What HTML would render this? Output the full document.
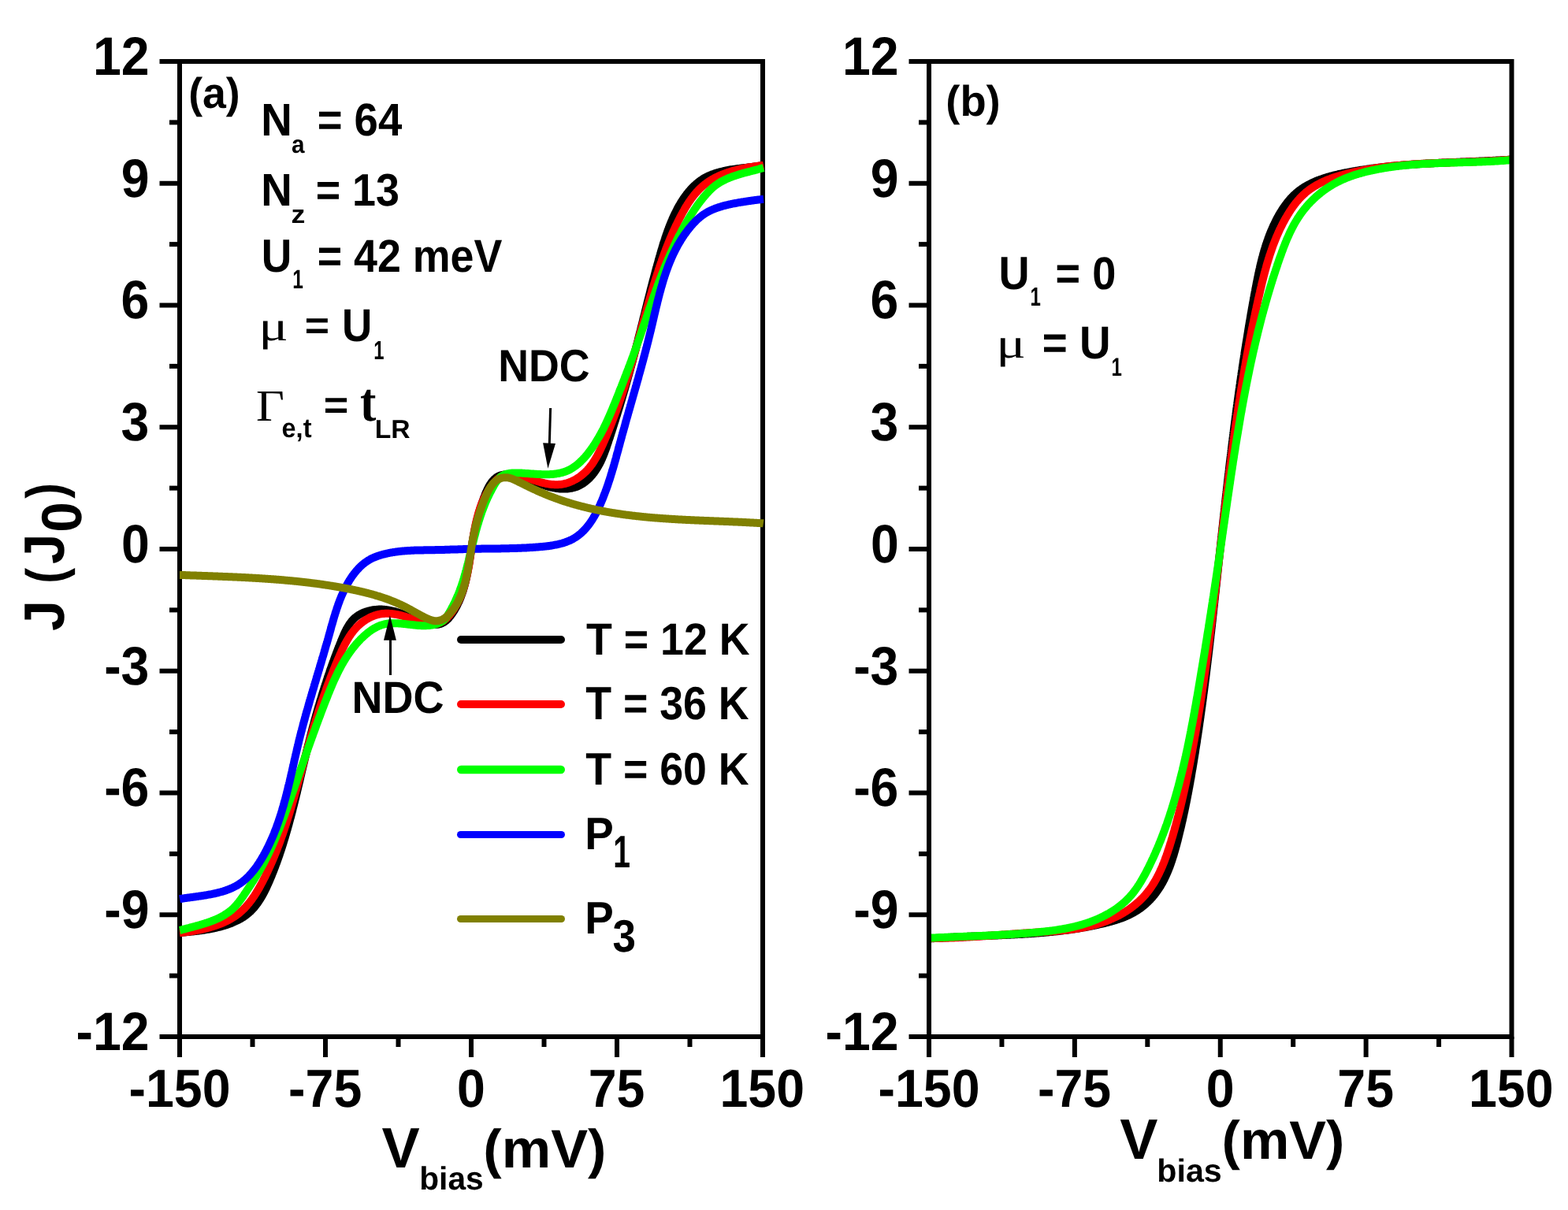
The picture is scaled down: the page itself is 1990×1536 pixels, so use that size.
<!DOCTYPE html>
<html><head><meta charset="utf-8"><title>J-V characteristics</title>
<style>
html,body{margin:0;padding:0;background:#fff;}
body{width:1990px;height:1536px;overflow:hidden;}
svg{display:block;}
text{font-kerning:none;white-space:pre;text-rendering:geometricPrecision;}
</style></head><body>
<svg width="1990" height="1536" viewBox="0 0 1990 1536">
<rect x="0" y="0" width="1990" height="1536" fill="#fff"/>
<rect x="228" y="78" width="740" height="1238" fill="none" stroke="#000" stroke-width="6"/>
<line x1="202.5" y1="1316.00" x2="228" y2="1316.00" stroke="#000" stroke-width="6"/>
<line x1="202.5" y1="1161.25" x2="228" y2="1161.25" stroke="#000" stroke-width="6"/>
<line x1="202.5" y1="1006.50" x2="228" y2="1006.50" stroke="#000" stroke-width="6"/>
<line x1="202.5" y1="851.75" x2="228" y2="851.75" stroke="#000" stroke-width="6"/>
<line x1="202.5" y1="697.00" x2="228" y2="697.00" stroke="#000" stroke-width="6"/>
<line x1="202.5" y1="542.25" x2="228" y2="542.25" stroke="#000" stroke-width="6"/>
<line x1="202.5" y1="387.50" x2="228" y2="387.50" stroke="#000" stroke-width="6"/>
<line x1="202.5" y1="232.75" x2="228" y2="232.75" stroke="#000" stroke-width="6"/>
<line x1="202.5" y1="78.00" x2="228" y2="78.00" stroke="#000" stroke-width="6"/>
<line x1="215" y1="1238.62" x2="228" y2="1238.62" stroke="#000" stroke-width="6"/>
<line x1="215" y1="1083.88" x2="228" y2="1083.88" stroke="#000" stroke-width="6"/>
<line x1="215" y1="929.12" x2="228" y2="929.12" stroke="#000" stroke-width="6"/>
<line x1="215" y1="774.38" x2="228" y2="774.38" stroke="#000" stroke-width="6"/>
<line x1="215" y1="619.62" x2="228" y2="619.62" stroke="#000" stroke-width="6"/>
<line x1="215" y1="464.88" x2="228" y2="464.88" stroke="#000" stroke-width="6"/>
<line x1="215" y1="310.12" x2="228" y2="310.12" stroke="#000" stroke-width="6"/>
<line x1="215" y1="155.38" x2="228" y2="155.38" stroke="#000" stroke-width="6"/>
<line x1="228.00" y1="1316" x2="228.00" y2="1342" stroke="#000" stroke-width="6"/>
<line x1="413.00" y1="1316" x2="413.00" y2="1342" stroke="#000" stroke-width="6"/>
<line x1="598.00" y1="1316" x2="598.00" y2="1342" stroke="#000" stroke-width="6"/>
<line x1="783.00" y1="1316" x2="783.00" y2="1342" stroke="#000" stroke-width="6"/>
<line x1="968.00" y1="1316" x2="968.00" y2="1342" stroke="#000" stroke-width="6"/>
<line x1="320.50" y1="1316" x2="320.50" y2="1329" stroke="#000" stroke-width="6"/>
<line x1="505.50" y1="1316" x2="505.50" y2="1329" stroke="#000" stroke-width="6"/>
<line x1="690.50" y1="1316" x2="690.50" y2="1329" stroke="#000" stroke-width="6"/>
<line x1="875.50" y1="1316" x2="875.50" y2="1329" stroke="#000" stroke-width="6"/>
<text transform="matrix(0.6440 0 0 0.6871 96.60 1332.90)" font-size="100" font-family='"Liberation Sans", Arial, sans-serif' font-weight="bold" fill="#000">-12</text>
<text transform="matrix(0.6440 0 0 0.6871 132.23 1178.15)" font-size="100" font-family='"Liberation Sans", Arial, sans-serif' font-weight="bold" fill="#000">-9</text>
<text transform="matrix(0.6440 0 0 0.6871 132.17 1023.40)" font-size="100" font-family='"Liberation Sans", Arial, sans-serif' font-weight="bold" fill="#000">-6</text>
<text transform="matrix(0.6440 0 0 0.6871 132.17 868.65)" font-size="100" font-family='"Liberation Sans", Arial, sans-serif' font-weight="bold" fill="#000">-3</text>
<text transform="matrix(0.6440 0 0 0.6871 153.93 713.90)" font-size="100" font-family='"Liberation Sans", Arial, sans-serif' font-weight="bold" fill="#000">0</text>
<text transform="matrix(0.6440 0 0 0.6871 153.61 559.15)" font-size="100" font-family='"Liberation Sans", Arial, sans-serif' font-weight="bold" fill="#000">3</text>
<text transform="matrix(0.6440 0 0 0.6871 153.61 404.40)" font-size="100" font-family='"Liberation Sans", Arial, sans-serif' font-weight="bold" fill="#000">6</text>
<text transform="matrix(0.6440 0 0 0.6871 153.67 249.65)" font-size="100" font-family='"Liberation Sans", Arial, sans-serif' font-weight="bold" fill="#000">9</text>
<text transform="matrix(0.6440 0 0 0.6871 118.05 94.90)" font-size="100" font-family='"Liberation Sans", Arial, sans-serif' font-weight="bold" fill="#000">12</text>
<text transform="matrix(0.6450 0 0 0.6805 163.52 1404.70)" font-size="100" font-family='"Liberation Sans", Arial, sans-serif' font-weight="bold" fill="#000">-150</text>
<text transform="matrix(0.6450 0 0 0.6805 366.03 1404.70)" font-size="100" font-family='"Liberation Sans", Arial, sans-serif' font-weight="bold" fill="#000">-75</text>
<text transform="matrix(0.6450 0 0 0.6805 580.11 1404.70)" font-size="100" font-family='"Liberation Sans", Arial, sans-serif' font-weight="bold" fill="#000">0</text>
<text transform="matrix(0.6450 0 0 0.6805 746.64 1404.70)" font-size="100" font-family='"Liberation Sans", Arial, sans-serif' font-weight="bold" fill="#000">75</text>
<text transform="matrix(0.6450 0 0 0.6805 913.48 1404.70)" font-size="100" font-family='"Liberation Sans", Arial, sans-serif' font-weight="bold" fill="#000">150</text>
<text transform="matrix(0.6440 0 0 0.6871 1047.60 1332.90)" font-size="100" font-family='"Liberation Sans", Arial, sans-serif' font-weight="bold" fill="#000">-12</text>
<text transform="matrix(0.6440 0 0 0.6871 1083.23 1178.15)" font-size="100" font-family='"Liberation Sans", Arial, sans-serif' font-weight="bold" fill="#000">-9</text>
<text transform="matrix(0.6440 0 0 0.6871 1083.17 1023.40)" font-size="100" font-family='"Liberation Sans", Arial, sans-serif' font-weight="bold" fill="#000">-6</text>
<text transform="matrix(0.6440 0 0 0.6871 1083.17 868.65)" font-size="100" font-family='"Liberation Sans", Arial, sans-serif' font-weight="bold" fill="#000">-3</text>
<text transform="matrix(0.6440 0 0 0.6871 1104.93 713.90)" font-size="100" font-family='"Liberation Sans", Arial, sans-serif' font-weight="bold" fill="#000">0</text>
<text transform="matrix(0.6440 0 0 0.6871 1104.61 559.15)" font-size="100" font-family='"Liberation Sans", Arial, sans-serif' font-weight="bold" fill="#000">3</text>
<text transform="matrix(0.6440 0 0 0.6871 1104.61 404.40)" font-size="100" font-family='"Liberation Sans", Arial, sans-serif' font-weight="bold" fill="#000">6</text>
<text transform="matrix(0.6440 0 0 0.6871 1104.67 249.65)" font-size="100" font-family='"Liberation Sans", Arial, sans-serif' font-weight="bold" fill="#000">9</text>
<text transform="matrix(0.6440 0 0 0.6871 1069.05 94.90)" font-size="100" font-family='"Liberation Sans", Arial, sans-serif' font-weight="bold" fill="#000">12</text>
<text transform="matrix(0.6450 0 0 0.6805 1114.52 1404.70)" font-size="100" font-family='"Liberation Sans", Arial, sans-serif' font-weight="bold" fill="#000">-150</text>
<text transform="matrix(0.6450 0 0 0.6805 1316.90 1404.70)" font-size="100" font-family='"Liberation Sans", Arial, sans-serif' font-weight="bold" fill="#000">-75</text>
<text transform="matrix(0.6450 0 0 0.6805 1530.86 1404.70)" font-size="100" font-family='"Liberation Sans", Arial, sans-serif' font-weight="bold" fill="#000">0</text>
<text transform="matrix(0.6450 0 0 0.6805 1697.27 1404.70)" font-size="100" font-family='"Liberation Sans", Arial, sans-serif' font-weight="bold" fill="#000">75</text>
<text transform="matrix(0.6450 0 0 0.6805 1863.98 1404.70)" font-size="100" font-family='"Liberation Sans", Arial, sans-serif' font-weight="bold" fill="#000">150</text>
<path d="M228.2 1184.1L229.2 1184.0L230.3 1183.9L231.4 1183.8L232.5 1183.7L233.6 1183.5L234.7 1183.4L235.8 1183.3L236.9 1183.2L238.1 1183.1L239.2 1183.0L240.4 1182.9L241.5 1182.8L242.7 1182.6L243.8 1182.5L245.0 1182.4L246.2 1182.3L247.4 1182.1L248.6 1182.0L249.8 1181.8L251.0 1181.7L252.2 1181.5L253.4 1181.4L254.6 1181.2L255.8 1181.0L257.0 1180.9L258.2 1180.7L259.4 1180.5L260.6 1180.3L261.9 1180.1L263.1 1179.9L264.3 1179.7L265.5 1179.5L266.7 1179.3L268.0 1179.0L269.2 1178.8L270.4 1178.6L271.6 1178.3L272.8 1178.0L274.1 1177.8L275.3 1177.5L276.5 1177.2L277.7 1176.9L278.9 1176.6L280.1 1176.3L281.3 1176.0L282.5 1175.6L283.6 1175.3L284.8 1174.9L286.0 1174.6L287.2 1174.2L288.3 1173.8L289.5 1173.4L290.6 1173.0L291.8 1172.6L292.9 1172.2L294.0 1171.7L295.1 1171.3L296.2 1170.8L297.3 1170.3L298.4 1169.8L299.5 1169.3L300.6 1168.8L301.6 1168.3L302.7 1167.7L303.7 1167.2L304.8 1166.6L305.8 1166.0L306.8 1165.4L307.8 1164.8L308.8 1164.2L309.7 1163.5L310.7 1162.9L311.6 1162.2L312.5 1161.5L313.4 1160.8L314.3 1160.1L315.2 1159.4L316.1 1158.6L316.9 1157.8L317.8 1157.1L318.6 1156.3L319.4 1155.5L320.2 1154.6L321.0 1153.8L321.8 1152.9L322.5 1152.1L323.3 1151.2L324.0 1150.3L324.7 1149.4L325.4 1148.5L326.1 1147.5L326.8 1146.6L327.5 1145.6L328.1 1144.7L328.8 1143.7L329.4 1142.7L330.1 1141.7L330.7 1140.7L331.3 1139.7L331.9 1138.7L332.5 1137.7L333.1 1136.7L333.7 1135.6L334.2 1134.6L334.8 1133.5L335.3 1132.5L335.9 1131.4L336.4 1130.3L337.0 1129.2L337.5 1128.2L338.0 1127.1L338.5 1126.0L339.0 1124.9L339.5 1123.8L340.0 1122.7L340.5 1121.6L341.0 1120.5L341.5 1119.4L342.0 1118.3L342.5 1117.1L342.9 1116.0L343.4 1114.9L343.9 1113.8L344.3 1112.7L344.8 1111.6L345.2 1110.4L345.7 1109.3L346.1 1108.2L346.6 1107.1L347.0 1106.0L347.5 1104.8L347.9 1103.7L348.3 1102.6L348.8 1101.5L349.2 1100.4L349.6 1099.2L350.0 1098.1L350.4 1097.0L350.9 1095.9L351.3 1094.7L351.7 1093.6L352.1 1092.5L352.5 1091.3L352.9 1090.2L353.3 1089.1L353.7 1088.0L354.1 1086.8L354.5 1085.7L354.9 1084.6L355.2 1083.4L355.6 1082.3L356.0 1081.2L356.4 1080.0L356.8 1078.9L357.1 1077.8L357.5 1076.6L357.9 1075.5L358.2 1074.3L358.6 1073.2L359.0 1072.1L359.3 1070.9L359.7 1069.8L360.0 1068.7L360.4 1067.5L360.7 1066.4L361.1 1065.2L361.4 1064.1L361.8 1062.9L362.1 1061.8L362.4 1060.7L362.8 1059.5L363.1 1058.4L363.4 1057.2L363.8 1056.1L364.1 1054.9L364.4 1053.8L364.8 1052.6L365.1 1051.5L365.4 1050.4L365.7 1049.2L366.0 1048.1L366.4 1046.9L366.7 1045.8L367.0 1044.6L367.3 1043.5L367.6 1042.3L367.9 1041.2L368.2 1040.0L368.5 1038.9L368.9 1037.7L369.2 1036.6L369.5 1035.4L369.8 1034.3L370.1 1033.1L370.4 1032.0L370.7 1030.8L371.0 1029.7L371.3 1028.5L371.5 1027.4L371.8 1026.2L372.1 1025.0L372.4 1023.9L372.7 1022.7L373.0 1021.6L373.3 1020.4L373.6 1019.3L373.9 1018.1L374.1 1017.0L374.4 1015.8L374.7 1014.7L375.0 1013.5L375.3 1012.3L375.6 1011.2L375.8 1010.0L376.1 1008.9L376.4 1007.7L376.7 1006.6L377.0 1005.4L377.2 1004.2L377.5 1003.1L377.8 1001.9L378.1 1000.8L378.3 999.6L378.6 998.5L378.9 997.3L379.2 996.1L379.4 995.0L379.7 993.8L380.0 992.7L380.3 991.5L380.5 990.4L380.8 989.2L381.1 988.0L381.3 986.9L381.6 985.7L381.9 984.6L382.2 983.4L382.4 982.3L382.7 981.1L383.0 979.9L383.2 978.8L383.5 977.6L383.8 976.5L384.1 975.3L384.3 974.1L384.6 973.0L384.9 971.8L385.2 970.7L385.4 969.5L385.7 968.4L386.0 967.2L386.3 966.0L386.5 964.9L386.8 963.7L387.1 962.6L387.4 961.4L387.6 960.2L387.9 959.1L388.2 957.9L388.5 956.8L388.7 955.6L389.0 954.5L389.3 953.3L389.6 952.1L389.9 951.0L390.2 949.8L390.4 948.7L390.7 947.5L391.0 946.4L391.3 945.2L391.6 944.1L391.9 942.9L392.2 941.7L392.4 940.6L392.7 939.4L393.0 938.3L393.3 937.1L393.6 936.0L393.9 934.8L394.2 933.7L394.5 932.5L394.8 931.4L395.1 930.2L395.4 929.1L395.7 927.9L396.0 926.8L396.3 925.6L396.6 924.4L396.9 923.3L397.2 922.1L397.5 921.0L397.9 919.8L398.2 918.7L398.5 917.5L398.8 916.4L399.1 915.2L399.4 914.1L399.7 912.9L400.1 911.8L400.4 910.6L400.7 909.5L401.0 908.4L401.3 907.2L401.7 906.1L402.0 904.9L402.3 903.8L402.6 902.6L403.0 901.5L403.3 900.3L403.6 899.2L404.0 898.0L404.3 896.9L404.6 895.7L405.0 894.6L405.3 893.5L405.7 892.3L406.0 891.2L406.3 890.0L406.7 888.9L407.0 887.7L407.4 886.6L407.7 885.5L408.1 884.3L408.4 883.2L408.8 882.0L409.1 880.9L409.5 879.8L409.8 878.6L410.2 877.5L410.6 876.3L410.9 875.2L411.3 874.1L411.6 872.9L412.0 871.8L412.4 870.6L412.7 869.5L413.1 868.4L413.5 867.2L413.9 866.1L414.2 865.0L414.6 863.8L415.0 862.7L415.4 861.6L415.7 860.4L416.1 859.3L416.5 858.2L416.9 857.0L417.3 855.9L417.7 854.8L418.1 853.6L418.4 852.5L418.8 851.4L419.2 850.3L419.6 849.1L420.0 848.0L420.4 846.9L420.8 845.7L421.2 844.6L421.6 843.5L422.0 842.4L422.4 841.2L422.9 840.1L423.3 839.0L423.7 837.9L424.1 836.7L424.5 835.6L424.9 834.5L425.3 833.4L425.8 832.2L426.2 831.1L426.6 830.0L427.0 828.9L427.5 827.8L427.9 826.6L428.3 825.5L428.8 824.4L429.2 823.3L429.6 822.2L430.1 821.0L430.5 819.9L431.0 818.8L431.4 817.7L431.8 816.6L432.3 815.5L432.7 814.4L433.2 813.2L433.6 812.1L434.1 811.0L434.6 809.9L435.0 808.8L435.5 807.7L436.0 806.6L436.4 805.5L436.9 804.4L437.4 803.3L437.9 802.2L438.4 801.2L439.0 800.1L439.5 799.1L440.0 798.0L440.6 797.0L441.2 796.0L441.8 795.0L442.4 794.0L443.0 793.0L443.6 792.1L444.3 791.1L445.0 790.2L445.7 789.3L446.4 788.4L447.2 787.6L447.9 786.7L448.7 785.9L449.6 785.1L450.4 784.3L451.3 783.6L452.2 782.9L453.1 782.2L454.1 781.5L455.1 780.9L456.1 780.3L457.1 779.7L458.2 779.1L459.3 778.6L460.4 778.1L461.5 777.6L462.7 777.2L463.8 776.7L465.0 776.3L466.2 776.0L467.4 775.6L468.6 775.3L469.8 775.0L471.1 774.8L472.3 774.5L473.5 774.3L474.8 774.1L476.0 774.0L477.2 773.9L478.5 773.8L479.7 773.7L480.9 773.6L482.1 773.6L483.3 773.6L484.5 773.6L485.7 773.7L486.9 773.8L488.1 773.8L489.2 774.0L490.4 774.1L491.6 774.3L492.7 774.4L493.9 774.6L495.0 774.8L496.2 775.1L497.3 775.3L498.5 775.6L499.6 775.8L500.7 776.1L501.8 776.4L503.0 776.8L504.1 777.1L505.2 777.4L506.3 777.8L507.4 778.1L508.6 778.5L509.7 778.9L510.8 779.3L511.9 779.7L513.0 780.1L514.1 780.5L515.2 780.9L516.4 781.3L517.5 781.7L518.6 782.1L519.7 782.5L520.8 783.0L522.0 783.4L523.1 783.8L524.2 784.2L525.4 784.7L526.5 785.1L527.7 785.5L528.8 786.0L530.0 786.4L531.1 786.8L532.3 787.2L533.5 787.7L534.6 788.1L535.8 788.5L537.0 789.0L538.2 789.4L539.4 789.8L540.7 790.2L541.9 790.6L543.1 791.0L544.3 791.3L545.5 791.7L546.7 792.0L547.9 792.2L549.1 792.4L550.3 792.6L551.5 792.7L552.6 792.8L553.8 792.8L554.9 792.8L556.0 792.7L557.0 792.5L558.1 792.2L559.1 791.9L560.1 791.5L561.1 791.1L562.1 790.6L563.0 790.1L563.9 789.5L564.8 788.9L565.7 788.2L566.6 787.5L567.4 786.7L568.3 785.9L569.1 785.1L569.9 784.2L570.6 783.3L571.4 782.4L572.1 781.4L572.9 780.5L573.6 779.5L574.3 778.5L574.9 777.5L575.6 776.4L576.3 775.4L576.9 774.4L577.5 773.3L578.1 772.3L578.7 771.2L579.3 770.2L579.8 769.1L580.4 768.0L580.9 766.9L581.4 765.8L582.0 764.8L582.5 763.7L582.9 762.6L583.4 761.5L583.9 760.4L584.3 759.2L584.8 758.1L585.2 757.0L585.6 755.9L586.0 754.7L586.4 753.6L586.8 752.5L587.2 751.3L587.6 750.2L587.9 749.0L588.3 747.9L588.6 746.7L588.9 745.6L589.3 744.4L589.6 743.2L589.9 742.1L590.2 740.9L590.5 739.7L590.8 738.6L591.1 737.4L591.3 736.2L591.6 735.0L591.9 733.9L592.1 732.7L592.4 731.5L592.6 730.3L592.8 729.1L593.1 727.9L593.3 726.8L593.5 725.6L593.7 724.4L594.0 723.2L594.2 722.0L594.4 720.8L594.6 719.6L594.8 718.4L595.0 717.3L595.2 716.1L595.4 714.9L595.6 713.7L595.7 712.5L595.9 711.3L596.1 710.1L596.3 709.0L596.5 707.8L596.7 706.6L596.8 705.4L597.0 704.2L597.2 703.1L597.4 701.9L597.6 700.7L597.7 699.6L597.9 698.4L598.1 697.2L598.3 696.1L598.5 694.9L598.6 693.8L598.8 692.6L599.0 691.4L599.2 690.3L599.4 689.2L599.6 688.0L599.8 686.9L600.0 685.7L600.2 684.6L600.4 683.4L600.6 682.3L600.8 681.2L601.0 680.0L601.2 678.9L601.4 677.8L601.7 676.6L601.9 675.5L602.1 674.4L602.4 673.2L602.6 672.1L602.8 671.0L603.1 669.8L603.3 668.7L603.6 667.6L603.8 666.4L604.1 665.3L604.4 664.2L604.6 663.0L604.9 661.9L605.2 660.7L605.5 659.6L605.8 658.5L606.1 657.3L606.4 656.2L606.7 655.0L607.0 653.9L607.3 652.7L607.6 651.6L608.0 650.4L608.3 649.3L608.7 648.1L609.0 646.9L609.4 645.8L609.7 644.6L610.1 643.4L610.5 642.3L610.9 641.1L611.3 639.9L611.7 638.7L612.1 637.5L612.5 636.3L612.9 635.1L613.4 633.9L613.8 632.7L614.2 631.5L614.7 630.3L615.2 629.1L615.6 627.9L616.1 626.7L616.6 625.5L617.2 624.3L617.7 623.1L618.2 622.0L618.8 620.8L619.3 619.7L619.9 618.6L620.5 617.5L621.1 616.4L621.8 615.3L622.4 614.3L623.1 613.3L623.8 612.4L624.5 611.4L625.2 610.5L626.0 609.7L626.8 608.9L627.6 608.1L628.4 607.4L629.2 606.7L630.1 606.0L631.0 605.4L631.9 604.9L632.8 604.4L633.8 604.0L634.8 603.6L635.8 603.3L636.9 603.0L637.9 602.8L639.0 602.6L640.1 602.4L641.2 602.3L642.4 602.3L643.5 602.2L644.7 602.2L645.8 602.3L647.0 602.4L648.2 602.5L649.4 602.6L650.6 602.8L651.8 603.0L653.0 603.2L654.2 603.5L655.4 603.7L656.6 604.0L657.8 604.3L658.9 604.6L660.1 605.0L661.3 605.3L662.5 605.7L663.6 606.0L664.8 606.4L665.9 606.8L667.0 607.2L668.2 607.6L669.3 608.0L670.4 608.4L671.5 608.9L672.6 609.3L673.7 609.7L674.8 610.1L675.9 610.6L677.1 611.0L678.2 611.5L679.3 611.9L680.4 612.3L681.5 612.8L682.6 613.2L683.7 613.6L684.8 614.0L685.9 614.4L687.0 614.9L688.1 615.3L689.2 615.7L690.4 616.0L691.5 616.4L692.6 616.8L693.8 617.1L694.9 617.5L696.1 617.8L697.3 618.1L698.4 618.4L699.6 618.7L700.8 618.9L702.0 619.2L703.2 619.4L704.4 619.6L705.6 619.8L706.9 620.0L708.1 620.1L709.3 620.3L710.5 620.4L711.8 620.5L713.0 620.5L714.2 620.6L715.5 620.6L716.7 620.6L717.9 620.5L719.1 620.5L720.3 620.4L721.5 620.3L722.7 620.1L723.9 619.9L725.1 619.7L726.3 619.5L727.4 619.2L728.5 618.9L729.7 618.6L730.8 618.2L731.9 617.9L733.0 617.4L734.0 617.0L735.1 616.5L736.1 615.9L737.1 615.4L738.1 614.8L739.1 614.2L740.1 613.6L741.1 612.9L742.0 612.2L742.9 611.5L743.8 610.8L744.7 610.1L745.6 609.3L746.5 608.5L747.3 607.7L748.2 606.9L749.0 606.0L749.8 605.1L750.6 604.3L751.4 603.4L752.1 602.5L752.9 601.5L753.6 600.6L754.3 599.6L755.0 598.7L755.7 597.7L756.3 596.7L757.0 595.7L757.6 594.7L758.2 593.7L758.8 592.7L759.4 591.7L760.0 590.6L760.5 589.6L761.1 588.6L761.6 587.5L762.2 586.4L762.7 585.4L763.2 584.3L763.7 583.2L764.2 582.1L764.6 581.0L765.1 579.9L765.6 578.8L766.0 577.7L766.4 576.6L766.9 575.5L767.3 574.4L767.7 573.3L768.1 572.2L768.6 571.0L769.0 569.9L769.4 568.8L769.8 567.6L770.1 566.5L770.5 565.4L770.9 564.2L771.3 563.1L771.7 562.0L772.1 560.8L772.4 559.7L772.8 558.5L773.2 557.4L773.6 556.3L774.0 555.1L774.3 554.0L774.7 552.8L775.1 551.7L775.4 550.6L775.8 549.4L776.2 548.3L776.6 547.1L776.9 546.0L777.3 544.9L777.7 543.7L778.0 542.6L778.4 541.4L778.8 540.3L779.1 539.2L779.5 538.0L779.8 536.9L780.2 535.7L780.6 534.6L780.9 533.5L781.3 532.3L781.6 531.2L782.0 530.0L782.3 528.9L782.7 527.8L783.1 526.6L783.4 525.5L783.8 524.3L784.1 523.2L784.5 522.1L784.8 520.9L785.2 519.8L785.5 518.6L785.9 517.5L786.2 516.3L786.6 515.2L786.9 514.1L787.2 512.9L787.6 511.8L787.9 510.6L788.3 509.5L788.6 508.4L789.0 507.2L789.3 506.1L789.6 504.9L790.0 503.8L790.3 502.6L790.6 501.5L791.0 500.4L791.3 499.2L791.7 498.1L792.0 496.9L792.3 495.8L792.7 494.6L793.0 493.5L793.3 492.4L793.6 491.2L794.0 490.1L794.3 488.9L794.6 487.8L795.0 486.6L795.3 485.5L795.6 484.3L795.9 483.2L796.3 482.1L796.6 480.9L796.9 479.8L797.2 478.6L797.5 477.5L797.9 476.3L798.2 475.2L798.5 474.0L798.8 472.9L799.1 471.7L799.4 470.6L799.8 469.4L800.1 468.3L800.4 467.1L800.7 466.0L801.0 464.9L801.3 463.7L801.6 462.6L801.9 461.4L802.3 460.3L802.6 459.1L802.9 458.0L803.2 456.8L803.5 455.7L803.8 454.5L804.1 453.4L804.4 452.2L804.7 451.1L805.0 449.9L805.3 448.8L805.6 447.6L805.9 446.5L806.2 445.3L806.5 444.2L806.8 443.0L807.1 441.8L807.4 440.7L807.7 439.5L808.0 438.4L808.3 437.2L808.6 436.1L808.9 434.9L809.2 433.8L809.5 432.6L809.8 431.5L810.1 430.3L810.3 429.2L810.6 428.0L810.9 426.8L811.2 425.7L811.5 424.5L811.8 423.4L812.1 422.2L812.4 421.1L812.7 419.9L813.0 418.8L813.3 417.6L813.5 416.5L813.8 415.3L814.1 414.1L814.4 413.0L814.7 411.8L815.0 410.7L815.3 409.5L815.6 408.4L815.9 407.2L816.1 406.0L816.4 404.9L816.7 403.7L817.0 402.6L817.3 401.4L817.6 400.3L817.9 399.1L818.2 398.0L818.5 396.8L818.7 395.6L819.0 394.5L819.3 393.3L819.6 392.2L819.9 391.0L820.2 389.9L820.5 388.7L820.8 387.5L821.1 386.4L821.3 385.2L821.6 384.1L821.9 382.9L822.2 381.8L822.5 380.6L822.8 379.4L823.1 378.3L823.4 377.1L823.7 376.0L824.0 374.8L824.3 373.7L824.6 372.5L824.9 371.4L825.2 370.2L825.4 369.0L825.7 367.9L826.0 366.7L826.3 365.6L826.6 364.4L826.9 363.3L827.2 362.1L827.5 361.0L827.8 359.8L828.1 358.7L828.4 357.5L828.7 356.3L829.0 355.2L829.4 354.0L829.7 352.9L830.0 351.7L830.3 350.6L830.6 349.4L830.9 348.3L831.2 347.1L831.5 346.0L831.8 344.8L832.1 343.7L832.4 342.5L832.7 341.4L833.1 340.2L833.4 339.1L833.7 337.9L834.0 336.8L834.3 335.6L834.6 334.5L835.0 333.3L835.3 332.2L835.6 331.0L835.9 329.9L836.3 328.7L836.6 327.6L836.9 326.4L837.2 325.3L837.6 324.1L837.9 323.0L838.2 321.8L838.6 320.7L838.9 319.5L839.2 318.4L839.6 317.2L839.9 316.1L840.3 315.0L840.6 313.8L840.9 312.7L841.3 311.5L841.6 310.4L842.0 309.2L842.3 308.1L842.7 307.0L843.1 305.8L843.4 304.7L843.8 303.6L844.2 302.4L844.5 301.3L844.9 300.2L845.3 299.0L845.7 297.9L846.1 296.8L846.5 295.7L846.9 294.5L847.3 293.4L847.7 292.3L848.1 291.2L848.5 290.1L848.9 288.9L849.4 287.8L849.8 286.7L850.2 285.6L850.7 284.5L851.1 283.4L851.6 282.3L852.0 281.2L852.5 280.1L853.0 279.0L853.4 277.9L853.9 276.8L854.4 275.7L854.9 274.7L855.4 273.6L855.9 272.5L856.4 271.4L856.9 270.4L857.5 269.3L858.0 268.2L858.6 267.2L859.1 266.1L859.7 265.0L860.2 264.0L860.8 262.9L861.4 261.9L862.0 260.9L862.6 259.8L863.2 258.8L863.8 257.8L864.4 256.7L865.1 255.7L865.7 254.7L866.4 253.7L867.0 252.7L867.7 251.7L868.4 250.7L869.0 249.7L869.7 248.8L870.5 247.8L871.2 246.9L871.9 245.9L872.6 245.0L873.4 244.1L874.1 243.1L874.9 242.2L875.7 241.4L876.4 240.5L877.2 239.6L878.0 238.7L878.9 237.9L879.7 237.1L880.5 236.3L881.4 235.4L882.2 234.7L883.1 233.9L884.0 233.1L884.9 232.4L885.8 231.6L886.7 230.9L887.6 230.2L888.6 229.5L889.5 228.8L890.5 228.2L891.4 227.6L892.4 226.9L893.4 226.3L894.4 225.8L895.5 225.2L896.5 224.6L897.5 224.1L898.6 223.6L899.7 223.1L900.7 222.6L901.8 222.2L902.9 221.7L904.0 221.3L905.2 220.9L906.3 220.5L907.4 220.1L908.6 219.7L909.7 219.4L910.9 219.0L912.0 218.7L913.2 218.4L914.4 218.1L915.6 217.8L916.8 217.5L917.9 217.2L919.1 216.9L920.4 216.7L921.6 216.4L922.8 216.2L924.0 216.0L925.2 215.7L926.4 215.5L927.6 215.3L928.9 215.1L930.1 214.9L931.3 214.8L932.5 214.6L933.8 214.4L935.0 214.2L936.2 214.1L937.4 213.9L938.7 213.8L939.9 213.6L941.1 213.5L942.3 213.3L943.5 213.2L944.8 213.0L946.0 212.9L947.2 212.8L948.4 212.6L949.6 212.5L950.8 212.3L952.0 212.2L953.1 212.1L954.3 211.9L955.5 211.8L956.6 211.6L957.8 211.5L959.0 211.3L960.1 211.2L961.2 211.0L962.4 210.9L963.5 210.7L964.6 210.5L965.7 210.4L966.8 210.2L967.8 210.0L968.9 209.8" fill="none" stroke="#000" stroke-width="10" stroke-linejoin="round"/>
<path d="M228.0 1184.1L229.1 1184.0L230.2 1183.9L231.3 1183.8L232.4 1183.7L233.5 1183.5L234.6 1183.4L235.7 1183.2L236.9 1183.1L238.0 1182.9L239.1 1182.8L240.3 1182.6L241.4 1182.5L242.5 1182.3L243.7 1182.1L244.8 1181.9L246.0 1181.7L247.1 1181.5L248.3 1181.3L249.4 1181.1L250.6 1180.9L251.7 1180.7L252.9 1180.5L254.0 1180.2L255.2 1180.0L256.3 1179.7L257.5 1179.5L258.7 1179.2L259.8 1178.9L261.0 1178.6L262.1 1178.4L263.3 1178.1L264.4 1177.8L265.6 1177.4L266.7 1177.1L267.8 1176.8L269.0 1176.5L270.1 1176.1L271.2 1175.7L272.4 1175.4L273.5 1175.0L274.6 1174.6L275.7 1174.2L276.8 1173.8L277.9 1173.4L279.0 1173.0L280.1 1172.6L281.2 1172.1L282.3 1171.7L283.4 1171.2L284.4 1170.7L285.5 1170.2L286.6 1169.7L287.6 1169.2L288.6 1168.7L289.7 1168.2L290.7 1167.6L291.7 1167.1L292.7 1166.5L293.7 1165.9L294.7 1165.3L295.7 1164.7L296.6 1164.1L297.6 1163.5L298.5 1162.9L299.5 1162.2L300.4 1161.5L301.3 1160.9L302.2 1160.2L303.1 1159.5L304.0 1158.7L304.8 1158.0L305.7 1157.3L306.5 1156.5L307.4 1155.8L308.2 1155.0L309.0 1154.2L309.8 1153.4L310.6 1152.6L311.4 1151.7L312.2 1150.9L312.9 1150.1L313.7 1149.2L314.4 1148.3L315.1 1147.5L315.9 1146.6L316.6 1145.7L317.3 1144.8L318.0 1143.9L318.7 1143.0L319.4 1142.1L320.0 1141.1L320.7 1140.2L321.4 1139.2L322.0 1138.3L322.7 1137.3L323.3 1136.4L323.9 1135.4L324.6 1134.4L325.2 1133.4L325.8 1132.4L326.4 1131.4L327.0 1130.4L327.6 1129.4L328.2 1128.4L328.8 1127.4L329.3 1126.4L329.9 1125.4L330.5 1124.3L331.0 1123.3L331.6 1122.3L332.1 1121.2L332.7 1120.2L333.2 1119.2L333.8 1118.1L334.3 1117.1L334.8 1116.0L335.4 1115.0L335.9 1113.9L336.4 1112.9L336.9 1111.9L337.4 1110.8L337.9 1109.8L338.5 1108.7L339.0 1107.6L339.5 1106.6L340.0 1105.5L340.4 1104.5L340.9 1103.4L341.4 1102.4L341.9 1101.3L342.4 1100.2L342.9 1099.2L343.3 1098.1L343.8 1097.1L344.3 1096.0L344.7 1094.9L345.2 1093.9L345.7 1092.8L346.1 1091.7L346.6 1090.7L347.0 1089.6L347.5 1088.5L347.9 1087.4L348.4 1086.4L348.8 1085.3L349.2 1084.2L349.7 1083.1L350.1 1082.1L350.5 1081.0L351.0 1079.9L351.4 1078.8L351.8 1077.7L352.2 1076.7L352.6 1075.6L353.0 1074.5L353.5 1073.4L353.9 1072.3L354.3 1071.2L354.7 1070.2L355.1 1069.1L355.5 1068.0L355.9 1066.9L356.3 1065.8L356.6 1064.7L357.0 1063.6L357.4 1062.5L357.8 1061.4L358.2 1060.4L358.6 1059.3L359.0 1058.2L359.3 1057.1L359.7 1056.0L360.1 1054.9L360.4 1053.8L360.8 1052.7L361.2 1051.6L361.5 1050.5L361.9 1049.4L362.3 1048.3L362.6 1047.2L363.0 1046.1L363.3 1045.0L363.7 1043.9L364.1 1042.8L364.4 1041.7L364.8 1040.6L365.1 1039.5L365.4 1038.4L365.8 1037.3L366.1 1036.2L366.5 1035.1L366.8 1034.0L367.2 1032.8L367.5 1031.7L367.8 1030.6L368.2 1029.5L368.5 1028.4L368.8 1027.3L369.2 1026.2L369.5 1025.1L369.8 1024.0L370.1 1022.9L370.5 1021.8L370.8 1020.6L371.1 1019.5L371.4 1018.4L371.8 1017.3L372.1 1016.2L372.4 1015.1L372.7 1014.0L373.0 1012.9L373.4 1011.7L373.7 1010.6L374.0 1009.5L374.3 1008.4L374.6 1007.3L374.9 1006.2L375.2 1005.1L375.5 1003.9L375.9 1002.8L376.2 1001.7L376.5 1000.6L376.8 999.5L377.1 998.4L377.4 997.3L377.7 996.1L378.0 995.0L378.3 993.9L378.6 992.8L378.9 991.7L379.2 990.6L379.5 989.4L379.8 988.3L380.2 987.2L380.5 986.1L380.8 985.0L381.1 983.9L381.4 982.7L381.7 981.6L382.0 980.5L382.3 979.4L382.6 978.3L382.9 977.2L383.2 976.0L383.5 974.9L383.8 973.8L384.1 972.7L384.4 971.6L384.7 970.4L385.0 969.3L385.3 968.2L385.6 967.1L385.9 966.0L386.2 964.9L386.5 963.8L386.8 962.6L387.1 961.5L387.4 960.4L387.7 959.3L388.1 958.2L388.4 957.1L388.7 955.9L389.0 954.8L389.3 953.7L389.6 952.6L389.9 951.5L390.2 950.4L390.5 949.3L390.8 948.2L391.2 947.0L391.5 945.9L391.8 944.8L392.1 943.7L392.4 942.6L392.7 941.5L393.0 940.4L393.4 939.3L393.7 938.2L394.0 937.0L394.3 935.9L394.7 934.8L395.0 933.7L395.3 932.6L395.6 931.5L396.0 930.4L396.3 929.3L396.6 928.2L396.9 927.1L397.3 926.0L397.6 924.9L397.9 923.8L398.3 922.7L398.6 921.5L398.9 920.4L399.3 919.3L399.6 918.2L400.0 917.1L400.3 916.0L400.6 914.9L401.0 913.8L401.3 912.7L401.7 911.6L402.0 910.5L402.4 909.4L402.7 908.3L403.1 907.2L403.4 906.1L403.8 905.0L404.1 903.9L404.5 902.8L404.8 901.7L405.2 900.6L405.6 899.5L405.9 898.4L406.3 897.3L406.6 896.2L407.0 895.1L407.4 894.0L407.7 892.9L408.1 891.9L408.5 890.8L408.9 889.7L409.2 888.6L409.6 887.5L410.0 886.4L410.4 885.3L410.7 884.2L411.1 883.1L411.5 882.0L411.9 880.9L412.3 879.8L412.7 878.7L413.1 877.6L413.5 876.5L413.8 875.5L414.2 874.4L414.6 873.3L415.0 872.2L415.4 871.1L415.8 870.0L416.2 868.9L416.6 867.8L417.1 866.7L417.5 865.7L417.9 864.6L418.3 863.5L418.7 862.4L419.1 861.3L419.5 860.2L419.9 859.1L420.4 858.1L420.8 857.0L421.2 855.9L421.6 854.8L422.1 853.7L422.5 852.6L422.9 851.5L423.4 850.5L423.8 849.4L424.2 848.3L424.7 847.2L425.1 846.1L425.6 845.1L426.0 844.0L426.5 842.9L426.9 841.8L427.4 840.7L427.8 839.7L428.3 838.6L428.7 837.5L429.2 836.4L429.7 835.3L430.1 834.3L430.6 833.2L431.1 832.1L431.5 831.0L432.0 830.0L432.5 828.9L433.0 827.8L433.4 826.7L433.9 825.7L434.4 824.6L434.9 823.5L435.4 822.5L436.0 821.4L436.5 820.4L437.0 819.3L437.5 818.3L438.1 817.3L438.6 816.2L439.2 815.2L439.7 814.2L440.3 813.2L440.9 812.2L441.5 811.2L442.1 810.2L442.7 809.2L443.3 808.2L443.9 807.3L444.6 806.3L445.2 805.4L445.9 804.4L446.6 803.5L447.3 802.6L448.0 801.7L448.7 800.8L449.4 799.9L450.2 799.0L450.9 798.2L451.7 797.3L452.5 796.5L453.3 795.6L454.1 794.8L454.9 794.0L455.8 793.3L456.7 792.5L457.5 791.7L458.4 791.0L459.3 790.3L460.3 789.6L461.2 788.9L462.2 788.2L463.1 787.5L464.1 786.9L465.1 786.3L466.1 785.7L467.1 785.1L468.1 784.6L469.1 784.0L470.1 783.5L471.2 783.0L472.2 782.6L473.3 782.2L474.4 781.7L475.4 781.4L476.5 781.0L477.6 780.7L478.7 780.3L479.8 780.1L480.9 779.8L482.0 779.6L483.1 779.4L484.2 779.2L485.3 779.1L486.4 779.0L487.5 778.9L488.7 778.8L489.8 778.8L490.9 778.8L492.0 778.8L493.2 778.8L494.3 778.9L495.5 779.0L496.6 779.1L497.7 779.2L498.9 779.3L500.0 779.5L501.2 779.7L502.3 779.9L503.5 780.1L504.7 780.3L505.8 780.6L507.0 780.8L508.1 781.1L509.3 781.4L510.5 781.7L511.6 782.0L512.8 782.4L514.0 782.7L515.1 783.1L516.3 783.5L517.5 783.8L518.6 784.2L519.8 784.6L521.0 785.0L522.1 785.5L523.3 785.9L524.5 786.3L525.7 786.7L526.8 787.1L528.0 787.5L529.2 787.9L530.3 788.3L531.5 788.7L532.7 789.1L533.8 789.5L535.0 789.8L536.2 790.2L537.3 790.5L538.5 790.8L539.7 791.1L540.8 791.3L542.0 791.5L543.1 791.7L544.3 791.9L545.4 792.1L546.6 792.2L547.7 792.2L548.8 792.3L549.9 792.3L551.0 792.2L552.1 792.1L553.2 792.0L554.2 791.8L555.2 791.6L556.3 791.3L557.3 790.9L558.2 790.6L559.2 790.1L560.1 789.6L561.1 789.1L562.0 788.6L562.9 788.0L563.8 787.3L564.6 786.6L565.5 785.9L566.3 785.2L567.1 784.4L567.9 783.6L568.7 782.8L569.5 782.0L570.3 781.1L571.0 780.2L571.7 779.3L572.4 778.4L573.1 777.5L573.8 776.6L574.5 775.6L575.1 774.7L575.8 773.7L576.4 772.7L577.0 771.8L577.6 770.8L578.2 769.8L578.8 768.8L579.4 767.8L579.9 766.8L580.5 765.8L581.0 764.8L581.5 763.8L582.0 762.8L582.5 761.7L583.0 760.7L583.5 759.7L583.9 758.6L584.4 757.6L584.8 756.5L585.2 755.5L585.6 754.4L586.1 753.3L586.5 752.3L586.8 751.2L587.2 750.1L587.6 749.0L588.0 747.9L588.3 746.9L588.7 745.8L589.0 744.7L589.3 743.6L589.7 742.5L590.0 741.3L590.3 740.2L590.6 739.1L590.9 738.0L591.2 736.9L591.4 735.8L591.7 734.6L592.0 733.5L592.2 732.4L592.5 731.2L592.7 730.1L593.0 729.0L593.2 727.8L593.5 726.7L593.7 725.5L593.9 724.4L594.1 723.2L594.4 722.1L594.6 720.9L594.8 719.8L595.0 718.6L595.2 717.4L595.4 716.3L595.6 715.1L595.8 714.0L595.9 712.8L596.1 711.6L596.3 710.5L596.5 709.3L596.7 708.1L596.9 706.9L597.0 705.8L597.2 704.6L597.4 703.4L597.6 702.3L597.7 701.1L597.9 699.9L598.1 698.7L598.2 697.6L598.4 696.4L598.6 695.2L598.8 694.0L598.9 692.9L599.1 691.7L599.3 690.5L599.5 689.3L599.6 688.2L599.8 687.0L600.0 685.8L600.2 684.7L600.4 683.5L600.6 682.3L600.7 681.2L600.9 680.0L601.1 678.8L601.3 677.7L601.5 676.5L601.7 675.3L601.9 674.2L602.2 673.0L602.4 671.9L602.6 670.7L602.8 669.6L603.1 668.4L603.3 667.3L603.5 666.1L603.8 665.0L604.0 663.9L604.3 662.7L604.6 661.6L604.8 660.5L605.1 659.3L605.4 658.2L605.7 657.1L606.0 656.0L606.3 654.8L606.6 653.7L606.9 652.6L607.2 651.5L607.5 650.4L607.9 649.3L608.2 648.2L608.6 647.1L608.9 646.0L609.3 644.9L609.7 643.9L610.1 642.8L610.5 641.7L610.9 640.6L611.3 639.6L611.7 638.5L612.2 637.5L612.6 636.4L613.1 635.4L613.5 634.3L614.0 633.3L614.5 632.3L615.0 631.2L615.5 630.2L616.1 629.2L616.6 628.2L617.1 627.2L617.7 626.2L618.3 625.2L618.9 624.2L619.5 623.2L620.1 622.3L620.7 621.3L621.3 620.3L622.0 619.4L622.6 618.4L623.3 617.5L624.0 616.5L624.7 615.6L625.4 614.7L626.2 613.8L626.9 612.9L627.7 612.1L628.4 611.2L629.2 610.4L630.0 609.6L630.8 608.8L631.7 608.1L632.5 607.4L633.4 606.7L634.3 606.1L635.1 605.5L636.0 604.9L637.0 604.4L637.9 603.9L638.8 603.5L639.8 603.1L640.8 602.7L641.8 602.4L642.8 602.2L643.8 602.0L644.8 601.9L645.9 601.8L647.0 601.7L648.0 601.7L649.1 601.7L650.2 601.8L651.3 601.9L652.4 602.0L653.6 602.2L654.7 602.4L655.8 602.6L657.0 602.8L658.2 603.1L659.3 603.4L660.5 603.7L661.7 604.1L662.8 604.4L664.0 604.8L665.2 605.2L666.4 605.6L667.6 606.0L668.8 606.4L670.0 606.8L671.2 607.3L672.4 607.7L673.6 608.1L674.8 608.5L676.0 609.0L677.2 609.4L678.4 609.8L679.6 610.2L680.8 610.6L682.0 611.0L683.2 611.3L684.4 611.7L685.5 612.0L686.7 612.4L687.9 612.7L689.1 613.0L690.2 613.2L691.4 613.5L692.5 613.8L693.7 614.0L694.8 614.2L696.0 614.4L697.1 614.6L698.3 614.7L699.4 614.9L700.6 615.0L701.7 615.1L702.8 615.1L703.9 615.2L705.1 615.2L706.2 615.2L707.3 615.2L708.4 615.2L709.5 615.1L710.6 615.0L711.7 614.9L712.8 614.8L713.9 614.6L715.0 614.4L716.1 614.2L717.2 613.9L718.3 613.6L719.4 613.3L720.4 613.0L721.5 612.6L722.6 612.2L723.6 611.8L724.7 611.4L725.7 610.9L726.8 610.5L727.8 609.9L728.8 609.4L729.8 608.9L730.9 608.3L731.8 607.7L732.8 607.1L733.8 606.5L734.8 605.8L735.7 605.2L736.7 604.5L737.6 603.8L738.5 603.0L739.4 602.3L740.3 601.5L741.2 600.8L742.0 600.0L742.8 599.2L743.7 598.4L744.5 597.6L745.3 596.7L746.0 595.9L746.8 595.0L747.6 594.1L748.3 593.3L749.0 592.4L749.7 591.4L750.4 590.5L751.1 589.6L751.8 588.7L752.4 587.7L753.1 586.7L753.7 585.8L754.3 584.8L754.9 583.8L755.5 582.8L756.1 581.8L756.7 580.8L757.3 579.8L757.9 578.8L758.4 577.8L759.0 576.7L759.5 575.7L760.1 574.6L760.6 573.6L761.1 572.5L761.6 571.5L762.1 570.4L762.6 569.4L763.1 568.3L763.6 567.2L764.1 566.1L764.6 565.1L765.1 564.0L765.6 562.9L766.0 561.8L766.5 560.8L767.0 559.7L767.4 558.6L767.9 557.5L768.4 556.4L768.8 555.3L769.3 554.3L769.7 553.2L770.2 552.1L770.6 551.0L771.1 549.9L771.5 548.9L772.0 547.8L772.4 546.7L772.8 545.6L773.3 544.5L773.7 543.4L774.1 542.4L774.6 541.3L775.0 540.2L775.4 539.1L775.9 538.0L776.3 537.0L776.7 535.9L777.1 534.8L777.5 533.7L777.9 532.6L778.4 531.5L778.8 530.4L779.2 529.4L779.6 528.3L780.0 527.2L780.4 526.1L780.8 525.0L781.2 523.9L781.6 522.8L782.0 521.8L782.4 520.7L782.8 519.6L783.2 518.5L783.6 517.4L784.0 516.3L784.3 515.2L784.7 514.1L785.1 513.1L785.5 512.0L785.9 510.9L786.3 509.8L786.6 508.7L787.0 507.6L787.4 506.5L787.8 505.4L788.1 504.3L788.5 503.2L788.9 502.2L789.2 501.1L789.6 500.0L790.0 498.9L790.3 497.8L790.7 496.7L791.0 495.6L791.4 494.5L791.8 493.4L792.1 492.3L792.5 491.2L792.8 490.1L793.2 489.0L793.5 487.9L793.9 486.8L794.2 485.7L794.6 484.6L794.9 483.5L795.2 482.4L795.6 481.3L795.9 480.3L796.3 479.2L796.6 478.1L797.0 477.0L797.3 475.9L797.6 474.7L798.0 473.6L798.3 472.5L798.6 471.4L799.0 470.3L799.3 469.2L799.6 468.1L800.0 467.0L800.3 465.9L800.6 464.8L800.9 463.7L801.3 462.6L801.6 461.5L801.9 460.4L802.2 459.3L802.6 458.2L802.9 457.1L803.2 456.0L803.5 454.9L803.8 453.7L804.2 452.6L804.5 451.5L804.8 450.4L805.1 449.3L805.4 448.2L805.7 447.1L806.1 446.0L806.4 444.8L806.7 443.7L807.0 442.6L807.3 441.5L807.6 440.4L807.9 439.3L808.2 438.1L808.5 437.0L808.9 435.9L809.2 434.8L809.5 433.7L809.8 432.6L810.1 431.4L810.4 430.3L810.7 429.2L811.0 428.1L811.3 427.0L811.6 425.8L811.9 424.7L812.2 423.6L812.6 422.5L812.9 421.4L813.2 420.2L813.5 419.1L813.8 418.0L814.1 416.9L814.4 415.8L814.7 414.6L815.0 413.5L815.3 412.4L815.6 411.3L815.9 410.2L816.2 409.0L816.5 407.9L816.9 406.8L817.2 405.7L817.5 404.6L817.8 403.4L818.1 402.3L818.4 401.2L818.7 400.1L819.0 399.0L819.3 397.8L819.6 396.7L820.0 395.6L820.3 394.5L820.6 393.4L820.9 392.2L821.2 391.1L821.5 390.0L821.8 388.9L822.2 387.8L822.5 386.6L822.8 385.5L823.1 384.4L823.4 383.3L823.7 382.2L824.1 381.1L824.4 379.9L824.7 378.8L825.0 377.7L825.3 376.6L825.7 375.5L826.0 374.4L826.3 373.2L826.7 372.1L827.0 371.0L827.3 369.9L827.6 368.8L828.0 367.7L828.3 366.6L828.6 365.5L829.0 364.4L829.3 363.2L829.6 362.1L830.0 361.0L830.3 359.9L830.7 358.8L831.0 357.7L831.3 356.6L831.7 355.5L832.0 354.4L832.4 353.3L832.7 352.2L833.1 351.1L833.4 350.0L833.8 348.9L834.1 347.8L834.5 346.7L834.9 345.6L835.2 344.5L835.6 343.4L835.9 342.3L836.3 341.2L836.7 340.1L837.0 339.0L837.4 337.9L837.8 336.8L838.2 335.7L838.5 334.6L838.9 333.5L839.3 332.5L839.7 331.4L840.0 330.3L840.4 329.2L840.8 328.1L841.2 327.0L841.6 325.9L842.0 324.9L842.4 323.8L842.8 322.7L843.2 321.6L843.6 320.5L844.0 319.5L844.4 318.4L844.8 317.3L845.2 316.2L845.6 315.2L846.1 314.1L846.5 313.0L846.9 311.9L847.3 310.9L847.8 309.8L848.2 308.7L848.6 307.7L849.1 306.6L849.5 305.5L849.9 304.5L850.4 303.4L850.8 302.3L851.3 301.3L851.7 300.2L852.2 299.1L852.7 298.1L853.1 297.0L853.6 296.0L854.1 294.9L854.5 293.8L855.0 292.8L855.5 291.7L856.0 290.7L856.5 289.6L856.9 288.6L857.4 287.5L857.9 286.5L858.4 285.4L858.9 284.4L859.5 283.3L860.0 282.3L860.5 281.2L861.0 280.2L861.5 279.1L862.1 278.1L862.6 277.0L863.1 276.0L863.7 274.9L864.2 273.9L864.8 272.9L865.3 271.8L865.9 270.8L866.4 269.8L867.0 268.7L867.6 267.7L868.2 266.7L868.7 265.7L869.3 264.6L869.9 263.6L870.5 262.6L871.1 261.6L871.8 260.6L872.4 259.6L873.0 258.7L873.6 257.7L874.3 256.7L874.9 255.7L875.6 254.8L876.3 253.8L876.9 252.9L877.6 252.0L878.3 251.0L879.0 250.1L879.7 249.2L880.4 248.3L881.1 247.4L881.9 246.5L882.6 245.6L883.4 244.8L884.1 243.9L884.9 243.1L885.7 242.2L886.4 241.4L887.2 240.6L888.0 239.8L888.9 239.0L889.7 238.2L890.5 237.4L891.4 236.7L892.2 235.9L893.1 235.2L894.0 234.5L894.9 233.8L895.8 233.1L896.7 232.4L897.6 231.7L898.5 231.1L899.5 230.4L900.4 229.8L901.4 229.2L902.4 228.6L903.4 228.0L904.4 227.4L905.4 226.9L906.4 226.3L907.4 225.8L908.4 225.2L909.4 224.7L910.5 224.2L911.5 223.7L912.6 223.3L913.7 222.8L914.7 222.3L915.8 221.9L916.9 221.4L918.0 221.0L919.1 220.6L920.2 220.2L921.3 219.8L922.4 219.4L923.5 219.0L924.6 218.6L925.7 218.3L926.9 217.9L928.0 217.6L929.1 217.2L930.3 216.9L931.4 216.6L932.6 216.3L933.7 216.0L934.8 215.7L936.0 215.4L937.1 215.1L938.3 214.9L939.4 214.6L940.6 214.3L941.8 214.1L942.9 213.8L944.1 213.6L945.2 213.4L946.4 213.2L947.5 212.9L948.7 212.7L949.8 212.5L951.0 212.3L952.1 212.1L953.3 212.0L954.4 211.8L955.6 211.6L956.7 211.4L957.8 211.3L959.0 211.1L960.1 210.9L961.2 210.8L962.3 210.6L963.5 210.5L964.6 210.4L965.7 210.2L966.8 210.1L967.9 210.0L969.0 209.8" fill="none" stroke="#f00" stroke-width="10" stroke-linejoin="round"/>
<path d="M228.1 1181.0L229.0 1180.8L230.0 1180.5L231.0 1180.2L232.1 1179.9L233.1 1179.7L234.1 1179.4L235.2 1179.1L236.2 1178.8L237.2 1178.5L238.3 1178.3L239.4 1178.0L240.4 1177.7L241.5 1177.4L242.6 1177.1L243.6 1176.9L244.7 1176.6L245.8 1176.3L246.9 1176.0L248.0 1175.7L249.1 1175.4L250.2 1175.1L251.3 1174.8L252.3 1174.5L253.4 1174.2L254.5 1173.9L255.6 1173.5L256.7 1173.2L257.8 1172.9L258.9 1172.5L260.0 1172.2L261.1 1171.8L262.2 1171.5L263.3 1171.1L264.3 1170.8L265.4 1170.4L266.5 1170.0L267.6 1169.6L268.6 1169.2L269.7 1168.8L270.7 1168.4L271.8 1168.0L272.8 1167.5L273.9 1167.1L274.9 1166.6L275.9 1166.2L277.0 1165.7L278.0 1165.2L279.0 1164.7L280.0 1164.2L281.0 1163.7L281.9 1163.2L282.9 1162.6L283.9 1162.1L284.8 1161.5L285.7 1160.9L286.7 1160.3L287.6 1159.7L288.5 1159.1L289.4 1158.5L290.3 1157.9L291.1 1157.2L292.0 1156.5L292.8 1155.9L293.7 1155.2L294.5 1154.4L295.3 1153.7L296.1 1153.0L296.8 1152.2L297.6 1151.4L298.3 1150.7L299.1 1149.9L299.8 1149.1L300.5 1148.2L301.2 1147.4L301.9 1146.6L302.6 1145.7L303.3 1144.8L303.9 1144.0L304.6 1143.1L305.3 1142.2L305.9 1141.3L306.6 1140.4L307.2 1139.5L307.8 1138.6L308.5 1137.7L309.1 1136.8L309.7 1135.9L310.3 1134.9L311.0 1134.0L311.6 1133.1L312.2 1132.2L312.8 1131.2L313.4 1130.3L314.0 1129.4L314.6 1128.5L315.3 1127.5L315.9 1126.6L316.5 1125.7L317.1 1124.7L317.7 1123.8L318.3 1122.9L318.9 1121.9L319.5 1121.0L320.1 1120.1L320.7 1119.1L321.4 1118.2L322.0 1117.3L322.5 1116.3L323.1 1115.4L323.7 1114.5L324.3 1113.5L324.9 1112.6L325.5 1111.6L326.1 1110.7L326.7 1109.7L327.2 1108.8L327.8 1107.8L328.4 1106.9L328.9 1105.9L329.5 1105.0L330.0 1104.0L330.6 1103.0L331.1 1102.1L331.7 1101.1L332.2 1100.1L332.8 1099.2L333.3 1098.2L333.8 1097.2L334.4 1096.2L334.9 1095.3L335.4 1094.3L335.9 1093.3L336.4 1092.3L336.9 1091.3L337.4 1090.4L337.9 1089.4L338.4 1088.4L338.9 1087.4L339.4 1086.4L339.9 1085.4L340.4 1084.4L340.9 1083.4L341.4 1082.4L341.8 1081.4L342.3 1080.4L342.8 1079.4L343.3 1078.4L343.7 1077.4L344.2 1076.4L344.6 1075.4L345.1 1074.4L345.6 1073.3L346.0 1072.3L346.5 1071.3L346.9 1070.3L347.3 1069.3L347.8 1068.3L348.2 1067.2L348.7 1066.2L349.1 1065.2L349.5 1064.2L350.0 1063.2L350.4 1062.1L350.8 1061.1L351.2 1060.1L351.7 1059.0L352.1 1058.0L352.5 1057.0L352.9 1056.0L353.3 1054.9L353.7 1053.9L354.2 1052.9L354.6 1051.8L355.0 1050.8L355.4 1049.7L355.8 1048.7L356.2 1047.7L356.6 1046.6L357.0 1045.6L357.4 1044.6L357.8 1043.5L358.2 1042.5L358.6 1041.4L358.9 1040.4L359.3 1039.4L359.7 1038.3L360.1 1037.3L360.5 1036.2L360.9 1035.2L361.3 1034.1L361.7 1033.1L362.0 1032.0L362.4 1031.0L362.8 1029.9L363.2 1028.9L363.6 1027.9L363.9 1026.8L364.3 1025.8L364.7 1024.7L365.1 1023.7L365.4 1022.6L365.8 1021.6L366.2 1020.5L366.6 1019.5L366.9 1018.4L367.3 1017.4L367.7 1016.3L368.1 1015.3L368.4 1014.2L368.8 1013.2L369.2 1012.1L369.5 1011.1L369.9 1010.0L370.3 1009.0L370.6 1007.9L371.0 1006.9L371.4 1005.8L371.8 1004.8L372.1 1003.7L372.5 1002.7L372.9 1001.7L373.2 1000.6L373.6 999.6L374.0 998.5L374.3 997.5L374.7 996.4L375.1 995.4L375.4 994.3L375.8 993.3L376.2 992.2L376.5 991.2L376.9 990.1L377.3 989.1L377.6 988.0L378.0 987.0L378.4 985.9L378.7 984.9L379.1 983.8L379.5 982.8L379.8 981.7L380.2 980.7L380.6 979.6L380.9 978.6L381.3 977.6L381.7 976.5L382.0 975.5L382.4 974.4L382.8 973.4L383.1 972.3L383.5 971.3L383.9 970.2L384.2 969.2L384.6 968.1L385.0 967.1L385.3 966.0L385.7 965.0L386.1 963.9L386.4 962.9L386.8 961.8L387.2 960.8L387.5 959.8L387.9 958.7L388.3 957.7L388.7 956.6L389.0 955.6L389.4 954.5L389.8 953.5L390.1 952.4L390.5 951.4L390.9 950.3L391.2 949.3L391.6 948.2L392.0 947.2L392.4 946.2L392.7 945.1L393.1 944.1L393.5 943.0L393.9 942.0L394.2 940.9L394.6 939.9L395.0 938.8L395.4 937.8L395.7 936.7L396.1 935.7L396.5 934.7L396.9 933.6L397.2 932.6L397.6 931.5L398.0 930.5L398.4 929.4L398.8 928.4L399.1 927.3L399.5 926.3L399.9 925.3L400.3 924.2L400.7 923.2L401.0 922.1L401.4 921.1L401.8 920.0L402.2 919.0L402.6 918.0L403.0 916.9L403.3 915.9L403.7 914.8L404.1 913.8L404.5 912.7L404.9 911.7L405.3 910.6L405.7 909.6L406.1 908.6L406.5 907.5L406.9 906.5L407.2 905.4L407.6 904.4L408.0 903.4L408.4 902.3L408.8 901.3L409.2 900.2L409.6 899.2L410.0 898.1L410.4 897.1L410.8 896.1L411.2 895.0L411.6 894.0L412.0 892.9L412.4 891.9L412.8 890.9L413.2 889.8L413.6 888.8L414.0 887.7L414.5 886.7L414.9 885.7L415.3 884.6L415.7 883.6L416.1 882.5L416.5 881.5L416.9 880.5L417.3 879.4L417.8 878.4L418.2 877.4L418.6 876.3L419.0 875.3L419.5 874.3L419.9 873.2L420.3 872.2L420.8 871.2L421.2 870.1L421.6 869.1L422.1 868.1L422.5 867.1L423.0 866.0L423.4 865.0L423.9 864.0L424.3 863.0L424.8 862.0L425.3 861.0L425.7 859.9L426.2 858.9L426.7 857.9L427.2 856.9L427.7 855.9L428.1 854.9L428.6 853.9L429.1 852.9L429.6 851.9L430.1 851.0L430.6 850.0L431.2 849.0L431.7 848.0L432.2 847.0L432.7 846.0L433.3 845.1L433.8 844.1L434.3 843.1L434.9 842.2L435.4 841.2L436.0 840.3L436.6 839.3L437.1 838.4L437.7 837.4L438.3 836.5L438.9 835.5L439.5 834.6L440.1 833.7L440.7 832.7L441.3 831.8L441.9 830.9L442.5 830.0L443.2 829.1L443.8 828.2L444.5 827.3L445.1 826.4L445.8 825.5L446.4 824.6L447.1 823.7L447.8 822.8L448.5 821.9L449.2 821.1L449.9 820.2L450.6 819.4L451.3 818.5L452.0 817.6L452.8 816.8L453.5 816.0L454.3 815.1L455.0 814.3L455.8 813.5L456.6 812.7L457.3 811.8L458.1 811.0L458.9 810.2L459.8 809.4L460.6 808.7L461.4 807.9L462.2 807.1L463.1 806.4L463.9 805.6L464.8 804.9L465.7 804.2L466.5 803.5L467.4 802.8L468.3 802.1L469.2 801.4L470.1 800.8L471.0 800.1L471.9 799.5L472.9 798.9L473.8 798.3L474.8 797.8L475.7 797.2L476.7 796.7L477.7 796.2L478.6 795.7L479.6 795.2L480.6 794.8L481.6 794.4L482.6 794.0L483.6 793.6L484.7 793.3L485.7 793.0L486.7 792.7L487.8 792.4L488.8 792.2L489.9 792.0L490.9 791.8L492.0 791.7L493.1 791.5L494.2 791.4L495.3 791.3L496.4 791.3L497.5 791.2L498.6 791.2L499.7 791.2L500.8 791.2L501.9 791.2L503.0 791.2L504.2 791.3L505.3 791.3L506.4 791.4L507.5 791.5L508.7 791.6L509.8 791.7L511.0 791.8L512.1 791.9L513.3 792.0L514.4 792.1L515.5 792.3L516.7 792.4L517.8 792.5L519.0 792.7L520.1 792.8L521.3 792.9L522.4 793.1L523.6 793.2L524.7 793.3L525.9 793.5L527.0 793.6L528.2 793.7L529.3 793.8L530.4 793.9L531.6 794.0L532.7 794.0L533.8 794.1L535.0 794.2L536.1 794.2L537.2 794.2L538.3 794.2L539.4 794.2L540.5 794.2L541.6 794.1L542.7 794.1L543.8 794.0L544.9 793.9L546.0 793.8L547.1 793.6L548.1 793.5L549.2 793.3L550.3 793.1L551.3 792.8L552.4 792.5L553.4 792.2L554.4 791.9L555.4 791.5L556.4 791.1L557.4 790.7L558.3 790.3L559.3 789.8L560.2 789.2L561.1 788.7L561.9 788.1L562.7 787.4L563.5 786.7L564.3 786.0L565.0 785.3L565.7 784.5L566.4 783.6L567.0 782.8L567.7 781.9L568.2 781.0L568.8 780.0L569.4 779.1L570.0 778.1L570.5 777.1L571.0 776.2L571.6 775.2L572.1 774.2L572.7 773.2L573.2 772.2L573.7 771.2L574.2 770.2L574.8 769.2L575.3 768.2L575.8 767.2L576.3 766.2L576.8 765.2L577.3 764.2L577.8 763.2L578.2 762.2L578.7 761.2L579.2 760.1L579.6 759.1L580.1 758.1L580.5 757.1L581.0 756.0L581.4 755.0L581.8 754.0L582.2 752.9L582.7 751.9L583.1 750.9L583.5 749.8L583.8 748.8L584.2 747.7L584.6 746.7L585.0 745.6L585.4 744.6L585.7 743.5L586.1 742.5L586.4 741.4L586.8 740.4L587.1 739.3L587.5 738.3L587.8 737.2L588.1 736.1L588.4 735.1L588.8 734.0L589.1 733.0L589.4 731.9L589.7 730.8L590.0 729.8L590.3 728.7L590.6 727.6L590.9 726.5L591.2 725.5L591.5 724.4L591.8 723.3L592.0 722.3L592.3 721.2L592.6 720.1L592.9 719.0L593.2 718.0L593.4 716.9L593.7 715.8L594.0 714.7L594.2 713.6L594.5 712.6L594.8 711.5L595.0 710.4L595.3 709.3L595.5 708.2L595.8 707.2L596.1 706.1L596.3 705.0L596.6 703.9L596.8 702.8L597.1 701.8L597.4 700.7L597.6 699.6L597.9 698.5L598.1 697.5L598.4 696.4L598.6 695.3L598.9 694.2L599.2 693.1L599.4 692.1L599.7 691.0L600.0 689.9L600.2 688.8L600.5 687.7L600.8 686.7L601.0 685.6L601.3 684.5L601.6 683.4L601.8 682.4L602.1 681.3L602.4 680.2L602.7 679.2L603.0 678.1L603.3 677.0L603.5 675.9L603.8 674.9L604.1 673.8L604.4 672.7L604.7 671.7L605.0 670.6L605.3 669.5L605.6 668.5L605.9 667.4L606.2 666.4L606.6 665.3L606.9 664.2L607.2 663.2L607.5 662.1L607.8 661.1L608.2 660.0L608.5 658.9L608.9 657.9L609.2 656.8L609.5 655.8L609.9 654.7L610.3 653.7L610.6 652.6L611.0 651.6L611.3 650.5L611.7 649.5L612.1 648.5L612.5 647.4L612.9 646.4L613.3 645.3L613.6 644.3L614.1 643.3L614.5 642.2L614.9 641.2L615.3 640.2L615.7 639.1L616.1 638.1L616.6 637.1L617.0 636.0L617.5 635.0L617.9 634.0L618.4 633.0L618.8 632.0L619.3 630.9L619.8 629.9L620.3 628.9L620.7 627.9L621.2 626.9L621.7 625.9L622.2 624.9L622.8 623.9L623.3 622.9L623.8 621.9L624.3 620.9L624.9 619.9L625.4 618.9L626.0 617.9L626.5 616.9L627.1 615.9L627.7 614.9L628.3 614.0L628.9 613.0L629.5 612.1L630.2 611.2L630.8 610.3L631.5 609.4L632.2 608.6L632.9 607.8L633.6 607.0L634.4 606.3L635.1 605.6L635.9 605.0L636.8 604.4L637.6 603.9L638.5 603.4L639.4 602.9L640.4 602.5L641.3 602.2L642.3 601.9L643.3 601.6L644.3 601.3L645.3 601.1L646.4 600.9L647.4 600.8L648.5 600.7L649.6 600.6L650.7 600.5L651.8 600.4L652.9 600.4L654.1 600.4L655.2 600.4L656.3 600.4L657.5 600.4L658.6 600.5L659.8 600.5L660.9 600.6L662.1 600.6L663.2 600.7L664.4 600.8L665.5 600.8L666.7 600.9L667.9 601.0L669.0 601.1L670.2 601.1L671.3 601.2L672.5 601.3L673.6 601.4L674.8 601.5L675.9 601.5L677.1 601.6L678.2 601.7L679.4 601.8L680.5 601.8L681.7 601.9L682.8 602.0L683.9 602.0L685.1 602.1L686.2 602.1L687.3 602.2L688.5 602.2L689.6 602.2L690.7 602.2L691.8 602.2L693.0 602.2L694.1 602.2L695.2 602.2L696.3 602.2L697.4 602.2L698.5 602.1L699.6 602.0L700.7 602.0L701.7 601.9L702.8 601.8L703.9 601.7L705.0 601.5L706.0 601.4L707.1 601.2L708.1 601.0L709.2 600.9L710.2 600.6L711.2 600.4L712.3 600.2L713.3 599.9L714.3 599.6L715.3 599.3L716.3 599.0L717.3 598.6L718.3 598.3L719.3 597.9L720.2 597.4L721.2 597.0L722.2 596.6L723.1 596.1L724.0 595.6L725.0 595.0L725.9 594.5L726.8 593.9L727.7 593.3L728.6 592.7L729.5 592.1L730.4 591.4L731.3 590.8L732.2 590.1L733.0 589.4L733.9 588.7L734.7 587.9L735.6 587.2L736.4 586.4L737.2 585.6L738.0 584.8L738.8 584.0L739.6 583.2L740.4 582.4L741.2 581.5L742.0 580.7L742.8 579.8L743.5 578.9L744.3 578.0L745.0 577.1L745.8 576.2L746.5 575.3L747.2 574.4L747.9 573.4L748.6 572.5L749.3 571.5L750.0 570.6L750.7 569.6L751.4 568.6L752.1 567.7L752.7 566.7L753.4 565.7L754.0 564.7L754.7 563.8L755.3 562.8L755.9 561.8L756.5 560.8L757.1 559.8L757.7 558.8L758.3 557.8L758.9 556.8L759.5 555.8L760.1 554.9L760.6 553.9L761.2 552.9L761.8 551.9L762.3 550.9L762.8 549.9L763.4 548.9L763.9 547.9L764.4 547.0L764.9 546.0L765.5 545.0L766.0 544.0L766.5 543.0L766.9 542.0L767.4 541.0L767.9 540.0L768.4 539.0L768.9 538.0L769.3 537.1L769.8 536.1L770.3 535.1L770.7 534.1L771.2 533.1L771.6 532.1L772.1 531.1L772.5 530.1L773.0 529.1L773.4 528.1L773.8 527.1L774.3 526.1L774.7 525.1L775.1 524.1L775.5 523.1L776.0 522.1L776.4 521.1L776.8 520.1L777.2 519.1L777.6 518.1L778.0 517.1L778.4 516.1L778.9 515.1L779.3 514.1L779.7 513.1L780.1 512.1L780.5 511.1L780.9 510.1L781.3 509.1L781.7 508.1L782.1 507.1L782.5 506.1L782.9 505.1L783.3 504.0L783.7 503.0L784.1 502.0L784.5 501.0L784.9 500.0L785.3 499.0L785.7 497.9L786.1 496.9L786.5 495.9L786.9 494.9L787.3 493.8L787.8 492.8L788.2 491.8L788.6 490.8L789.0 489.7L789.4 488.7L789.8 487.7L790.2 486.6L790.6 485.6L791.0 484.6L791.4 483.6L791.8 482.5L792.2 481.5L792.6 480.4L793.0 479.4L793.4 478.4L793.8 477.3L794.2 476.3L794.6 475.3L795.0 474.2L795.4 473.2L795.8 472.1L796.2 471.1L796.6 470.1L797.0 469.0L797.4 468.0L797.8 466.9L798.2 465.9L798.6 464.8L799.0 463.8L799.4 462.8L799.8 461.7L800.2 460.7L800.6 459.6L801.0 458.6L801.4 457.5L801.7 456.5L802.1 455.4L802.5 454.4L802.9 453.3L803.3 452.3L803.7 451.2L804.1 450.2L804.4 449.1L804.8 448.1L805.2 447.0L805.6 446.0L805.9 444.9L806.3 443.9L806.7 442.8L807.1 441.8L807.4 440.7L807.8 439.7L808.2 438.6L808.6 437.6L808.9 436.5L809.3 435.4L809.7 434.4L810.0 433.3L810.4 432.3L810.8 431.2L811.1 430.2L811.5 429.1L811.9 428.1L812.2 427.0L812.6 426.0L813.0 424.9L813.3 423.8L813.7 422.8L814.0 421.7L814.4 420.7L814.8 419.6L815.1 418.6L815.5 417.5L815.9 416.5L816.2 415.4L816.6 414.4L816.9 413.3L817.3 412.2L817.7 411.2L818.0 410.1L818.4 409.1L818.7 408.0L819.1 407.0L819.5 405.9L819.8 404.9L820.2 403.8L820.5 402.8L820.9 401.7L821.3 400.6L821.6 399.6L822.0 398.5L822.3 397.5L822.7 396.4L823.1 395.4L823.4 394.3L823.8 393.3L824.1 392.2L824.5 391.2L824.9 390.1L825.2 389.1L825.6 388.0L826.0 387.0L826.3 385.9L826.7 384.9L827.1 383.8L827.4 382.8L827.8 381.7L828.2 380.7L828.5 379.6L828.9 378.6L829.3 377.5L829.6 376.5L830.0 375.4L830.4 374.4L830.8 373.3L831.1 372.3L831.5 371.3L831.9 370.2L832.3 369.2L832.6 368.1L833.0 367.1L833.4 366.0L833.8 365.0L834.2 363.9L834.5 362.9L834.9 361.9L835.3 360.8L835.7 359.8L836.1 358.7L836.5 357.7L836.9 356.7L837.3 355.6L837.7 354.6L838.1 353.6L838.4 352.5L838.8 351.5L839.2 350.5L839.6 349.4L840.0 348.4L840.5 347.4L840.9 346.3L841.3 345.3L841.7 344.3L842.1 343.2L842.5 342.2L842.9 341.2L843.3 340.2L843.7 339.1L844.2 338.1L844.6 337.1L845.0 336.1L845.4 335.0L845.8 334.0L846.3 333.0L846.7 332.0L847.1 331.0L847.6 329.9L848.0 328.9L848.4 327.9L848.9 326.9L849.3 325.9L849.8 324.9L850.2 323.8L850.7 322.8L851.1 321.8L851.6 320.8L852.0 319.8L852.5 318.8L852.9 317.8L853.4 316.8L853.9 315.8L854.3 314.8L854.8 313.8L855.3 312.8L855.7 311.8L856.2 310.8L856.7 309.8L857.2 308.8L857.7 307.8L858.2 306.8L858.6 305.8L859.1 304.8L859.6 303.8L860.1 302.8L860.6 301.8L861.1 300.8L861.6 299.8L862.1 298.8L862.7 297.9L863.2 296.9L863.7 295.9L864.2 294.9L864.7 293.9L865.3 292.9L865.8 292.0L866.3 291.0L866.9 290.0L867.4 289.0L867.9 288.1L868.5 287.1L869.0 286.1L869.6 285.2L870.1 284.2L870.7 283.2L871.3 282.2L871.8 281.3L872.4 280.3L873.0 279.4L873.5 278.4L874.1 277.4L874.7 276.5L875.3 275.5L875.9 274.6L876.5 273.6L877.0 272.7L877.6 271.7L878.3 270.8L878.9 269.8L879.5 268.9L880.1 268.0L880.7 267.0L881.3 266.1L881.9 265.2L882.6 264.3L883.2 263.3L883.8 262.4L884.5 261.5L885.1 260.6L885.8 259.7L886.4 258.8L887.1 257.9L887.8 257.0L888.4 256.1L889.1 255.3L889.8 254.4L890.5 253.5L891.2 252.7L891.8 251.8L892.5 250.9L893.2 250.1L893.9 249.3L894.7 248.4L895.4 247.6L896.1 246.8L896.8 246.0L897.5 245.2L898.3 244.4L899.0 243.6L899.8 242.8L900.5 242.0L901.3 241.3L902.1 240.5L902.8 239.8L903.6 239.1L904.4 238.3L905.2 237.6L906.1 236.9L906.9 236.3L907.7 235.6L908.6 234.9L909.5 234.3L910.4 233.7L911.3 233.1L912.2 232.5L913.1 231.9L914.0 231.3L915.0 230.8L915.9 230.2L916.9 229.7L917.9 229.2L918.9 228.7L919.9 228.2L920.9 227.7L921.9 227.3L923.0 226.8L924.0 226.4L925.1 225.9L926.1 225.5L927.2 225.1L928.2 224.7L929.3 224.3L930.4 223.9L931.5 223.5L932.5 223.2L933.6 222.8L934.7 222.5L935.8 222.1L936.9 221.8L938.0 221.4L939.1 221.1L940.2 220.8L941.3 220.5L942.5 220.1L943.6 219.8L944.7 219.5L945.8 219.2L946.9 218.9L948.0 218.6L949.1 218.4L950.2 218.1L951.3 217.8L952.4 217.5L953.5 217.2L954.5 216.9L955.6 216.7L956.7 216.4L957.7 216.1L958.8 215.8L959.9 215.6L960.9 215.3L961.9 215.0L963.0 214.7L964.0 214.4L965.0 214.1L966.0 213.8L967.0 213.6L968.0 213.3L969.0 213.0" fill="none" stroke="#0f0" stroke-width="10" stroke-linejoin="round"/>
<path d="M228.1 1141.2L229.1 1141.0L230.1 1140.9L231.1 1140.7L232.1 1140.6L233.1 1140.4L234.1 1140.2L235.2 1140.1L236.2 1139.9L237.3 1139.8L238.3 1139.6L239.4 1139.5L240.4 1139.4L241.5 1139.2L242.6 1139.1L243.7 1138.9L244.8 1138.8L245.9 1138.6L247.0 1138.5L248.1 1138.3L249.2 1138.2L250.3 1138.0L251.4 1137.9L252.5 1137.7L253.6 1137.5L254.7 1137.4L255.9 1137.2L257.0 1137.1L258.1 1136.9L259.2 1136.7L260.4 1136.5L261.5 1136.3L262.6 1136.1L263.8 1135.9L264.9 1135.7L266.0 1135.5L267.1 1135.3L268.3 1135.1L269.4 1134.9L270.5 1134.7L271.6 1134.4L272.8 1134.2L273.9 1133.9L275.0 1133.7L276.1 1133.4L277.2 1133.1L278.3 1132.8L279.4 1132.5L280.5 1132.2L281.6 1131.9L282.7 1131.6L283.7 1131.3L284.8 1130.9L285.9 1130.6L286.9 1130.2L288.0 1129.8L289.0 1129.4L290.1 1129.0L291.1 1128.6L292.1 1128.2L293.2 1127.8L294.2 1127.3L295.2 1126.9L296.2 1126.4L297.1 1125.9L298.1 1125.4L299.1 1124.9L300.0 1124.4L301.0 1123.8L301.9 1123.3L302.8 1122.7L303.7 1122.1L304.6 1121.5L305.5 1120.9L306.4 1120.3L307.3 1119.6L308.1 1119.0L309.0 1118.3L309.8 1117.6L310.6 1116.9L311.4 1116.2L312.2 1115.5L313.0 1114.7L313.8 1114.0L314.6 1113.2L315.3 1112.5L316.1 1111.7L316.8 1110.9L317.6 1110.1L318.3 1109.3L319.0 1108.5L319.7 1107.6L320.4 1106.8L321.1 1105.9L321.8 1105.1L322.5 1104.2L323.2 1103.4L323.8 1102.5L324.5 1101.6L325.1 1100.7L325.8 1099.8L326.4 1098.9L327.0 1098.0L327.6 1097.1L328.3 1096.1L328.9 1095.2L329.5 1094.3L330.0 1093.3L330.6 1092.4L331.2 1091.5L331.8 1090.5L332.3 1089.6L332.9 1088.6L333.5 1087.6L334.0 1086.7L334.6 1085.7L335.1 1084.8L335.6 1083.8L336.2 1082.8L336.7 1081.8L337.2 1080.9L337.7 1079.9L338.2 1078.9L338.7 1077.9L339.2 1077.0L339.7 1076.0L340.2 1075.0L340.7 1074.0L341.2 1073.0L341.6 1072.0L342.1 1071.0L342.6 1070.0L343.0 1069.0L343.5 1068.0L343.9 1067.0L344.4 1066.0L344.8 1065.0L345.3 1064.0L345.7 1063.0L346.1 1062.0L346.6 1061.0L347.0 1060.0L347.4 1059.0L347.8 1058.0L348.2 1056.9L348.6 1055.9L349.0 1054.9L349.4 1053.9L349.8 1052.8L350.2 1051.8L350.6 1050.8L351.0 1049.8L351.3 1048.7L351.7 1047.7L352.1 1046.7L352.5 1045.6L352.8 1044.6L353.2 1043.6L353.5 1042.5L353.9 1041.5L354.2 1040.4L354.6 1039.4L354.9 1038.3L355.3 1037.3L355.6 1036.2L355.9 1035.2L356.3 1034.1L356.6 1033.1L356.9 1032.0L357.3 1031.0L357.6 1029.9L357.9 1028.9L358.2 1027.8L358.5 1026.8L358.8 1025.7L359.1 1024.6L359.5 1023.6L359.8 1022.5L360.1 1021.5L360.4 1020.4L360.6 1019.3L360.9 1018.3L361.2 1017.2L361.5 1016.1L361.8 1015.1L362.1 1014.0L362.4 1012.9L362.7 1011.9L362.9 1010.8L363.2 1009.7L363.5 1008.6L363.8 1007.6L364.0 1006.5L364.3 1005.4L364.6 1004.3L364.9 1003.3L365.1 1002.2L365.4 1001.1L365.6 1000.0L365.9 999.0L366.2 997.9L366.4 996.8L366.7 995.7L366.9 994.6L367.2 993.6L367.5 992.5L367.7 991.4L368.0 990.3L368.2 989.2L368.5 988.2L368.7 987.1L369.0 986.0L369.2 984.9L369.5 983.8L369.7 982.7L370.0 981.7L370.2 980.6L370.5 979.5L370.7 978.4L371.0 977.3L371.2 976.2L371.4 975.2L371.7 974.1L371.9 973.0L372.2 971.9L372.4 970.8L372.7 969.7L372.9 968.6L373.2 967.6L373.4 966.5L373.6 965.4L373.9 964.3L374.1 963.2L374.4 962.1L374.6 961.1L374.9 960.0L375.1 958.9L375.4 957.8L375.6 956.7L375.9 955.6L376.1 954.6L376.4 953.5L376.6 952.4L376.9 951.3L377.1 950.2L377.4 949.2L377.6 948.1L377.9 947.0L378.1 945.9L378.4 944.9L378.7 943.8L378.9 942.7L379.2 941.6L379.4 940.5L379.7 939.5L380.0 938.4L380.2 937.3L380.5 936.3L380.8 935.2L381.0 934.1L381.3 933.0L381.6 932.0L381.9 930.9L382.1 929.8L382.4 928.8L382.7 927.7L383.0 926.6L383.2 925.6L383.5 924.5L383.8 923.4L384.1 922.4L384.4 921.3L384.6 920.2L384.9 919.2L385.2 918.1L385.5 917.0L385.8 916.0L386.1 914.9L386.4 913.8L386.7 912.8L386.9 911.7L387.2 910.6L387.5 909.6L387.8 908.5L388.1 907.5L388.4 906.4L388.7 905.3L389.0 904.3L389.3 903.2L389.6 902.2L389.9 901.1L390.2 900.1L390.5 899.0L390.8 897.9L391.1 896.9L391.4 895.8L391.7 894.8L392.0 893.7L392.3 892.7L392.6 891.6L392.9 890.5L393.2 889.5L393.5 888.4L393.8 887.4L394.1 886.3L394.5 885.3L394.8 884.2L395.1 883.2L395.4 882.1L395.7 881.0L396.0 880.0L396.3 878.9L396.6 877.9L396.9 876.8L397.2 875.8L397.6 874.7L397.9 873.7L398.2 872.6L398.5 871.6L398.8 870.5L399.1 869.5L399.4 868.4L399.7 867.4L400.0 866.3L400.4 865.3L400.7 864.2L401.0 863.1L401.3 862.1L401.6 861.0L401.9 860.0L402.2 858.9L402.6 857.9L402.9 856.8L403.2 855.8L403.5 854.7L403.8 853.7L404.1 852.6L404.4 851.6L404.8 850.5L405.1 849.5L405.4 848.4L405.7 847.4L406.0 846.3L406.3 845.3L406.6 844.2L406.9 843.1L407.3 842.1L407.6 841.0L407.9 840.0L408.2 838.9L408.5 837.9L408.8 836.8L409.1 835.8L409.4 834.7L409.7 833.7L410.1 832.6L410.4 831.5L410.7 830.5L411.0 829.4L411.3 828.4L411.6 827.3L411.9 826.3L412.2 825.2L412.5 824.2L412.8 823.1L413.1 822.0L413.4 821.0L413.7 819.9L414.0 818.9L414.4 817.8L414.7 816.7L415.0 815.7L415.3 814.6L415.6 813.6L415.9 812.5L416.2 811.4L416.5 810.4L416.8 809.3L417.1 808.2L417.4 807.2L417.7 806.1L418.0 805.0L418.3 804.0L418.6 802.9L418.9 801.8L419.2 800.7L419.5 799.7L419.8 798.6L420.0 797.5L420.3 796.5L420.6 795.4L420.9 794.3L421.2 793.2L421.6 792.2L421.9 791.1L422.2 790.0L422.5 789.0L422.8 787.9L423.1 786.8L423.4 785.8L423.7 784.7L424.0 783.6L424.3 782.5L424.7 781.5L425.0 780.4L425.3 779.4L425.6 778.3L426.0 777.2L426.3 776.2L426.7 775.1L427.0 774.1L427.3 773.0L427.7 771.9L428.1 770.9L428.4 769.8L428.8 768.8L429.1 767.8L429.5 766.7L429.9 765.7L430.3 764.6L430.7 763.6L431.0 762.6L431.4 761.5L431.8 760.5L432.3 759.5L432.7 758.4L433.1 757.4L433.5 756.4L433.9 755.4L434.4 754.4L434.8 753.4L435.3 752.4L435.7 751.4L436.2 750.4L436.7 749.4L437.2 748.4L437.6 747.4L438.1 746.4L438.6 745.4L439.1 744.4L439.7 743.5L440.2 742.5L440.7 741.5L441.3 740.6L441.8 739.6L442.4 738.7L442.9 737.7L443.5 736.8L444.1 735.8L444.7 734.9L445.3 734.0L445.9 733.1L446.5 732.2L447.2 731.2L447.8 730.3L448.5 729.5L449.1 728.6L449.8 727.7L450.5 726.8L451.2 726.0L451.9 725.1L452.6 724.3L453.3 723.5L454.0 722.7L454.8 721.9L455.5 721.1L456.3 720.3L457.1 719.5L457.9 718.8L458.7 718.0L459.5 717.3L460.3 716.6L461.1 715.9L462.0 715.2L462.8 714.6L463.7 713.9L464.6 713.3L465.5 712.7L466.4 712.1L467.3 711.5L468.2 710.9L469.2 710.4L470.1 709.8L471.1 709.3L472.1 708.8L473.1 708.4L474.1 707.9L475.1 707.5L476.1 707.1L477.1 706.7L478.2 706.3L479.2 705.9L480.3 705.5L481.3 705.2L482.4 704.9L483.5 704.5L484.5 704.2L485.6 703.9L486.7 703.7L487.8 703.4L488.9 703.1L489.9 702.9L491.0 702.6L492.1 702.4L493.2 702.2L494.3 701.9L495.4 701.7L496.5 701.5L497.5 701.3L498.6 701.1L499.7 701.0L500.8 700.8L501.9 700.6L503.0 700.5L504.1 700.3L505.2 700.2L506.3 700.1L507.4 699.9L508.5 699.8L509.6 699.7L510.7 699.6L511.8 699.5L512.9 699.4L514.0 699.3L515.1 699.2L516.2 699.2L517.3 699.1L518.4 699.0L519.5 699.0L520.6 698.9L521.7 698.8L522.8 698.8L523.9 698.7L525.0 698.7L526.1 698.6L527.2 698.6L528.3 698.6L529.4 698.5L530.5 698.5L531.6 698.5L532.8 698.4L533.9 698.4L535.0 698.4L536.1 698.4L537.2 698.4L538.3 698.3L539.4 698.3L540.5 698.3L541.6 698.3L542.7 698.3L543.9 698.3L545.0 698.2L546.1 698.2L547.2 698.2L548.3 698.2L549.4 698.2L550.5 698.2L551.7 698.2L552.8 698.1L553.9 698.1L555.0 698.1L556.1 698.1L557.2 698.0L558.3 698.0L559.5 698.0L560.6 698.0L561.7 697.9L562.8 697.9L563.9 697.9L565.0 697.8L566.1 697.8L567.3 697.8L568.4 697.7L569.5 697.7L570.6 697.7L571.7 697.6L572.8 697.6L573.9 697.6L575.1 697.5L576.2 697.5L577.3 697.5L578.4 697.4L579.5 697.4L580.6 697.4L581.7 697.3L582.8 697.3L583.9 697.3L585.0 697.2L586.1 697.2L587.3 697.2L588.4 697.1L589.5 697.1L590.6 697.1L591.7 697.0L592.8 697.0L593.9 697.0L595.0 696.9L596.1 696.9L597.2 696.9L598.3 696.9L599.4 696.8L600.4 696.8L601.5 696.8L602.6 696.8L603.7 696.8L604.8 696.7L605.9 696.7L607.0 696.7L608.1 696.7L609.2 696.7L610.2 696.7L611.3 696.6L612.4 696.6L613.5 696.6L614.6 696.6L615.7 696.6L616.7 696.6L617.8 696.6L618.9 696.5L620.0 696.5L621.1 696.5L622.2 696.5L623.2 696.5L624.3 696.5L625.4 696.5L626.5 696.5L627.6 696.5L628.6 696.4L629.7 696.4L630.8 696.4L631.9 696.4L633.0 696.4L634.1 696.4L635.1 696.4L636.2 696.3L637.3 696.3L638.4 696.3L639.5 696.3L640.6 696.3L641.6 696.2L642.7 696.2L643.8 696.2L644.9 696.2L646.0 696.2L647.1 696.1L648.2 696.1L649.3 696.1L650.4 696.0L651.5 696.0L652.6 696.0L653.6 696.0L654.7 695.9L655.8 695.9L656.9 695.8L658.0 695.8L659.2 695.8L660.3 695.7L661.4 695.7L662.5 695.6L663.6 695.6L664.7 695.5L665.8 695.5L666.9 695.4L668.0 695.4L669.1 695.3L670.3 695.3L671.4 695.2L672.5 695.1L673.6 695.1L674.8 695.0L675.9 694.9L677.0 694.8L678.2 694.8L679.3 694.7L680.4 694.6L681.6 694.5L682.7 694.4L683.9 694.3L685.0 694.2L686.2 694.1L687.3 694.0L688.5 693.9L689.6 693.8L690.8 693.7L691.9 693.6L693.1 693.4L694.2 693.3L695.3 693.2L696.5 693.0L697.6 692.9L698.8 692.7L699.9 692.5L701.0 692.3L702.2 692.1L703.3 691.9L704.4 691.7L705.5 691.5L706.6 691.3L707.7 691.1L708.8 690.8L709.9 690.5L711.0 690.3L712.1 690.0L713.2 689.7L714.2 689.4L715.3 689.1L716.3 688.7L717.4 688.4L718.4 688.0L719.4 687.6L720.4 687.2L721.4 686.8L722.4 686.4L723.4 686.0L724.4 685.5L725.3 685.1L726.3 684.6L727.2 684.1L728.1 683.5L729.0 683.0L729.9 682.5L730.8 681.9L731.7 681.3L732.5 680.7L733.4 680.1L734.2 679.5L735.0 678.8L735.9 678.1L736.7 677.5L737.5 676.8L738.2 676.1L739.0 675.3L739.8 674.6L740.5 673.9L741.3 673.1L742.0 672.3L742.7 671.6L743.4 670.8L744.1 670.0L744.8 669.1L745.5 668.3L746.2 667.5L746.8 666.6L747.5 665.8L748.1 664.9L748.7 664.0L749.4 663.1L750.0 662.2L750.6 661.3L751.2 660.4L751.8 659.5L752.4 658.5L753.0 657.6L753.5 656.6L754.1 655.7L754.6 654.7L755.2 653.8L755.7 652.8L756.3 651.8L756.8 650.8L757.3 649.8L757.8 648.8L758.3 647.8L758.8 646.8L759.3 645.8L759.8 644.8L760.3 643.7L760.7 642.7L761.2 641.7L761.7 640.7L762.1 639.6L762.6 638.6L763.0 637.5L763.5 636.5L763.9 635.5L764.3 634.4L764.8 633.4L765.2 632.3L765.6 631.3L766.0 630.2L766.4 629.2L766.8 628.1L767.2 627.1L767.6 626.0L768.0 625.0L768.4 623.9L768.8 622.9L769.2 621.8L769.6 620.7L770.0 619.7L770.3 618.6L770.7 617.6L771.1 616.5L771.4 615.5L771.8 614.4L772.1 613.4L772.5 612.3L772.8 611.2L773.2 610.2L773.5 609.1L773.9 608.1L774.2 607.0L774.5 606.0L774.9 604.9L775.2 603.8L775.5 602.8L775.8 601.7L776.2 600.7L776.5 599.6L776.8 598.5L777.1 597.5L777.4 596.4L777.8 595.4L778.1 594.3L778.4 593.2L778.7 592.2L779.0 591.1L779.3 590.1L779.6 589.0L779.9 587.9L780.2 586.9L780.5 585.8L780.8 584.8L781.1 583.7L781.4 582.6L781.7 581.6L782.0 580.5L782.2 579.4L782.5 578.4L782.8 577.3L783.1 576.3L783.4 575.2L783.7 574.1L784.0 573.1L784.3 572.0L784.6 571.0L784.8 569.9L785.1 568.8L785.4 567.8L785.7 566.7L786.0 565.7L786.3 564.6L786.6 563.5L786.8 562.5L787.1 561.4L787.4 560.4L787.7 559.3L788.0 558.2L788.3 557.2L788.6 556.1L788.9 555.1L789.1 554.0L789.4 552.9L789.7 551.9L790.0 550.8L790.3 549.8L790.6 548.7L790.9 547.7L791.2 546.6L791.5 545.5L791.8 544.5L792.1 543.4L792.4 542.4L792.7 541.3L793.0 540.3L793.3 539.2L793.5 538.2L793.8 537.1L794.1 536.0L794.4 535.0L794.7 533.9L795.0 532.9L795.3 531.8L795.6 530.8L795.9 529.7L796.2 528.7L796.5 527.6L796.8 526.6L797.1 525.5L797.4 524.4L797.7 523.4L798.0 522.3L798.3 521.3L798.6 520.2L798.9 519.2L799.2 518.1L799.5 517.1L799.8 516.0L800.1 515.0L800.4 513.9L800.7 512.9L801.0 511.8L801.3 510.7L801.6 509.7L801.9 508.6L802.2 507.6L802.5 506.5L802.8 505.5L803.1 504.4L803.4 503.4L803.7 502.3L804.0 501.2L804.3 500.2L804.6 499.1L804.9 498.1L805.2 497.0L805.5 496.0L805.8 494.9L806.1 493.9L806.4 492.8L806.7 491.7L807.0 490.7L807.3 489.6L807.6 488.6L807.9 487.5L808.2 486.5L808.5 485.4L808.8 484.3L809.1 483.3L809.4 482.2L809.7 481.2L810.0 480.1L810.3 479.0L810.5 478.0L810.8 476.9L811.1 475.9L811.4 474.8L811.7 473.7L812.0 472.7L812.3 471.6L812.6 470.6L812.9 469.5L813.2 468.4L813.5 467.4L813.8 466.3L814.1 465.2L814.3 464.2L814.6 463.1L814.9 462.1L815.2 461.0L815.5 459.9L815.8 458.9L816.1 457.8L816.4 456.7L816.6 455.7L816.9 454.6L817.2 453.5L817.5 452.5L817.8 451.4L818.1 450.3L818.3 449.3L818.6 448.2L818.9 447.1L819.2 446.0L819.5 445.0L819.7 443.9L820.0 442.8L820.3 441.8L820.6 440.7L820.9 439.6L821.1 438.5L821.4 437.5L821.7 436.4L822.0 435.3L822.2 434.2L822.5 433.2L822.8 432.1L823.0 431.0L823.3 429.9L823.6 428.8L823.8 427.8L824.1 426.7L824.4 425.6L824.6 424.5L824.9 423.4L825.2 422.4L825.4 421.3L825.7 420.2L826.0 419.1L826.2 418.0L826.5 416.9L826.7 415.8L827.0 414.8L827.2 413.7L827.5 412.6L827.8 411.5L828.0 410.4L828.3 409.3L828.5 408.2L828.8 407.1L829.0 406.1L829.3 405.0L829.5 403.9L829.8 402.8L830.0 401.7L830.3 400.6L830.5 399.5L830.8 398.4L831.1 397.3L831.3 396.2L831.6 395.2L831.8 394.1L832.1 393.0L832.3 391.9L832.6 390.8L832.9 389.7L833.1 388.6L833.4 387.5L833.7 386.5L833.9 385.4L834.2 384.3L834.4 383.2L834.7 382.1L835.0 381.0L835.3 380.0L835.5 378.9L835.8 377.8L836.1 376.7L836.4 375.6L836.6 374.6L836.9 373.5L837.2 372.4L837.5 371.3L837.8 370.2L838.1 369.2L838.4 368.1L838.7 367.0L838.9 366.0L839.2 364.9L839.6 363.8L839.9 362.8L840.2 361.7L840.5 360.6L840.8 359.6L841.1 358.5L841.4 357.5L841.7 356.4L842.1 355.3L842.4 354.3L842.7 353.2L843.1 352.2L843.4 351.1L843.7 350.1L844.1 349.0L844.4 348.0L844.8 347.0L845.1 345.9L845.5 344.9L845.9 343.8L846.2 342.8L846.6 341.8L847.0 340.7L847.4 339.7L847.7 338.7L848.1 337.7L848.5 336.7L848.9 335.6L849.3 334.6L849.7 333.6L850.1 332.6L850.5 331.6L851.0 330.6L851.4 329.6L851.8 328.6L852.2 327.6L852.7 326.6L853.1 325.6L853.6 324.6L854.0 323.6L854.5 322.6L855.0 321.6L855.4 320.7L855.9 319.7L856.4 318.7L856.9 317.7L857.4 316.8L857.9 315.8L858.4 314.9L858.9 313.9L859.4 312.9L859.9 312.0L860.4 311.0L861.0 310.1L861.5 309.2L862.1 308.2L862.6 307.3L863.2 306.4L863.7 305.4L864.3 304.5L864.9 303.6L865.5 302.7L866.1 301.8L866.7 300.8L867.3 299.9L867.9 299.0L868.5 298.1L869.1 297.2L869.8 296.4L870.4 295.5L871.1 294.6L871.7 293.7L872.4 292.8L873.0 292.0L873.7 291.1L874.4 290.2L875.1 289.4L875.8 288.5L876.5 287.7L877.2 286.8L878.0 286.0L878.7 285.1L879.4 284.3L880.2 283.5L881.0 282.7L881.7 281.9L882.5 281.1L883.3 280.3L884.1 279.5L884.9 278.8L885.7 278.0L886.5 277.3L887.4 276.6L888.2 275.8L889.1 275.1L889.9 274.5L890.8 273.8L891.7 273.1L892.6 272.5L893.5 271.9L894.4 271.3L895.4 270.7L896.3 270.1L897.2 269.6L898.2 269.0L899.2 268.5L900.2 268.0L901.1 267.5L902.1 267.1L903.1 266.6L904.1 266.2L905.2 265.7L906.2 265.3L907.2 264.9L908.2 264.5L909.3 264.1L910.3 263.8L911.4 263.4L912.4 263.1L913.5 262.7L914.6 262.4L915.6 262.1L916.7 261.7L917.8 261.4L918.8 261.2L919.9 260.9L921.0 260.6L922.1 260.3L923.2 260.1L924.3 259.8L925.4 259.5L926.5 259.3L927.6 259.1L928.6 258.8L929.7 258.6L930.8 258.4L932.0 258.2L933.1 258.0L934.2 257.8L935.3 257.6L936.4 257.4L937.5 257.2L938.6 257.0L939.7 256.8L940.8 256.6L941.9 256.5L943.0 256.3L944.1 256.1L945.2 255.9L946.2 255.8L947.3 255.6L948.4 255.4L949.5 255.3L950.6 255.1L951.7 255.0L952.8 254.8L953.9 254.7L955.0 254.5L956.0 254.4L957.1 254.2L958.2 254.1L959.3 253.9L960.4 253.8L961.5 253.7L962.5 253.5L963.6 253.4L964.7 253.3L965.7 253.2L966.8 253.1L967.9 252.9L969.0 252.8" fill="none" stroke="#00f" stroke-width="10" stroke-linejoin="round"/>
<path d="M228.0 729.9L228.8 729.9L229.5 729.9L230.2 730.0L231.0 730.0L231.7 730.0L232.4 730.0L233.2 730.1L233.9 730.1L234.6 730.1L235.4 730.1L236.1 730.2L236.9 730.2L237.6 730.2L238.3 730.2L239.1 730.3L239.8 730.3L240.5 730.3L241.3 730.4L242.0 730.4L242.7 730.4L243.5 730.4L244.2 730.5L245.0 730.5L245.7 730.5L246.4 730.5L247.2 730.6L247.9 730.6L248.6 730.6L249.4 730.6L250.1 730.7L250.8 730.7L251.6 730.7L252.3 730.7L253.1 730.8L253.8 730.8L254.5 730.8L255.3 730.8L256.0 730.9L256.7 730.9L257.5 730.9L258.2 731.0L258.9 731.0L259.7 731.0L260.4 731.0L261.2 731.1L261.9 731.1L262.6 731.1L263.4 731.1L264.1 731.2L264.8 731.2L265.6 731.2L266.3 731.2L267.1 731.3L267.8 731.3L268.5 731.3L269.3 731.3L270.0 731.4L270.7 731.4L271.5 731.4L272.2 731.5L273.0 731.5L273.7 731.5L274.4 731.5L275.2 731.6L275.9 731.6L276.7 731.6L277.4 731.7L278.1 731.7L278.9 731.7L279.6 731.7L280.3 731.8L281.1 731.8L281.8 731.8L282.6 731.9L283.3 731.9L284.0 731.9L284.8 731.9L285.5 732.0L286.2 732.0L287.0 732.0L287.7 732.1L288.5 732.1L289.2 732.1L289.9 732.2L290.7 732.2L291.4 732.2L292.2 732.2L292.9 732.3L293.6 732.3L294.4 732.3L295.1 732.4L295.8 732.4L296.6 732.4L297.3 732.5L298.1 732.5L298.8 732.5L299.5 732.6L300.3 732.6L301.0 732.6L301.8 732.7L302.5 732.7L303.2 732.7L304.0 732.8L304.7 732.8L305.4 732.8L306.2 732.9L306.9 732.9L307.7 733.0L308.4 733.0L309.1 733.0L309.9 733.1L310.6 733.1L311.4 733.1L312.1 733.2L312.8 733.2L313.6 733.3L314.3 733.3L315.0 733.3L315.8 733.4L316.5 733.4L317.3 733.4L318.0 733.5L318.7 733.5L319.5 733.6L320.2 733.6L321.0 733.7L321.7 733.7L322.4 733.7L323.2 733.8L323.9 733.8L324.6 733.9L325.4 733.9L326.1 734.0L326.9 734.0L327.6 734.0L328.3 734.1L329.1 734.1L329.8 734.2L330.5 734.2L331.3 734.3L332.0 734.3L332.8 734.4L333.5 734.4L334.2 734.5L335.0 734.5L335.7 734.6L336.5 734.6L337.2 734.7L337.9 734.7L338.7 734.8L339.4 734.8L340.1 734.9L340.9 734.9L341.6 735.0L342.4 735.0L343.1 735.1L343.8 735.1L344.6 735.2L345.3 735.2L346.0 735.3L346.8 735.3L347.5 735.4L348.2 735.4L349.0 735.5L349.7 735.6L350.5 735.6L351.2 735.7L351.9 735.7L352.7 735.8L353.4 735.8L354.1 735.9L354.9 736.0L355.6 736.0L356.4 736.1L357.1 736.1L357.8 736.2L358.6 736.3L359.3 736.3L360.0 736.4L360.8 736.5L361.5 736.5L362.2 736.6L363.0 736.7L363.7 736.7L364.4 736.8L365.2 736.9L365.9 736.9L366.7 737.0L367.4 737.1L368.1 737.1L368.9 737.2L369.6 737.3L370.3 737.3L371.1 737.4L371.8 737.5L372.5 737.5L373.3 737.6L374.0 737.7L374.7 737.8L375.5 737.8L376.2 737.9L376.9 738.0L377.7 738.1L378.4 738.1L379.2 738.2L379.9 738.3L380.6 738.4L381.4 738.5L382.1 738.5L382.8 738.6L383.6 738.7L384.3 738.8L385.0 738.9L385.8 738.9L386.5 739.0L387.2 739.1L388.0 739.2L388.7 739.3L389.4 739.4L390.2 739.5L390.9 739.5L391.6 739.6L392.4 739.7L393.1 739.8L393.8 739.9L394.6 740.0L395.3 740.1L396.0 740.2L396.7 740.3L397.5 740.4L398.2 740.5L398.9 740.6L399.7 740.6L400.4 740.7L401.1 740.8L401.9 740.9L402.6 741.0L403.3 741.1L404.1 741.2L404.8 741.3L405.5 741.4L406.3 741.5L407.0 741.6L407.7 741.7L408.4 741.8L409.2 741.9L409.9 742.1L410.6 742.2L411.4 742.3L412.1 742.4L412.8 742.5L413.6 742.6L414.3 742.7L415.0 742.8L415.7 742.9L416.5 743.0L417.2 743.1L417.9 743.3L418.7 743.4L419.4 743.5L420.1 743.6L420.9 743.7L421.6 743.8L422.3 744.0L423.0 744.1L423.8 744.2L424.5 744.3L425.2 744.4L425.9 744.6L426.7 744.7L427.4 744.8L428.1 744.9L428.9 745.1L429.6 745.2L430.3 745.3L431.0 745.4L431.8 745.6L432.5 745.7L433.2 745.8L433.9 746.0L434.7 746.1L435.4 746.2L436.1 746.4L436.8 746.5L437.6 746.6L438.3 746.8L439.0 746.9L439.7 747.0L440.5 747.2L441.2 747.3L441.9 747.5L442.6 747.6L443.4 747.7L444.1 747.9L444.8 748.0L445.5 748.2L446.3 748.3L447.0 748.5L447.7 748.6L448.4 748.8L449.2 748.9L449.9 749.1L450.6 749.2L451.3 749.4L452.0 749.5L452.8 749.7L453.5 749.8L454.2 750.0L454.9 750.2L455.6 750.3L456.4 750.5L457.1 750.7L457.8 750.8L458.5 751.0L459.2 751.2L460.0 751.3L460.7 751.5L461.4 751.7L462.1 751.8L462.8 752.0L463.5 752.2L464.3 752.4L465.0 752.6L465.7 752.7L466.4 752.9L467.1 753.1L467.8 753.3L468.5 753.5L469.2 753.7L470.0 753.9L470.7 754.0L471.4 754.2L472.1 754.4L472.8 754.6L473.5 754.8L474.2 755.0L474.9 755.2L475.6 755.4L476.3 755.6L477.0 755.9L477.7 756.1L478.5 756.3L479.2 756.5L479.9 756.7L480.6 756.9L481.3 757.1L482.0 757.4L482.7 757.6L483.4 757.8L484.1 758.0L484.8 758.3L485.5 758.5L486.2 758.7L486.9 759.0L487.6 759.2L488.2 759.4L488.9 759.7L489.6 759.9L490.3 760.2L491.0 760.4L491.7 760.7L492.4 760.9L493.1 761.2L493.8 761.4L494.5 761.7L495.2 762.0L495.8 762.2L496.5 762.5L497.2 762.8L497.9 763.0L498.6 763.3L499.3 763.6L499.9 763.8L500.6 764.1L501.3 764.4L502.0 764.7L502.7 765.0L503.3 765.3L504.0 765.6L504.7 765.9L505.4 766.2L506.0 766.5L506.7 766.8L507.4 767.1L508.0 767.4L508.7 767.7L509.4 768.0L510.1 768.3L510.7 768.6L511.4 769.0L512.0 769.3L512.7 769.6L513.4 769.9L514.0 770.3L514.7 770.6L515.4 771.0L516.0 771.3L516.7 771.6L517.3 772.0L518.0 772.3L518.6 772.7L519.3 773.0L519.9 773.4L520.6 773.7L521.3 774.1L521.9 774.5L522.6 774.8L523.2 775.2L523.9 775.6L524.5 775.9L525.2 776.3L525.9 776.7L526.5 777.0L527.2 777.4L527.8 777.8L528.5 778.1L529.2 778.5L529.9 778.9L530.5 779.2L531.2 779.6L531.9 780.0L532.6 780.4L533.2 780.7L533.9 781.1L534.6 781.5L535.3 781.8L536.0 782.2L536.7 782.6L537.4 782.9L538.1 783.3L538.8 783.7L539.5 784.0L540.3 784.4L541.0 784.7L541.7 785.0L542.4 785.4L543.1 785.7L543.8 786.0L544.6 786.3L545.3 786.5L546.0 786.8L546.7 787.0L547.4 787.3L548.1 787.5L548.8 787.7L549.5 787.8L550.2 788.0L550.9 788.1L551.6 788.2L552.3 788.2L553.0 788.3L553.7 788.3L554.3 788.3L555.0 788.2L555.7 788.2L556.3 788.1L557.0 787.9L557.6 787.8L558.2 787.6L558.9 787.4L559.5 787.2L560.1 786.9L560.7 786.7L561.3 786.4L561.9 786.1L562.5 785.8L563.1 785.4L563.7 785.1L564.3 784.7L564.8 784.3L565.4 783.9L565.9 783.5L566.5 783.0L567.0 782.6L567.6 782.1L568.1 781.6L568.6 781.1L569.1 780.6L569.7 780.1L570.2 779.6L570.7 779.0L571.2 778.5L571.6 777.9L572.1 777.4L572.6 776.8L573.1 776.2L573.5 775.7L574.0 775.1L574.4 774.5L574.9 773.9L575.3 773.3L575.7 772.7L576.1 772.1L576.6 771.5L577.0 770.9L577.4 770.3L577.8 769.7L578.1 769.1L578.5 768.4L578.9 767.8L579.3 767.2L579.6 766.5L580.0 765.9L580.4 765.3L580.7 764.6L581.1 764.0L581.4 763.3L581.7 762.7L582.1 762.0L582.4 761.4L582.7 760.7L583.0 760.0L583.3 759.4L583.6 758.7L583.9 758.0L584.2 757.4L584.5 756.7L584.8 756.0L585.0 755.3L585.3 754.6L585.6 754.0L585.9 753.3L586.1 752.6L586.4 751.9L586.6 751.2L586.9 750.5L587.1 749.8L587.3 749.1L587.6 748.4L587.8 747.7L588.0 747.0L588.3 746.2L588.5 745.5L588.7 744.8L588.9 744.1L589.1 743.4L589.3 742.7L589.5 741.9L589.7 741.2L589.9 740.5L590.1 739.8L590.3 739.0L590.5 738.3L590.7 737.6L590.8 736.9L591.0 736.1L591.2 735.4L591.4 734.7L591.5 733.9L591.7 733.2L591.9 732.4L592.0 731.7L592.2 731.0L592.3 730.2L592.5 729.5L592.6 728.7L592.8 728.0L592.9 727.3L593.1 726.5L593.2 725.8L593.4 725.0L593.5 724.3L593.7 723.5L593.8 722.8L593.9 722.0L594.1 721.3L594.2 720.5L594.3 719.8L594.4 719.0L594.6 718.3L594.7 717.6L594.8 716.8L594.9 716.1L595.1 715.3L595.2 714.6L595.3 713.8L595.4 713.1L595.6 712.3L595.7 711.6L595.8 710.8L595.9 710.1L596.0 709.3L596.1 708.6L596.3 707.9L596.4 707.1L596.5 706.4L596.6 705.6L596.7 704.9L596.8 704.2L597.0 703.4L597.1 702.7L597.2 701.9L597.3 701.2L597.4 700.5L597.5 699.7L597.6 699.0L597.8 698.3L597.9 697.5L598.0 696.8L598.1 696.1L598.2 695.4L598.4 694.6L598.5 693.9L598.6 693.2L598.7 692.5L598.9 691.8L599.0 691.0L599.1 690.3L599.2 689.6L599.4 688.9L599.5 688.2L599.6 687.5L599.7 686.8L599.9 686.0L600.0 685.3L600.1 684.6L600.3 683.9L600.4 683.2L600.6 682.5L600.7 681.8L600.8 681.1L601.0 680.4L601.1 679.7L601.3 679.0L601.4 678.3L601.6 677.6L601.7 676.9L601.9 676.2L602.0 675.5L602.2 674.8L602.3 674.1L602.5 673.4L602.6 672.7L602.8 672.0L603.0 671.3L603.1 670.6L603.3 669.9L603.5 669.2L603.6 668.5L603.8 667.8L604.0 667.1L604.1 666.4L604.3 665.7L604.5 665.0L604.7 664.3L604.9 663.7L605.1 663.0L605.2 662.3L605.4 661.6L605.6 660.9L605.8 660.2L606.0 659.5L606.2 658.8L606.4 658.1L606.6 657.4L606.8 656.7L607.0 656.0L607.2 655.3L607.4 654.6L607.7 653.9L607.9 653.2L608.1 652.5L608.3 651.8L608.5 651.1L608.8 650.4L609.0 649.7L609.2 649.0L609.5 648.3L609.7 647.6L610.0 646.9L610.2 646.2L610.4 645.4L610.7 644.7L610.9 644.0L611.2 643.3L611.5 642.6L611.7 641.9L612.0 641.2L612.2 640.5L612.5 639.7L612.8 639.0L613.1 638.3L613.3 637.6L613.6 636.9L613.9 636.1L614.2 635.4L614.5 634.7L614.8 634.0L615.1 633.2L615.4 632.5L615.7 631.8L616.0 631.1L616.3 630.3L616.6 629.6L617.0 628.9L617.3 628.1L617.6 627.4L617.9 626.7L618.3 626.0L618.6 625.3L619.0 624.5L619.3 623.8L619.7 623.1L620.1 622.4L620.4 621.8L620.8 621.1L621.2 620.4L621.6 619.8L622.0 619.1L622.4 618.5L622.8 617.8L623.2 617.2L623.7 616.6L624.1 616.0L624.6 615.4L625.0 614.8L625.5 614.3L625.9 613.7L626.4 613.2L626.9 612.7L627.4 612.2L627.9 611.7L628.4 611.2L628.9 610.8L629.5 610.4L630.0 609.9L630.6 609.5L631.1 609.2L631.7 608.8L632.3 608.5L632.9 608.2L633.5 607.9L634.1 607.6L634.8 607.4L635.4 607.2L636.0 607.0L636.7 606.8L637.4 606.6L638.0 606.5L638.7 606.4L639.4 606.3L640.0 606.2L640.7 606.2L641.4 606.2L642.1 606.2L642.8 606.2L643.5 606.2L644.2 606.3L644.9 606.4L645.5 606.5L646.2 606.7L646.9 606.9L647.6 607.0L648.3 607.2L649.0 607.5L649.7 607.7L650.4 608.0L651.1 608.2L651.7 608.5L652.4 608.8L653.1 609.1L653.8 609.4L654.5 609.7L655.2 610.1L655.9 610.4L656.6 610.7L657.2 611.1L657.9 611.4L658.6 611.8L659.3 612.1L660.0 612.5L660.7 612.8L661.3 613.2L662.0 613.5L662.7 613.8L663.4 614.2L664.1 614.5L664.8 614.9L665.4 615.2L666.1 615.5L666.8 615.9L667.5 616.2L668.2 616.6L668.8 616.9L669.5 617.2L670.2 617.5L670.9 617.9L671.6 618.2L672.2 618.5L672.9 618.9L673.6 619.2L674.3 619.5L674.9 619.8L675.6 620.1L676.3 620.5L677.0 620.8L677.7 621.1L678.3 621.4L679.0 621.7L679.7 622.0L680.4 622.3L681.1 622.6L681.7 622.9L682.4 623.3L683.1 623.6L683.8 623.9L684.4 624.2L685.1 624.5L685.8 624.8L686.5 625.1L687.2 625.3L687.8 625.6L688.5 625.9L689.2 626.2L689.9 626.5L690.6 626.8L691.2 627.1L691.9 627.4L692.6 627.7L693.3 627.9L694.0 628.2L694.6 628.5L695.3 628.8L696.0 629.0L696.7 629.3L697.4 629.6L698.1 629.9L698.8 630.1L699.4 630.4L700.1 630.7L700.8 630.9L701.5 631.2L702.2 631.4L702.9 631.7L703.6 632.0L704.2 632.2L704.9 632.5L705.6 632.7L706.3 633.0L707.0 633.2L707.7 633.5L708.4 633.7L709.1 634.0L709.8 634.2L710.5 634.4L711.2 634.7L711.8 634.9L712.5 635.2L713.2 635.4L713.9 635.6L714.6 635.9L715.3 636.1L716.0 636.3L716.7 636.6L717.4 636.8L718.1 637.0L718.8 637.2L719.5 637.4L720.2 637.7L720.9 637.9L721.6 638.1L722.3 638.3L723.0 638.5L723.7 638.7L724.4 639.0L725.1 639.2L725.8 639.4L726.5 639.6L727.2 639.8L727.9 640.0L728.6 640.2L729.3 640.4L730.0 640.6L730.7 640.8L731.4 641.0L732.2 641.2L732.9 641.4L733.6 641.6L734.3 641.8L735.0 642.0L735.7 642.1L736.4 642.3L737.1 642.5L737.8 642.7L738.5 642.9L739.2 643.1L739.9 643.2L740.7 643.4L741.4 643.6L742.1 643.8L742.8 644.0L743.5 644.1L744.2 644.3L744.9 644.5L745.6 644.6L746.4 644.8L747.1 645.0L747.8 645.2L748.5 645.3L749.2 645.5L749.9 645.6L750.6 645.8L751.4 646.0L752.1 646.1L752.8 646.3L753.5 646.4L754.2 646.6L754.9 646.8L755.7 646.9L756.4 647.1L757.1 647.2L757.8 647.4L758.5 647.5L759.3 647.7L760.0 647.8L760.7 647.9L761.4 648.1L762.1 648.2L762.9 648.4L763.6 648.5L764.3 648.7L765.0 648.8L765.7 648.9L766.5 649.1L767.2 649.2L767.9 649.3L768.6 649.5L769.4 649.6L770.1 649.7L770.8 649.9L771.5 650.0L772.3 650.1L773.0 650.2L773.7 650.4L774.4 650.5L775.2 650.6L775.9 650.7L776.6 650.9L777.3 651.0L778.1 651.1L778.8 651.2L779.5 651.3L780.2 651.4L781.0 651.6L781.7 651.7L782.4 651.8L783.2 651.9L783.9 652.0L784.6 652.1L785.3 652.2L786.1 652.3L786.8 652.4L787.5 652.5L788.3 652.7L789.0 652.8L789.7 652.9L790.5 653.0L791.2 653.1L791.9 653.2L792.6 653.3L793.4 653.4L794.1 653.5L794.8 653.6L795.6 653.7L796.3 653.8L797.0 653.8L797.8 653.9L798.5 654.0L799.2 654.1L800.0 654.2L800.7 654.3L801.4 654.4L802.2 654.5L802.9 654.6L803.6 654.7L804.4 654.7L805.1 654.8L805.8 654.9L806.6 655.0L807.3 655.1L808.1 655.2L808.8 655.2L809.5 655.3L810.3 655.4L811.0 655.5L811.7 655.6L812.5 655.6L813.2 655.7L813.9 655.8L814.7 655.9L815.4 655.9L816.2 656.0L816.9 656.1L817.6 656.2L818.4 656.2L819.1 656.3L819.8 656.4L820.6 656.4L821.3 656.5L822.1 656.6L822.8 656.7L823.5 656.7L824.3 656.8L825.0 656.9L825.8 656.9L826.5 657.0L827.2 657.0L828.0 657.1L828.7 657.2L829.5 657.2L830.2 657.3L830.9 657.4L831.7 657.4L832.4 657.5L833.2 657.5L833.9 657.6L834.6 657.6L835.4 657.7L836.1 657.8L836.9 657.8L837.6 657.9L838.3 657.9L839.1 658.0L839.8 658.0L840.6 658.1L841.3 658.1L842.0 658.2L842.8 658.2L843.5 658.3L844.3 658.3L845.0 658.4L845.7 658.4L846.5 658.5L847.2 658.5L848.0 658.6L848.7 658.6L849.5 658.7L850.2 658.7L850.9 658.8L851.7 658.8L852.4 658.9L853.2 658.9L853.9 659.0L854.6 659.0L855.4 659.1L856.1 659.1L856.9 659.1L857.6 659.2L858.4 659.2L859.1 659.3L859.8 659.3L860.6 659.4L861.3 659.4L862.1 659.4L862.8 659.5L863.6 659.5L864.3 659.6L865.0 659.6L865.8 659.6L866.5 659.7L867.3 659.7L868.0 659.7L868.8 659.8L869.5 659.8L870.2 659.9L871.0 659.9L871.7 659.9L872.5 660.0L873.2 660.0L874.0 660.0L874.7 660.1L875.4 660.1L876.2 660.1L876.9 660.2L877.7 660.2L878.4 660.2L879.1 660.3L879.9 660.3L880.6 660.3L881.4 660.4L882.1 660.4L882.9 660.4L883.6 660.5L884.3 660.5L885.1 660.5L885.8 660.6L886.6 660.6L887.3 660.6L888.1 660.7L888.8 660.7L889.5 660.7L890.3 660.8L891.0 660.8L891.8 660.8L892.5 660.8L893.2 660.9L894.0 660.9L894.7 660.9L895.5 661.0L896.2 661.0L896.9 661.0L897.7 661.1L898.4 661.1L899.2 661.1L899.9 661.1L900.6 661.2L901.4 661.2L902.1 661.2L902.9 661.3L903.6 661.3L904.4 661.3L905.1 661.3L905.8 661.4L906.6 661.4L907.3 661.4L908.0 661.5L908.8 661.5L909.5 661.5L910.3 661.5L911.0 661.6L911.7 661.6L912.5 661.6L913.2 661.7L914.0 661.7L914.7 661.7L915.4 661.8L916.2 661.8L916.9 661.8L917.6 661.8L918.4 661.9L919.1 661.9L919.9 661.9L920.6 662.0L921.3 662.0L922.1 662.0L922.8 662.0L923.5 662.1L924.3 662.1L925.0 662.1L925.8 662.2L926.5 662.2L927.2 662.2L928.0 662.3L928.7 662.3L929.4 662.3L930.2 662.4L930.9 662.4L931.6 662.4L932.4 662.4L933.1 662.5L933.8 662.5L934.6 662.5L935.3 662.6L936.0 662.6L936.8 662.6L937.5 662.7L938.2 662.7L939.0 662.7L939.7 662.8L940.4 662.8L941.2 662.8L941.9 662.9L942.6 662.9L943.4 663.0L944.1 663.0L944.8 663.0L945.6 663.1L946.3 663.1L947.0 663.1L947.7 663.2L948.5 663.2L949.2 663.2L949.9 663.3L950.7 663.3L951.4 663.4L952.1 663.4L952.8 663.4L953.6 663.5L954.3 663.5L955.0 663.6L955.8 663.6L956.5 663.6L957.2 663.7L957.9 663.7L958.7 663.8L959.4 663.8L960.1 663.8L960.8 663.9L961.6 663.9L962.3 664.0L963.0 664.0L963.7 664.1L964.5 664.1L965.2 664.2L965.9 664.2L966.6 664.3L967.4 664.3L968.1 664.3L968.8 664.4" fill="none" stroke="#808000" stroke-width="10" stroke-linejoin="round"/>
<path d="M1178.5 1191.6L1179.8 1191.5L1181.0 1191.4L1182.3 1191.3L1183.5 1191.3L1184.8 1191.2L1186.0 1191.1L1187.2 1191.0L1188.5 1190.9L1189.7 1190.8L1191.0 1190.7L1192.2 1190.7L1193.5 1190.6L1194.7 1190.5L1196.0 1190.4L1197.2 1190.3L1198.5 1190.3L1199.7 1190.2L1201.0 1190.1L1202.2 1190.1L1203.5 1190.0L1204.7 1189.9L1206.0 1189.9L1207.2 1189.8L1208.4 1189.7L1209.7 1189.7L1210.9 1189.6L1212.2 1189.5L1213.4 1189.5L1214.7 1189.4L1215.9 1189.4L1217.2 1189.3L1218.4 1189.3L1219.7 1189.2L1220.9 1189.1L1222.2 1189.1L1223.4 1189.0L1224.7 1189.0L1225.9 1188.9L1227.2 1188.9L1228.4 1188.8L1229.7 1188.8L1230.9 1188.7L1232.2 1188.7L1233.4 1188.6L1234.7 1188.6L1235.9 1188.5L1237.2 1188.5L1238.4 1188.4L1239.6 1188.4L1240.9 1188.3L1242.1 1188.3L1243.4 1188.2L1244.6 1188.2L1245.9 1188.1L1247.1 1188.1L1248.4 1188.0L1249.6 1188.0L1250.9 1187.9L1252.1 1187.9L1253.4 1187.9L1254.6 1187.8L1255.9 1187.8L1257.1 1187.7L1258.4 1187.7L1259.6 1187.6L1260.9 1187.6L1262.1 1187.5L1263.4 1187.5L1264.6 1187.4L1265.8 1187.4L1267.1 1187.3L1268.3 1187.3L1269.6 1187.2L1270.8 1187.2L1272.1 1187.1L1273.3 1187.1L1274.6 1187.0L1275.8 1186.9L1277.1 1186.9L1278.3 1186.8L1279.6 1186.8L1280.8 1186.7L1282.1 1186.7L1283.3 1186.6L1284.5 1186.5L1285.8 1186.5L1287.0 1186.4L1288.3 1186.3L1289.5 1186.3L1290.8 1186.2L1292.0 1186.1L1293.3 1186.1L1294.5 1186.0L1295.8 1185.9L1297.0 1185.9L1298.3 1185.8L1299.5 1185.7L1300.7 1185.6L1302.0 1185.6L1303.2 1185.5L1304.5 1185.4L1305.7 1185.3L1307.0 1185.2L1308.2 1185.2L1309.5 1185.1L1310.7 1185.0L1311.9 1184.9L1313.2 1184.8L1314.4 1184.7L1315.7 1184.6L1316.9 1184.5L1318.2 1184.4L1319.4 1184.3L1320.7 1184.2L1321.9 1184.1L1323.1 1184.0L1324.4 1183.9L1325.6 1183.8L1326.9 1183.7L1328.1 1183.6L1329.4 1183.5L1330.6 1183.3L1331.8 1183.2L1333.1 1183.1L1334.3 1183.0L1335.6 1182.9L1336.8 1182.7L1338.0 1182.6L1339.3 1182.5L1340.5 1182.3L1341.8 1182.2L1343.0 1182.0L1344.2 1181.9L1345.5 1181.8L1346.7 1181.6L1348.0 1181.5L1349.2 1181.3L1350.5 1181.1L1351.7 1181.0L1352.9 1180.8L1354.2 1180.7L1355.4 1180.5L1356.6 1180.3L1357.9 1180.2L1359.1 1180.0L1360.4 1179.8L1361.6 1179.6L1362.8 1179.4L1364.1 1179.3L1365.3 1179.1L1366.6 1178.9L1367.8 1178.7L1369.0 1178.5L1370.3 1178.3L1371.5 1178.1L1372.7 1177.9L1374.0 1177.6L1375.2 1177.4L1376.5 1177.2L1377.7 1177.0L1378.9 1176.8L1380.2 1176.5L1381.4 1176.3L1382.6 1176.1L1383.9 1175.8L1385.1 1175.6L1386.3 1175.3L1387.6 1175.1L1388.8 1174.8L1390.0 1174.6L1391.3 1174.3L1392.5 1174.0L1393.7 1173.8L1395.0 1173.5L1396.2 1173.2L1397.4 1172.9L1398.7 1172.7L1399.9 1172.4L1401.1 1172.1L1402.4 1171.8L1403.6 1171.5L1404.8 1171.2L1406.0 1170.9L1407.3 1170.5L1408.5 1170.2L1409.7 1169.9L1410.9 1169.5L1412.1 1169.2L1413.3 1168.8L1414.5 1168.5L1415.8 1168.1L1416.9 1167.7L1418.1 1167.3L1419.3 1166.9L1420.5 1166.5L1421.7 1166.1L1422.9 1165.7L1424.0 1165.3L1425.2 1164.8L1426.4 1164.4L1427.5 1163.9L1428.7 1163.4L1429.8 1162.9L1430.9 1162.4L1432.1 1161.9L1433.2 1161.4L1434.3 1160.8L1435.4 1160.3L1436.5 1159.7L1437.6 1159.1L1438.6 1158.5L1439.7 1157.9L1440.8 1157.3L1441.8 1156.7L1442.8 1156.0L1443.9 1155.4L1444.9 1154.7L1445.9 1154.0L1446.9 1153.3L1447.9 1152.6L1448.9 1151.8L1449.8 1151.1L1450.8 1150.3L1451.7 1149.6L1452.7 1148.8L1453.6 1148.0L1454.5 1147.2L1455.4 1146.3L1456.3 1145.5L1457.2 1144.7L1458.1 1143.8L1458.9 1142.9L1459.8 1142.1L1460.6 1141.2L1461.4 1140.3L1462.3 1139.4L1463.1 1138.4L1463.8 1137.5L1464.6 1136.6L1465.4 1135.6L1466.1 1134.7L1466.9 1133.7L1467.6 1132.7L1468.3 1131.7L1469.0 1130.7L1469.7 1129.7L1470.4 1128.7L1471.1 1127.7L1471.7 1126.6L1472.4 1125.6L1473.0 1124.6L1473.6 1123.5L1474.3 1122.4L1474.9 1121.4L1475.5 1120.3L1476.1 1119.2L1476.6 1118.1L1477.2 1117.0L1477.8 1115.9L1478.3 1114.8L1478.8 1113.7L1479.4 1112.5L1479.9 1111.4L1480.4 1110.3L1480.9 1109.1L1481.4 1108.0L1481.9 1106.8L1482.4 1105.6L1482.9 1104.5L1483.3 1103.3L1483.8 1102.1L1484.3 1101.0L1484.7 1099.8L1485.1 1098.6L1485.6 1097.4L1486.0 1096.2L1486.4 1095.0L1486.8 1093.8L1487.2 1092.6L1487.6 1091.4L1488.0 1090.2L1488.4 1088.9L1488.8 1087.7L1489.2 1086.5L1489.6 1085.3L1489.9 1084.1L1490.3 1082.8L1490.6 1081.6L1491.0 1080.4L1491.4 1079.1L1491.7 1077.9L1492.0 1076.7L1492.4 1075.4L1492.7 1074.2L1493.1 1072.9L1493.4 1071.7L1493.7 1070.5L1494.0 1069.2L1494.4 1068.0L1494.7 1066.8L1495.0 1065.5L1495.3 1064.3L1495.6 1063.0L1495.9 1061.8L1496.2 1060.6L1496.5 1059.3L1496.8 1058.1L1497.1 1056.9L1497.4 1055.6L1497.7 1054.4L1498.0 1053.2L1498.3 1051.9L1498.6 1050.7L1498.9 1049.5L1499.2 1048.2L1499.5 1047.0L1499.7 1045.8L1500.0 1044.6L1500.3 1043.3L1500.6 1042.1L1500.9 1040.9L1501.1 1039.7L1501.4 1038.4L1501.7 1037.2L1501.9 1036.0L1502.2 1034.8L1502.5 1033.5L1502.7 1032.3L1503.0 1031.1L1503.3 1029.9L1503.5 1028.6L1503.8 1027.4L1504.0 1026.2L1504.3 1025.0L1504.5 1023.7L1504.8 1022.5L1505.0 1021.3L1505.3 1020.1L1505.5 1018.9L1505.8 1017.6L1506.0 1016.4L1506.3 1015.2L1506.5 1014.0L1506.7 1012.8L1507.0 1011.5L1507.2 1010.3L1507.4 1009.1L1507.7 1007.9L1507.9 1006.7L1508.1 1005.4L1508.4 1004.2L1508.6 1003.0L1508.8 1001.8L1509.0 1000.6L1509.3 999.3L1509.5 998.1L1509.7 996.9L1509.9 995.7L1510.2 994.5L1510.4 993.2L1510.6 992.0L1510.8 990.8L1511.0 989.6L1511.3 988.4L1511.5 987.2L1511.7 985.9L1511.9 984.7L1512.1 983.5L1512.3 982.3L1512.5 981.1L1512.7 979.8L1512.9 978.6L1513.1 977.4L1513.4 976.2L1513.6 975.0L1513.8 973.7L1514.0 972.5L1514.2 971.3L1514.4 970.1L1514.6 968.8L1514.8 967.6L1515.0 966.4L1515.2 965.2L1515.4 963.9L1515.6 962.7L1515.8 961.5L1516.0 960.3L1516.2 959.1L1516.4 957.8L1516.6 956.6L1516.8 955.4L1517.0 954.2L1517.2 952.9L1517.3 951.7L1517.5 950.5L1517.7 949.2L1517.9 948.0L1518.1 946.8L1518.3 945.6L1518.5 944.3L1518.7 943.1L1518.9 941.9L1519.1 940.7L1519.2 939.4L1519.4 938.2L1519.6 937.0L1519.8 935.7L1520.0 934.5L1520.2 933.3L1520.4 932.0L1520.5 930.8L1520.7 929.6L1520.9 928.4L1521.1 927.1L1521.3 925.9L1521.5 924.7L1521.6 923.4L1521.8 922.2L1522.0 921.0L1522.2 919.7L1522.3 918.5L1522.5 917.3L1522.7 916.0L1522.9 914.8L1523.1 913.6L1523.2 912.3L1523.4 911.1L1523.6 909.9L1523.7 908.6L1523.9 907.4L1524.1 906.2L1524.3 904.9L1524.4 903.7L1524.6 902.5L1524.8 901.2L1524.9 900.0L1525.1 898.7L1525.3 897.5L1525.5 896.3L1525.6 895.0L1525.8 893.8L1526.0 892.6L1526.1 891.3L1526.3 890.1L1526.5 888.9L1526.6 887.6L1526.8 886.4L1527.0 885.1L1527.1 883.9L1527.3 882.7L1527.4 881.4L1527.6 880.2L1527.8 879.0L1527.9 877.7L1528.1 876.5L1528.3 875.2L1528.4 874.0L1528.6 872.8L1528.7 871.5L1528.9 870.3L1529.1 869.0L1529.2 867.8L1529.4 866.6L1529.5 865.3L1529.7 864.1L1529.8 862.8L1530.0 861.6L1530.2 860.4L1530.3 859.1L1530.5 857.9L1530.6 856.6L1530.8 855.4L1530.9 854.1L1531.1 852.9L1531.2 851.7L1531.4 850.4L1531.5 849.2L1531.7 847.9L1531.8 846.7L1532.0 845.5L1532.1 844.2L1532.3 843.0L1532.4 841.7L1532.6 840.5L1532.7 839.2L1532.9 838.0L1533.0 836.8L1533.2 835.5L1533.3 834.3L1533.5 833.0L1533.6 831.8L1533.8 830.5L1533.9 829.3L1534.1 828.1L1534.2 826.8L1534.4 825.6L1534.5 824.3L1534.7 823.1L1534.8 821.8L1535.0 820.6L1535.1 819.3L1535.3 818.1L1535.4 816.9L1535.5 815.6L1535.7 814.4L1535.8 813.1L1536.0 811.9L1536.1 810.6L1536.3 809.4L1536.4 808.1L1536.5 806.9L1536.7 805.7L1536.8 804.4L1537.0 803.2L1537.1 801.9L1537.3 800.7L1537.4 799.4L1537.5 798.2L1537.7 796.9L1537.8 795.7L1538.0 794.5L1538.1 793.2L1538.2 792.0L1538.4 790.7L1538.5 789.5L1538.7 788.2L1538.8 787.0L1538.9 785.7L1539.1 784.5L1539.2 783.2L1539.3 782.0L1539.5 780.8L1539.6 779.5L1539.8 778.3L1539.9 777.0L1540.0 775.8L1540.2 774.5L1540.3 773.3L1540.4 772.0L1540.6 770.8L1540.7 769.5L1540.9 768.3L1541.0 767.0L1541.1 765.8L1541.3 764.6L1541.4 763.3L1541.5 762.1L1541.7 760.8L1541.8 759.6L1541.9 758.3L1542.1 757.1L1542.2 755.8L1542.3 754.6L1542.5 753.3L1542.6 752.1L1542.8 750.9L1542.9 749.6L1543.0 748.4L1543.2 747.1L1543.3 745.9L1543.4 744.6L1543.6 743.4L1543.7 742.1L1543.8 740.9L1544.0 739.6L1544.1 738.4L1544.2 737.2L1544.4 735.9L1544.5 734.7L1544.6 733.4L1544.8 732.2L1544.9 730.9L1545.0 729.7L1545.2 728.4L1545.3 727.2L1545.4 726.0L1545.6 724.7L1545.7 723.5L1545.8 722.2L1546.0 721.0L1546.1 719.7L1546.2 718.5L1546.4 717.2L1546.5 716.0L1546.6 714.8L1546.8 713.5L1546.9 712.3L1547.0 711.0L1547.2 709.8L1547.3 708.5L1547.4 707.3L1547.6 706.1L1547.7 704.8L1547.8 703.6L1548.0 702.3L1548.1 701.1L1548.2 699.8L1548.4 698.6L1548.5 697.4L1548.6 696.1L1548.8 694.9L1548.9 693.6L1549.0 692.4L1549.2 691.1L1549.3 689.9L1549.4 688.7L1549.6 687.4L1549.7 686.2L1549.8 684.9L1550.0 683.7L1550.1 682.4L1550.2 681.2L1550.4 680.0L1550.5 678.7L1550.6 677.5L1550.8 676.2L1550.9 675.0L1551.0 673.8L1551.2 672.5L1551.3 671.3L1551.4 670.0L1551.6 668.8L1551.7 667.6L1551.9 666.3L1552.0 665.1L1552.1 663.8L1552.3 662.6L1552.4 661.4L1552.5 660.1L1552.7 658.9L1552.8 657.6L1552.9 656.4L1553.1 655.2L1553.2 653.9L1553.3 652.7L1553.5 651.4L1553.6 650.2L1553.8 649.0L1553.9 647.7L1554.0 646.5L1554.2 645.2L1554.3 644.0L1554.4 642.8L1554.6 641.5L1554.7 640.3L1554.9 639.0L1555.0 637.8L1555.1 636.6L1555.3 635.3L1555.4 634.1L1555.5 632.9L1555.7 631.6L1555.8 630.4L1556.0 629.1L1556.1 627.9L1556.2 626.7L1556.4 625.4L1556.5 624.2L1556.7 623.0L1556.8 621.7L1556.9 620.5L1557.1 619.2L1557.2 618.0L1557.4 616.8L1557.5 615.5L1557.7 614.3L1557.8 613.1L1557.9 611.8L1558.1 610.6L1558.2 609.3L1558.4 608.1L1558.5 606.9L1558.6 605.6L1558.8 604.4L1558.9 603.2L1559.1 601.9L1559.2 600.7L1559.4 599.4L1559.5 598.2L1559.7 597.0L1559.8 595.7L1559.9 594.5L1560.1 593.3L1560.2 592.0L1560.4 590.8L1560.5 589.6L1560.7 588.3L1560.8 587.1L1561.0 585.8L1561.1 584.6L1561.3 583.4L1561.4 582.1L1561.6 580.9L1561.7 579.7L1561.9 578.4L1562.0 577.2L1562.2 576.0L1562.3 574.7L1562.5 573.5L1562.6 572.2L1562.8 571.0L1562.9 569.8L1563.1 568.5L1563.2 567.3L1563.4 566.1L1563.5 564.8L1563.7 563.6L1563.8 562.4L1564.0 561.1L1564.1 559.9L1564.3 558.7L1564.4 557.4L1564.6 556.2L1564.7 555.0L1564.9 553.7L1565.0 552.5L1565.2 551.2L1565.3 550.0L1565.5 548.8L1565.7 547.5L1565.8 546.3L1566.0 545.1L1566.1 543.8L1566.3 542.6L1566.4 541.4L1566.6 540.1L1566.8 538.9L1566.9 537.7L1567.1 536.4L1567.2 535.2L1567.4 534.0L1567.6 532.7L1567.7 531.5L1567.9 530.3L1568.0 529.0L1568.2 527.8L1568.4 526.5L1568.5 525.3L1568.7 524.1L1568.9 522.8L1569.0 521.6L1569.2 520.4L1569.3 519.1L1569.5 517.9L1569.7 516.7L1569.8 515.4L1570.0 514.2L1570.2 513.0L1570.3 511.7L1570.5 510.5L1570.7 509.3L1570.8 508.0L1571.0 506.8L1571.2 505.6L1571.4 504.3L1571.5 503.1L1571.7 501.9L1571.9 500.6L1572.0 499.4L1572.2 498.1L1572.4 496.9L1572.5 495.7L1572.7 494.4L1572.9 493.2L1573.1 492.0L1573.2 490.7L1573.4 489.5L1573.6 488.3L1573.8 487.0L1573.9 485.8L1574.1 484.6L1574.3 483.3L1574.5 482.1L1574.7 480.9L1574.8 479.6L1575.0 478.4L1575.2 477.2L1575.4 475.9L1575.5 474.7L1575.7 473.4L1575.9 472.2L1576.1 471.0L1576.3 469.7L1576.5 468.5L1576.6 467.3L1576.8 466.0L1577.0 464.8L1577.2 463.6L1577.4 462.3L1577.6 461.1L1577.7 459.9L1577.9 458.6L1578.1 457.4L1578.3 456.2L1578.5 454.9L1578.7 453.7L1578.9 452.4L1579.1 451.2L1579.3 450.0L1579.4 448.7L1579.6 447.5L1579.8 446.3L1580.0 445.0L1580.2 443.8L1580.4 442.6L1580.6 441.3L1580.8 440.1L1581.0 438.9L1581.2 437.6L1581.4 436.4L1581.6 435.1L1581.8 433.9L1582.0 432.7L1582.2 431.4L1582.4 430.2L1582.6 429.0L1582.8 427.7L1583.0 426.5L1583.2 425.3L1583.4 424.0L1583.6 422.8L1583.8 421.5L1584.0 420.3L1584.2 419.1L1584.4 417.8L1584.6 416.6L1584.8 415.4L1585.0 414.1L1585.2 412.9L1585.4 411.7L1585.6 410.4L1585.8 409.2L1586.0 407.9L1586.3 406.7L1586.5 405.5L1586.7 404.2L1586.9 403.0L1587.1 401.8L1587.3 400.5L1587.5 399.3L1587.7 398.0L1588.0 396.8L1588.2 395.6L1588.4 394.3L1588.6 393.1L1588.8 391.9L1589.0 390.6L1589.3 389.4L1589.5 388.1L1589.7 386.9L1589.9 385.7L1590.1 384.4L1590.4 383.2L1590.6 382.0L1590.8 380.7L1591.0 379.5L1591.3 378.2L1591.5 377.0L1591.7 375.8L1591.9 374.5L1592.2 373.3L1592.4 372.0L1592.6 370.8L1592.9 369.6L1593.1 368.3L1593.3 367.1L1593.5 365.9L1593.8 364.6L1594.0 363.4L1594.3 362.1L1594.5 360.9L1594.7 359.7L1595.0 358.4L1595.2 357.2L1595.5 356.0L1595.7 354.7L1596.0 353.5L1596.2 352.2L1596.5 351.0L1596.7 349.8L1597.0 348.5L1597.2 347.3L1597.5 346.1L1597.8 344.9L1598.0 343.6L1598.3 342.4L1598.6 341.2L1598.9 339.9L1599.1 338.7L1599.4 337.5L1599.7 336.3L1600.0 335.0L1600.3 333.8L1600.6 332.6L1600.9 331.4L1601.2 330.2L1601.5 329.0L1601.8 327.7L1602.1 326.5L1602.5 325.3L1602.8 324.1L1603.1 322.9L1603.4 321.7L1603.8 320.5L1604.1 319.3L1604.5 318.1L1604.8 316.9L1605.2 315.7L1605.6 314.5L1605.9 313.3L1606.3 312.1L1606.7 310.9L1607.1 309.8L1607.5 308.6L1607.9 307.4L1608.3 306.2L1608.7 305.0L1609.1 303.9L1609.5 302.7L1609.9 301.5L1610.4 300.4L1610.8 299.2L1611.3 298.0L1611.7 296.9L1612.2 295.7L1612.6 294.6L1613.1 293.4L1613.6 292.3L1614.1 291.1L1614.6 290.0L1615.1 288.8L1615.6 287.7L1616.1 286.6L1616.6 285.4L1617.2 284.3L1617.7 283.2L1618.3 282.1L1618.8 281.0L1619.4 279.8L1620.0 278.7L1620.5 277.6L1621.1 276.5L1621.7 275.4L1622.3 274.3L1622.9 273.2L1623.6 272.2L1624.2 271.1L1624.8 270.0L1625.5 268.9L1626.2 267.9L1626.8 266.8L1627.5 265.7L1628.2 264.7L1628.9 263.6L1629.6 262.6L1630.3 261.6L1631.0 260.6L1631.8 259.6L1632.5 258.6L1633.3 257.6L1634.0 256.6L1634.8 255.6L1635.6 254.7L1636.4 253.8L1637.2 252.8L1638.0 251.9L1638.9 251.0L1639.7 250.1L1640.6 249.2L1641.4 248.4L1642.3 247.5L1643.2 246.7L1644.1 245.9L1645.0 245.1L1645.9 244.3L1646.9 243.5L1647.8 242.8L1648.8 242.0L1649.7 241.3L1650.7 240.6L1651.7 239.9L1652.7 239.2L1653.7 238.5L1654.7 237.9L1655.7 237.2L1656.8 236.6L1657.8 236.0L1658.9 235.4L1659.9 234.8L1661.0 234.2L1662.1 233.7L1663.2 233.1L1664.3 232.6L1665.4 232.1L1666.5 231.5L1667.6 231.0L1668.7 230.5L1669.9 230.1L1671.0 229.6L1672.1 229.1L1673.3 228.7L1674.4 228.2L1675.6 227.8L1676.8 227.4L1678.0 227.0L1679.1 226.6L1680.3 226.2L1681.5 225.8L1682.7 225.4L1683.9 225.0L1685.1 224.7L1686.3 224.3L1687.5 224.0L1688.7 223.6L1690.0 223.3L1691.2 223.0L1692.4 222.7L1693.6 222.4L1694.9 222.1L1696.1 221.8L1697.4 221.5L1698.6 221.2L1699.8 220.9L1701.1 220.6L1702.3 220.4L1703.6 220.1L1704.8 219.8L1706.1 219.6L1707.3 219.3L1708.6 219.1L1709.8 218.9L1711.1 218.6L1712.3 218.4L1713.6 218.2L1714.8 217.9L1716.1 217.7L1717.3 217.5L1718.6 217.3L1719.8 217.1L1721.1 216.8L1722.4 216.6L1723.6 216.4L1724.9 216.2L1726.1 216.0L1727.3 215.8L1728.6 215.6L1729.8 215.4L1731.1 215.3L1732.3 215.1L1733.6 214.9L1734.8 214.7L1736.1 214.5L1737.3 214.4L1738.6 214.2L1739.8 214.0L1741.1 213.8L1742.3 213.7L1743.6 213.5L1744.8 213.4L1746.0 213.2L1747.3 213.0L1748.5 212.9L1749.8 212.7L1751.0 212.6L1752.3 212.4L1753.5 212.3L1754.8 212.2L1756.0 212.0L1757.2 211.9L1758.5 211.7L1759.7 211.6L1761.0 211.5L1762.2 211.3L1763.4 211.2L1764.7 211.1L1765.9 211.0L1767.2 210.8L1768.4 210.7L1769.7 210.6L1770.9 210.5L1772.1 210.4L1773.4 210.3L1774.6 210.2L1775.9 210.1L1777.1 209.9L1778.3 209.8L1779.6 209.7L1780.8 209.6L1782.0 209.5L1783.3 209.4L1784.5 209.3L1785.8 209.2L1787.0 209.2L1788.2 209.1L1789.5 209.0L1790.7 208.9L1792.0 208.8L1793.2 208.7L1794.4 208.6L1795.7 208.5L1796.9 208.5L1798.2 208.4L1799.4 208.3L1800.6 208.2L1801.9 208.1L1803.1 208.1L1804.3 208.0L1805.6 207.9L1806.8 207.8L1808.1 207.8L1809.3 207.7L1810.5 207.6L1811.8 207.6L1813.0 207.5L1814.3 207.4L1815.5 207.4L1816.7 207.3L1818.0 207.2L1819.2 207.2L1820.4 207.1L1821.7 207.0L1822.9 207.0L1824.2 206.9L1825.4 206.9L1826.6 206.8L1827.9 206.7L1829.1 206.7L1830.4 206.6L1831.6 206.6L1832.8 206.5L1834.1 206.5L1835.3 206.4L1836.6 206.3L1837.8 206.3L1839.0 206.2L1840.3 206.2L1841.5 206.1L1842.8 206.1L1844.0 206.0L1845.3 206.0L1846.5 205.9L1847.7 205.9L1849.0 205.8L1850.2 205.8L1851.5 205.7L1852.7 205.7L1854.0 205.6L1855.2 205.6L1856.4 205.5L1857.7 205.5L1858.9 205.4L1860.2 205.4L1861.4 205.3L1862.7 205.3L1863.9 205.2L1865.2 205.2L1866.4 205.1L1867.7 205.1L1868.9 205.0L1870.1 205.0L1871.4 204.9L1872.6 204.9L1873.9 204.8L1875.1 204.8L1876.4 204.7L1877.6 204.6L1878.9 204.6L1880.1 204.5L1881.4 204.5L1882.6 204.4L1883.9 204.4L1885.1 204.3L1886.4 204.3L1887.6 204.2L1888.9 204.1L1890.1 204.1L1891.4 204.0L1892.7 204.0L1893.9 203.9L1895.2 203.8L1896.4 203.8L1897.7 203.7L1898.9 203.6L1900.2 203.6L1901.4 203.5L1902.7 203.4L1904.0 203.4L1905.2 203.3L1906.5 203.2L1907.7 203.2L1909.0 203.1L1910.3 203.0L1911.5 202.9L1912.8 202.9L1914.0 202.8L1915.3 202.7L1916.6 202.6L1917.8 202.6L1919.1 202.5" fill="none" stroke="#000" stroke-width="10" stroke-linejoin="round"/>
<path d="M1178.4 1191.1L1179.7 1191.1L1180.9 1191.1L1182.2 1191.1L1183.5 1191.1L1184.7 1191.1L1186.0 1191.0L1187.2 1191.0L1188.5 1191.0L1189.7 1191.0L1190.9 1191.0L1192.2 1191.0L1193.4 1190.9L1194.7 1190.9L1195.9 1190.9L1197.2 1190.8L1198.4 1190.8L1199.7 1190.8L1200.9 1190.7L1202.1 1190.7L1203.4 1190.7L1204.6 1190.6L1205.8 1190.6L1207.1 1190.5L1208.3 1190.5L1209.6 1190.4L1210.8 1190.4L1212.0 1190.3L1213.3 1190.3L1214.5 1190.2L1215.7 1190.2L1216.9 1190.1L1218.2 1190.1L1219.4 1190.0L1220.6 1189.9L1221.9 1189.9L1223.1 1189.8L1224.3 1189.8L1225.5 1189.7L1226.8 1189.6L1228.0 1189.6L1229.2 1189.5L1230.4 1189.4L1231.7 1189.3L1232.9 1189.3L1234.1 1189.2L1235.3 1189.1L1236.6 1189.1L1237.8 1189.0L1239.0 1188.9L1240.2 1188.8L1241.5 1188.7L1242.7 1188.7L1243.9 1188.6L1245.1 1188.5L1246.4 1188.4L1247.6 1188.3L1248.8 1188.3L1250.0 1188.2L1251.2 1188.1L1252.5 1188.0L1253.7 1187.9L1254.9 1187.8L1256.1 1187.7L1257.3 1187.7L1258.6 1187.6L1259.8 1187.5L1261.0 1187.4L1262.2 1187.3L1263.5 1187.2L1264.7 1187.1L1265.9 1187.0L1267.1 1186.9L1268.3 1186.9L1269.6 1186.8L1270.8 1186.7L1272.0 1186.6L1273.2 1186.5L1274.5 1186.4L1275.7 1186.3L1276.9 1186.2L1278.1 1186.1L1279.4 1186.0L1280.6 1186.0L1281.8 1185.9L1283.0 1185.8L1284.3 1185.7L1285.5 1185.6L1286.7 1185.5L1287.9 1185.4L1289.2 1185.3L1290.4 1185.2L1291.6 1185.1L1292.9 1185.1L1294.1 1185.0L1295.3 1184.9L1296.5 1184.8L1297.8 1184.7L1299.0 1184.6L1300.2 1184.5L1301.5 1184.5L1302.7 1184.4L1303.9 1184.3L1305.2 1184.2L1306.4 1184.1L1307.7 1184.0L1308.9 1184.0L1310.1 1183.9L1311.4 1183.8L1312.6 1183.7L1313.9 1183.7L1315.1 1183.6L1316.3 1183.5L1317.6 1183.4L1318.8 1183.3L1320.1 1183.3L1321.3 1183.2L1322.6 1183.1L1323.8 1183.0L1325.0 1182.9L1326.3 1182.9L1327.5 1182.8L1328.8 1182.7L1330.0 1182.6L1331.3 1182.5L1332.5 1182.4L1333.8 1182.4L1335.0 1182.3L1336.3 1182.2L1337.5 1182.1L1338.7 1182.0L1340.0 1181.9L1341.2 1181.8L1342.5 1181.7L1343.7 1181.6L1345.0 1181.4L1346.2 1181.3L1347.4 1181.2L1348.7 1181.1L1349.9 1181.0L1351.2 1180.8L1352.4 1180.7L1353.6 1180.6L1354.9 1180.4L1356.1 1180.3L1357.3 1180.1L1358.6 1180.0L1359.8 1179.8L1361.0 1179.6L1362.3 1179.5L1363.5 1179.3L1364.7 1179.1L1366.0 1178.9L1367.2 1178.7L1368.4 1178.5L1369.6 1178.3L1370.8 1178.1L1372.1 1177.9L1373.3 1177.7L1374.5 1177.4L1375.7 1177.2L1376.9 1177.0L1378.1 1176.7L1379.3 1176.4L1380.5 1176.2L1381.8 1175.9L1383.0 1175.6L1384.2 1175.3L1385.4 1175.1L1386.5 1174.7L1387.7 1174.4L1388.9 1174.1L1390.1 1173.8L1391.3 1173.5L1392.5 1173.1L1393.7 1172.8L1394.9 1172.4L1396.0 1172.0L1397.2 1171.6L1398.4 1171.3L1399.5 1170.9L1400.7 1170.4L1401.9 1170.0L1403.0 1169.6L1404.2 1169.2L1405.3 1168.7L1406.5 1168.3L1407.6 1167.8L1408.8 1167.3L1409.9 1166.8L1411.0 1166.3L1412.2 1165.8L1413.3 1165.3L1414.4 1164.8L1415.5 1164.3L1416.6 1163.7L1417.7 1163.2L1418.8 1162.6L1419.9 1162.1L1421.0 1161.5L1422.1 1160.9L1423.2 1160.3L1424.2 1159.7L1425.3 1159.1L1426.3 1158.4L1427.4 1157.8L1428.4 1157.2L1429.5 1156.5L1430.5 1155.8L1431.5 1155.2L1432.5 1154.5L1433.5 1153.8L1434.5 1153.1L1435.5 1152.4L1436.5 1151.7L1437.5 1150.9L1438.4 1150.2L1439.4 1149.4L1440.3 1148.7L1441.3 1147.9L1442.2 1147.1L1443.1 1146.3L1444.0 1145.5L1444.9 1144.7L1445.8 1143.9L1446.7 1143.1L1447.6 1142.2L1448.4 1141.4L1449.3 1140.5L1450.1 1139.7L1451.0 1138.8L1451.8 1137.9L1452.6 1137.0L1453.4 1136.1L1454.2 1135.2L1454.9 1134.2L1455.7 1133.3L1456.5 1132.4L1457.2 1131.4L1457.9 1130.4L1458.7 1129.5L1459.4 1128.5L1460.1 1127.5L1460.8 1126.5L1461.5 1125.5L1462.1 1124.5L1462.8 1123.5L1463.4 1122.4L1464.1 1121.4L1464.7 1120.4L1465.4 1119.3L1466.0 1118.2L1466.6 1117.2L1467.2 1116.1L1467.8 1115.0L1468.4 1113.9L1468.9 1112.8L1469.5 1111.7L1470.1 1110.6L1470.6 1109.5L1471.2 1108.4L1471.7 1107.3L1472.2 1106.2L1472.7 1105.0L1473.3 1103.9L1473.8 1102.8L1474.3 1101.6L1474.8 1100.5L1475.3 1099.3L1475.7 1098.2L1476.2 1097.0L1476.7 1095.8L1477.2 1094.7L1477.6 1093.5L1478.1 1092.3L1478.5 1091.1L1479.0 1089.9L1479.4 1088.8L1479.8 1087.6L1480.3 1086.4L1480.7 1085.2L1481.1 1084.0L1481.5 1082.8L1481.9 1081.6L1482.3 1080.4L1482.7 1079.2L1483.1 1078.0L1483.5 1076.8L1483.9 1075.6L1484.3 1074.4L1484.7 1073.2L1485.0 1072.0L1485.4 1070.7L1485.8 1069.5L1486.2 1068.3L1486.5 1067.1L1486.9 1065.9L1487.2 1064.7L1487.6 1063.5L1488.0 1062.3L1488.3 1061.1L1488.7 1059.9L1489.0 1058.6L1489.4 1057.4L1489.7 1056.2L1490.1 1055.0L1490.4 1053.8L1490.7 1052.6L1491.1 1051.4L1491.4 1050.2L1491.7 1049.0L1492.1 1047.8L1492.4 1046.6L1492.7 1045.4L1493.0 1044.2L1493.4 1043.0L1493.7 1041.8L1494.0 1040.6L1494.3 1039.4L1494.6 1038.2L1494.9 1037.0L1495.3 1035.8L1495.6 1034.6L1495.9 1033.4L1496.2 1032.2L1496.5 1031.0L1496.8 1029.8L1497.1 1028.6L1497.4 1027.4L1497.7 1026.2L1498.0 1025.0L1498.3 1023.8L1498.6 1022.6L1498.8 1021.4L1499.1 1020.2L1499.4 1019.0L1499.7 1017.8L1500.0 1016.6L1500.3 1015.4L1500.5 1014.2L1500.8 1013.0L1501.1 1011.8L1501.4 1010.6L1501.6 1009.4L1501.9 1008.2L1502.2 1007.0L1502.5 1005.8L1502.7 1004.6L1503.0 1003.4L1503.3 1002.2L1503.5 1001.0L1503.8 999.8L1504.0 998.6L1504.3 997.4L1504.6 996.2L1504.8 995.0L1505.1 993.8L1505.3 992.7L1505.6 991.5L1505.8 990.3L1506.1 989.1L1506.3 987.9L1506.6 986.7L1506.8 985.5L1507.1 984.3L1507.3 983.1L1507.6 981.9L1507.8 980.7L1508.1 979.5L1508.3 978.3L1508.5 977.1L1508.8 975.9L1509.0 974.7L1509.2 973.5L1509.5 972.3L1509.7 971.1L1510.0 969.9L1510.2 968.7L1510.4 967.5L1510.7 966.3L1510.9 965.1L1511.1 963.8L1511.4 962.6L1511.6 961.4L1511.8 960.2L1512.0 959.0L1512.3 957.8L1512.5 956.6L1512.7 955.4L1512.9 954.2L1513.2 953.0L1513.4 951.8L1513.6 950.6L1513.8 949.4L1514.1 948.2L1514.3 947.0L1514.5 945.8L1514.7 944.6L1514.9 943.4L1515.1 942.1L1515.4 940.9L1515.6 939.7L1515.8 938.5L1516.0 937.3L1516.2 936.1L1516.4 934.9L1516.6 933.7L1516.9 932.5L1517.1 931.3L1517.3 930.1L1517.5 928.8L1517.7 927.6L1517.9 926.4L1518.1 925.2L1518.3 924.0L1518.5 922.8L1518.7 921.6L1518.9 920.4L1519.1 919.2L1519.3 917.9L1519.5 916.7L1519.7 915.5L1519.9 914.3L1520.1 913.1L1520.3 911.9L1520.5 910.7L1520.7 909.4L1520.9 908.2L1521.1 907.0L1521.3 905.8L1521.5 904.6L1521.7 903.4L1521.9 902.2L1522.1 900.9L1522.3 899.7L1522.5 898.5L1522.7 897.3L1522.9 896.1L1523.1 894.9L1523.3 893.6L1523.4 892.4L1523.6 891.2L1523.8 890.0L1524.0 888.8L1524.2 887.5L1524.4 886.3L1524.6 885.1L1524.8 883.9L1524.9 882.7L1525.1 881.5L1525.3 880.2L1525.5 879.0L1525.7 877.8L1525.9 876.6L1526.0 875.4L1526.2 874.1L1526.4 872.9L1526.6 871.7L1526.8 870.5L1526.9 869.3L1527.1 868.0L1527.3 866.8L1527.5 865.6L1527.7 864.4L1527.8 863.2L1528.0 861.9L1528.2 860.7L1528.4 859.5L1528.5 858.3L1528.7 857.0L1528.9 855.8L1529.1 854.6L1529.2 853.4L1529.4 852.2L1529.6 850.9L1529.7 849.7L1529.9 848.5L1530.1 847.3L1530.3 846.0L1530.4 844.8L1530.6 843.6L1530.8 842.4L1530.9 841.1L1531.1 839.9L1531.3 838.7L1531.4 837.5L1531.6 836.2L1531.8 835.0L1531.9 833.8L1532.1 832.6L1532.3 831.3L1532.4 830.1L1532.6 828.9L1532.8 827.7L1532.9 826.4L1533.1 825.2L1533.2 824.0L1533.4 822.8L1533.6 821.5L1533.7 820.3L1533.9 819.1L1534.0 817.9L1534.2 816.6L1534.4 815.4L1534.5 814.2L1534.7 813.0L1534.8 811.7L1535.0 810.5L1535.2 809.3L1535.3 808.0L1535.5 806.8L1535.6 805.6L1535.8 804.4L1535.9 803.1L1536.1 801.9L1536.3 800.7L1536.4 799.5L1536.6 798.2L1536.7 797.0L1536.9 795.8L1537.0 794.5L1537.2 793.3L1537.3 792.1L1537.5 790.9L1537.7 789.6L1537.8 788.4L1538.0 787.2L1538.1 785.9L1538.3 784.7L1538.4 783.5L1538.6 782.3L1538.7 781.0L1538.9 779.8L1539.0 778.6L1539.2 777.3L1539.3 776.1L1539.5 774.9L1539.6 773.7L1539.8 772.4L1539.9 771.2L1540.1 770.0L1540.2 768.7L1540.4 767.5L1540.5 766.3L1540.7 765.1L1540.8 763.8L1541.0 762.6L1541.1 761.4L1541.3 760.1L1541.4 758.9L1541.5 757.7L1541.7 756.5L1541.8 755.2L1542.0 754.0L1542.1 752.8L1542.3 751.5L1542.4 750.3L1542.6 749.1L1542.7 747.9L1542.9 746.6L1543.0 745.4L1543.2 744.2L1543.3 742.9L1543.4 741.7L1543.6 740.5L1543.7 739.2L1543.9 738.0L1544.0 736.8L1544.2 735.6L1544.3 734.3L1544.5 733.1L1544.6 731.9L1544.7 730.6L1544.9 729.4L1545.0 728.2L1545.2 727.0L1545.3 725.7L1545.5 724.5L1545.6 723.3L1545.8 722.0L1545.9 720.8L1546.0 719.6L1546.2 718.4L1546.3 717.1L1546.5 715.9L1546.6 714.7L1546.8 713.4L1546.9 712.2L1547.0 711.0L1547.2 709.8L1547.3 708.5L1547.5 707.3L1547.6 706.1L1547.8 704.8L1547.9 703.6L1548.0 702.4L1548.2 701.2L1548.3 699.9L1548.5 698.7L1548.6 697.5L1548.8 696.2L1548.9 695.0L1549.0 693.8L1549.2 692.6L1549.3 691.3L1549.5 690.1L1549.6 688.9L1549.8 687.6L1549.9 686.4L1550.0 685.2L1550.2 684.0L1550.3 682.7L1550.5 681.5L1550.6 680.3L1550.8 679.1L1550.9 677.8L1551.0 676.6L1551.2 675.4L1551.3 674.1L1551.5 672.9L1551.6 671.7L1551.8 670.5L1551.9 669.2L1552.0 668.0L1552.2 666.8L1552.3 665.6L1552.5 664.3L1552.6 663.1L1552.8 661.9L1552.9 660.6L1553.1 659.4L1553.2 658.2L1553.3 657.0L1553.5 655.7L1553.6 654.5L1553.8 653.3L1553.9 652.1L1554.1 650.8L1554.2 649.6L1554.4 648.4L1554.5 647.2L1554.7 645.9L1554.8 644.7L1554.9 643.5L1555.1 642.3L1555.2 641.0L1555.4 639.8L1555.5 638.6L1555.7 637.4L1555.8 636.1L1556.0 634.9L1556.1 633.7L1556.3 632.5L1556.4 631.2L1556.6 630.0L1556.7 628.8L1556.9 627.6L1557.0 626.3L1557.2 625.1L1557.3 623.9L1557.5 622.7L1557.6 621.4L1557.8 620.2L1557.9 619.0L1558.1 617.8L1558.2 616.5L1558.4 615.3L1558.5 614.1L1558.7 612.9L1558.8 611.6L1559.0 610.4L1559.1 609.2L1559.3 608.0L1559.4 606.8L1559.6 605.5L1559.7 604.3L1559.9 603.1L1560.0 601.9L1560.2 600.6L1560.4 599.4L1560.5 598.2L1560.7 597.0L1560.8 595.7L1561.0 594.5L1561.1 593.3L1561.3 592.1L1561.4 590.9L1561.6 589.6L1561.8 588.4L1561.9 587.2L1562.1 586.0L1562.2 584.7L1562.4 583.5L1562.6 582.3L1562.7 581.1L1562.9 579.9L1563.0 578.6L1563.2 577.4L1563.4 576.2L1563.5 575.0L1563.7 573.7L1563.8 572.5L1564.0 571.3L1564.2 570.1L1564.3 568.9L1564.5 567.6L1564.7 566.4L1564.8 565.2L1565.0 564.0L1565.1 562.8L1565.3 561.5L1565.5 560.3L1565.6 559.1L1565.8 557.9L1566.0 556.7L1566.1 555.4L1566.3 554.2L1566.5 553.0L1566.7 551.8L1566.8 550.6L1567.0 549.3L1567.2 548.1L1567.3 546.9L1567.5 545.7L1567.7 544.5L1567.9 543.2L1568.0 542.0L1568.2 540.8L1568.4 539.6L1568.5 538.4L1568.7 537.1L1568.9 535.9L1569.1 534.7L1569.3 533.5L1569.4 532.3L1569.6 531.0L1569.8 529.8L1570.0 528.6L1570.1 527.4L1570.3 526.2L1570.5 524.9L1570.7 523.7L1570.9 522.5L1571.0 521.3L1571.2 520.1L1571.4 518.9L1571.6 517.6L1571.8 516.4L1572.0 515.2L1572.1 514.0L1572.3 512.8L1572.5 511.5L1572.7 510.3L1572.9 509.1L1573.1 507.9L1573.3 506.7L1573.5 505.5L1573.6 504.2L1573.8 503.0L1574.0 501.8L1574.2 500.6L1574.4 499.4L1574.6 498.2L1574.8 496.9L1575.0 495.7L1575.2 494.5L1575.4 493.3L1575.6 492.1L1575.8 490.9L1576.0 489.6L1576.2 488.4L1576.4 487.2L1576.6 486.0L1576.8 484.8L1577.0 483.6L1577.2 482.3L1577.4 481.1L1577.6 479.9L1577.8 478.7L1578.0 477.5L1578.2 476.3L1578.4 475.1L1578.6 473.8L1578.8 472.6L1579.0 471.4L1579.2 470.2L1579.4 469.0L1579.6 467.8L1579.8 466.5L1580.0 465.3L1580.3 464.1L1580.5 462.9L1580.7 461.7L1580.9 460.5L1581.1 459.3L1581.3 458.0L1581.5 456.8L1581.8 455.6L1582.0 454.4L1582.2 453.2L1582.4 452.0L1582.6 450.8L1582.8 449.6L1583.1 448.3L1583.3 447.1L1583.5 445.9L1583.7 444.7L1584.0 443.5L1584.2 442.3L1584.4 441.1L1584.6 439.8L1584.9 438.6L1585.1 437.4L1585.3 436.2L1585.5 435.0L1585.8 433.8L1586.0 432.6L1586.2 431.4L1586.5 430.1L1586.7 428.9L1586.9 427.7L1587.2 426.5L1587.4 425.3L1587.6 424.1L1587.9 422.9L1588.1 421.7L1588.4 420.5L1588.6 419.2L1588.8 418.0L1589.1 416.8L1589.3 415.6L1589.6 414.4L1589.8 413.2L1590.1 412.0L1590.3 410.8L1590.6 409.6L1590.8 408.3L1591.1 407.1L1591.3 405.9L1591.6 404.7L1591.8 403.5L1592.1 402.3L1592.3 401.1L1592.6 399.9L1592.8 398.7L1593.1 397.5L1593.3 396.2L1593.6 395.0L1593.9 393.8L1594.1 392.6L1594.4 391.4L1594.6 390.2L1594.9 389.0L1595.2 387.8L1595.4 386.6L1595.7 385.4L1596.0 384.2L1596.2 382.9L1596.5 381.7L1596.8 380.5L1597.0 379.3L1597.3 378.1L1597.6 376.9L1597.9 375.7L1598.1 374.5L1598.4 373.3L1598.7 372.1L1599.0 370.9L1599.2 369.7L1599.5 368.4L1599.8 367.2L1600.1 366.0L1600.4 364.8L1600.7 363.6L1600.9 362.4L1601.2 361.2L1601.5 360.0L1601.8 358.8L1602.1 357.6L1602.4 356.4L1602.7 355.2L1603.0 354.0L1603.3 352.8L1603.6 351.6L1603.9 350.4L1604.2 349.2L1604.5 348.0L1604.8 346.8L1605.2 345.6L1605.5 344.4L1605.8 343.2L1606.1 342.0L1606.5 340.8L1606.8 339.6L1607.1 338.4L1607.5 337.2L1607.8 336.0L1608.1 334.9L1608.5 333.7L1608.8 332.5L1609.2 331.3L1609.6 330.1L1609.9 328.9L1610.3 327.8L1610.7 326.6L1611.0 325.4L1611.4 324.2L1611.8 323.0L1612.2 321.9L1612.6 320.7L1613.0 319.5L1613.4 318.4L1613.8 317.2L1614.2 316.0L1614.6 314.9L1615.0 313.7L1615.4 312.5L1615.8 311.4L1616.3 310.2L1616.7 309.1L1617.2 307.9L1617.6 306.8L1618.1 305.6L1618.5 304.5L1619.0 303.3L1619.4 302.2L1619.9 301.1L1620.4 299.9L1620.9 298.8L1621.4 297.7L1621.9 296.5L1622.4 295.4L1622.9 294.3L1623.4 293.1L1623.9 292.0L1624.4 290.9L1625.0 289.8L1625.5 288.7L1626.1 287.6L1626.6 286.5L1627.2 285.4L1627.7 284.3L1628.3 283.2L1628.9 282.1L1629.5 281.0L1630.1 279.9L1630.7 278.8L1631.3 277.7L1631.9 276.6L1632.5 275.5L1633.2 274.5L1633.8 273.4L1634.4 272.3L1635.1 271.3L1635.8 270.2L1636.4 269.1L1637.1 268.1L1637.8 267.0L1638.5 266.0L1639.2 265.0L1639.9 263.9L1640.6 262.9L1641.3 261.9L1642.1 260.9L1642.8 259.9L1643.6 258.9L1644.3 257.9L1645.1 257.0L1645.9 256.0L1646.7 255.1L1647.5 254.1L1648.3 253.2L1649.1 252.3L1649.9 251.4L1650.8 250.5L1651.6 249.6L1652.5 248.7L1653.4 247.9L1654.3 247.0L1655.2 246.2L1656.1 245.4L1657.0 244.6L1657.9 243.8L1658.8 243.1L1659.8 242.3L1660.7 241.6L1661.7 240.9L1662.7 240.1L1663.7 239.5L1664.7 238.8L1665.7 238.1L1666.7 237.5L1667.7 236.8L1668.8 236.2L1669.8 235.6L1670.8 235.0L1671.9 234.4L1673.0 233.8L1674.0 233.2L1675.1 232.7L1676.2 232.1L1677.3 231.6L1678.4 231.1L1679.5 230.6L1680.6 230.1L1681.8 229.6L1682.9 229.1L1684.0 228.6L1685.2 228.2L1686.3 227.7L1687.5 227.3L1688.6 226.9L1689.8 226.4L1690.9 226.0L1692.1 225.6L1693.3 225.2L1694.5 224.8L1695.6 224.4L1696.8 224.1L1698.0 223.7L1699.2 223.3L1700.4 223.0L1701.6 222.6L1702.8 222.3L1704.0 222.0L1705.2 221.7L1706.4 221.3L1707.6 221.0L1708.8 220.7L1710.0 220.4L1711.2 220.1L1712.4 219.8L1713.7 219.5L1714.9 219.2L1716.1 219.0L1717.3 218.7L1718.5 218.4L1719.7 218.2L1721.0 217.9L1722.2 217.6L1723.4 217.4L1724.6 217.1L1725.8 216.9L1727.0 216.7L1728.3 216.4L1729.5 216.2L1730.7 216.0L1731.9 215.7L1733.1 215.5L1734.4 215.3L1735.6 215.1L1736.8 214.9L1738.0 214.7L1739.2 214.5L1740.5 214.3L1741.7 214.1L1742.9 213.9L1744.1 213.7L1745.3 213.5L1746.6 213.3L1747.8 213.1L1749.0 213.0L1750.2 212.8L1751.5 212.6L1752.7 212.5L1753.9 212.3L1755.1 212.1L1756.4 212.0L1757.6 211.8L1758.8 211.7L1760.0 211.5L1761.3 211.4L1762.5 211.2L1763.7 211.1L1764.9 211.0L1766.2 210.8L1767.4 210.7L1768.6 210.6L1769.9 210.5L1771.1 210.3L1772.3 210.2L1773.5 210.1L1774.8 210.0L1776.0 209.9L1777.2 209.8L1778.5 209.6L1779.7 209.5L1780.9 209.4L1782.1 209.3L1783.4 209.2L1784.6 209.1L1785.8 209.0L1787.1 209.0L1788.3 208.9L1789.5 208.8L1790.8 208.7L1792.0 208.6L1793.2 208.5L1794.4 208.4L1795.7 208.4L1796.9 208.3L1798.1 208.2L1799.4 208.1L1800.6 208.1L1801.8 208.0L1803.1 207.9L1804.3 207.8L1805.5 207.8L1806.8 207.7L1808.0 207.7L1809.2 207.6L1810.5 207.5L1811.7 207.5L1812.9 207.4L1814.2 207.4L1815.4 207.3L1816.6 207.2L1817.9 207.2L1819.1 207.1L1820.3 207.1L1821.6 207.0L1822.8 207.0L1824.0 206.9L1825.3 206.9L1826.5 206.8L1827.7 206.8L1829.0 206.7L1830.2 206.7L1831.4 206.6L1832.7 206.6L1833.9 206.6L1835.1 206.5L1836.4 206.5L1837.6 206.4L1838.8 206.4L1840.1 206.3L1841.3 206.3L1842.5 206.3L1843.8 206.2L1845.0 206.2L1846.3 206.1L1847.5 206.1L1848.7 206.1L1850.0 206.0L1851.2 206.0L1852.4 205.9L1853.7 205.9L1854.9 205.8L1856.1 205.8L1857.4 205.8L1858.6 205.7L1859.8 205.7L1861.1 205.6L1862.3 205.6L1863.5 205.5L1864.8 205.5L1866.0 205.5L1867.2 205.4L1868.5 205.4L1869.7 205.3L1870.9 205.3L1872.2 205.2L1873.4 205.2L1874.6 205.1L1875.9 205.1L1877.1 205.0L1878.3 205.0L1879.6 204.9L1880.8 204.9L1882.0 204.8L1883.3 204.7L1884.5 204.7L1885.7 204.6L1887.0 204.6L1888.2 204.5L1889.4 204.4L1890.7 204.4L1891.9 204.3L1893.1 204.3L1894.4 204.2L1895.6 204.1L1896.8 204.0L1898.1 204.0L1899.3 203.9L1900.5 203.8L1901.8 203.7L1903.0 203.7L1904.2 203.6L1905.4 203.5L1906.7 203.4L1907.9 203.3L1909.1 203.2L1910.4 203.1L1911.6 203.1L1912.8 203.0L1914.1 202.9L1915.3 202.8L1916.5 202.7L1917.7 202.6L1919.0 202.5" fill="none" stroke="#f00" stroke-width="10" stroke-linejoin="round"/>
<path d="M1178.5 1190.8L1179.7 1190.7L1180.9 1190.7L1182.1 1190.6L1183.4 1190.5L1184.6 1190.5L1185.8 1190.4L1187.0 1190.4L1188.3 1190.3L1189.5 1190.3L1190.7 1190.2L1191.9 1190.1L1193.1 1190.1L1194.4 1190.0L1195.6 1190.0L1196.8 1189.9L1198.0 1189.9L1199.2 1189.8L1200.4 1189.8L1201.7 1189.7L1202.9 1189.7L1204.1 1189.6L1205.3 1189.6L1206.5 1189.5L1207.7 1189.5L1208.9 1189.4L1210.2 1189.4L1211.4 1189.3L1212.6 1189.3L1213.8 1189.2L1215.0 1189.2L1216.2 1189.1L1217.4 1189.1L1218.6 1189.0L1219.8 1189.0L1221.0 1188.9L1222.3 1188.9L1223.5 1188.8L1224.7 1188.8L1225.9 1188.7L1227.1 1188.7L1228.3 1188.6L1229.5 1188.6L1230.7 1188.5L1231.9 1188.5L1233.1 1188.4L1234.3 1188.4L1235.5 1188.4L1236.7 1188.3L1237.9 1188.2L1239.1 1188.2L1240.3 1188.1L1241.5 1188.1L1242.7 1188.0L1243.9 1188.0L1245.1 1187.9L1246.4 1187.9L1247.6 1187.8L1248.8 1187.8L1250.0 1187.7L1251.2 1187.7L1252.4 1187.6L1253.6 1187.6L1254.8 1187.5L1256.0 1187.4L1257.2 1187.4L1258.4 1187.3L1259.6 1187.3L1260.8 1187.2L1262.0 1187.2L1263.2 1187.1L1264.4 1187.0L1265.6 1187.0L1266.8 1186.9L1268.0 1186.8L1269.2 1186.8L1270.4 1186.7L1271.6 1186.6L1272.8 1186.6L1274.0 1186.5L1275.2 1186.4L1276.4 1186.4L1277.6 1186.3L1278.8 1186.2L1280.0 1186.2L1281.2 1186.1L1282.4 1186.0L1283.6 1185.9L1284.9 1185.9L1286.1 1185.8L1287.3 1185.7L1288.5 1185.6L1289.7 1185.5L1290.9 1185.5L1292.1 1185.4L1293.3 1185.3L1294.5 1185.2L1295.7 1185.1L1296.9 1185.0L1298.1 1184.9L1299.3 1184.9L1300.6 1184.8L1301.8 1184.7L1303.0 1184.6L1304.2 1184.5L1305.4 1184.4L1306.6 1184.3L1307.8 1184.2L1309.0 1184.1L1310.2 1184.0L1311.5 1183.9L1312.7 1183.8L1313.9 1183.7L1315.1 1183.5L1316.3 1183.4L1317.5 1183.3L1318.8 1183.2L1320.0 1183.1L1321.2 1183.0L1322.4 1182.8L1323.6 1182.7L1324.8 1182.6L1326.1 1182.4L1327.3 1182.3L1328.5 1182.2L1329.7 1182.0L1330.9 1181.9L1332.1 1181.7L1333.4 1181.6L1334.6 1181.4L1335.8 1181.3L1337.0 1181.1L1338.2 1180.9L1339.4 1180.8L1340.6 1180.6L1341.8 1180.4L1343.0 1180.2L1344.3 1180.0L1345.5 1179.8L1346.7 1179.6L1347.9 1179.4L1349.1 1179.2L1350.3 1179.0L1351.5 1178.8L1352.7 1178.6L1353.9 1178.3L1355.1 1178.1L1356.3 1177.8L1357.5 1177.6L1358.7 1177.3L1359.9 1177.1L1361.1 1176.8L1362.3 1176.5L1363.4 1176.3L1364.6 1176.0L1365.8 1175.7L1367.0 1175.4L1368.2 1175.1L1369.4 1174.7L1370.5 1174.4L1371.7 1174.1L1372.9 1173.8L1374.1 1173.4L1375.2 1173.1L1376.4 1172.7L1377.6 1172.3L1378.7 1172.0L1379.9 1171.6L1381.0 1171.2L1382.2 1170.8L1383.3 1170.4L1384.5 1170.0L1385.6 1169.5L1386.8 1169.1L1387.9 1168.7L1389.1 1168.2L1390.2 1167.7L1391.3 1167.3L1392.5 1166.8L1393.6 1166.3L1394.7 1165.8L1395.8 1165.3L1396.9 1164.8L1398.0 1164.3L1399.1 1163.7L1400.2 1163.2L1401.3 1162.6L1402.4 1162.1L1403.5 1161.5L1404.5 1160.9L1405.6 1160.4L1406.7 1159.8L1407.7 1159.2L1408.8 1158.5L1409.8 1157.9L1410.8 1157.3L1411.9 1156.6L1412.9 1156.0L1413.9 1155.3L1414.9 1154.7L1415.9 1154.0L1416.9 1153.3L1417.9 1152.6L1418.8 1151.9L1419.8 1151.2L1420.8 1150.4L1421.7 1149.7L1422.6 1148.9L1423.6 1148.2L1424.5 1147.4L1425.4 1146.6L1426.3 1145.8L1427.2 1145.1L1428.1 1144.2L1428.9 1143.4L1429.8 1142.6L1430.6 1141.8L1431.5 1140.9L1432.3 1140.0L1433.1 1139.2L1433.9 1138.3L1434.7 1137.4L1435.5 1136.5L1436.3 1135.6L1437.0 1134.7L1437.8 1133.8L1438.5 1132.8L1439.3 1131.9L1440.0 1130.9L1440.7 1130.0L1441.4 1129.0L1442.1 1128.0L1442.8 1127.0L1443.5 1126.0L1444.1 1125.1L1444.8 1124.0L1445.5 1123.0L1446.1 1122.0L1446.7 1121.0L1447.4 1120.0L1448.0 1118.9L1448.6 1117.9L1449.2 1116.9L1449.8 1115.8L1450.4 1114.8L1451.0 1113.7L1451.6 1112.6L1452.2 1111.6L1452.8 1110.5L1453.4 1109.4L1453.9 1108.4L1454.5 1107.3L1455.1 1106.2L1455.6 1105.1L1456.2 1104.0L1456.7 1103.0L1457.3 1101.9L1457.8 1100.8L1458.4 1099.7L1458.9 1098.6L1459.4 1097.5L1459.9 1096.4L1460.5 1095.3L1461.0 1094.2L1461.5 1093.1L1462.0 1092.0L1462.5 1090.9L1463.1 1089.8L1463.6 1088.7L1464.1 1087.6L1464.6 1086.5L1465.1 1085.4L1465.6 1084.3L1466.1 1083.2L1466.5 1082.1L1467.0 1081.0L1467.5 1079.9L1468.0 1078.8L1468.5 1077.6L1469.0 1076.5L1469.4 1075.4L1469.9 1074.3L1470.4 1073.2L1470.8 1072.1L1471.3 1070.9L1471.7 1069.8L1472.2 1068.7L1472.7 1067.6L1473.1 1066.4L1473.6 1065.3L1474.0 1064.2L1474.4 1063.1L1474.9 1061.9L1475.3 1060.8L1475.7 1059.7L1476.2 1058.6L1476.6 1057.4L1477.0 1056.3L1477.5 1055.2L1477.9 1054.0L1478.3 1052.9L1478.7 1051.8L1479.1 1050.6L1479.5 1049.5L1479.9 1048.3L1480.4 1047.2L1480.8 1046.1L1481.2 1044.9L1481.6 1043.8L1482.0 1042.6L1482.3 1041.5L1482.7 1040.3L1483.1 1039.2L1483.5 1038.0L1483.9 1036.9L1484.3 1035.7L1484.7 1034.6L1485.0 1033.4L1485.4 1032.3L1485.8 1031.1L1486.2 1030.0L1486.5 1028.8L1486.9 1027.7L1487.3 1026.5L1487.6 1025.4L1488.0 1024.2L1488.3 1023.1L1488.7 1021.9L1489.0 1020.7L1489.4 1019.6L1489.7 1018.4L1490.1 1017.3L1490.4 1016.1L1490.8 1014.9L1491.1 1013.8L1491.5 1012.6L1491.8 1011.4L1492.1 1010.3L1492.5 1009.1L1492.8 1007.9L1493.1 1006.8L1493.5 1005.6L1493.8 1004.4L1494.1 1003.3L1494.4 1002.1L1494.7 1000.9L1495.1 999.8L1495.4 998.6L1495.7 997.4L1496.0 996.2L1496.3 995.1L1496.6 993.9L1496.9 992.7L1497.2 991.6L1497.5 990.4L1497.8 989.2L1498.1 988.0L1498.4 986.8L1498.7 985.7L1499.0 984.5L1499.3 983.3L1499.6 982.1L1499.9 980.9L1500.2 979.8L1500.5 978.6L1500.8 977.4L1501.0 976.2L1501.3 975.0L1501.6 973.9L1501.9 972.7L1502.2 971.5L1502.4 970.3L1502.7 969.1L1503.0 967.9L1503.3 966.8L1503.5 965.6L1503.8 964.4L1504.1 963.2L1504.3 962.0L1504.6 960.8L1504.9 959.6L1505.1 958.4L1505.4 957.3L1505.6 956.1L1505.9 954.9L1506.2 953.7L1506.4 952.5L1506.7 951.3L1506.9 950.1L1507.2 948.9L1507.4 947.7L1507.7 946.5L1507.9 945.3L1508.2 944.2L1508.4 943.0L1508.7 941.8L1508.9 940.6L1509.1 939.4L1509.4 938.2L1509.6 937.0L1509.9 935.8L1510.1 934.6L1510.3 933.4L1510.6 932.2L1510.8 931.0L1511.0 929.8L1511.3 928.6L1511.5 927.4L1511.7 926.2L1512.0 925.0L1512.2 923.8L1512.4 922.6L1512.6 921.4L1512.9 920.2L1513.1 919.0L1513.3 917.9L1513.6 916.7L1513.8 915.5L1514.0 914.3L1514.2 913.1L1514.4 911.9L1514.7 910.7L1514.9 909.5L1515.1 908.3L1515.3 907.1L1515.5 905.9L1515.8 904.7L1516.0 903.5L1516.2 902.3L1516.4 901.1L1516.6 899.9L1516.8 898.7L1517.0 897.5L1517.3 896.3L1517.5 895.1L1517.7 893.9L1517.9 892.7L1518.1 891.5L1518.3 890.3L1518.5 889.1L1518.7 887.9L1518.9 886.7L1519.1 885.5L1519.4 884.3L1519.6 883.1L1519.8 881.9L1520.0 880.7L1520.2 879.5L1520.4 878.3L1520.6 877.1L1520.8 875.9L1521.0 874.7L1521.2 873.5L1521.4 872.3L1521.6 871.1L1521.8 869.9L1522.0 868.7L1522.2 867.5L1522.4 866.3L1522.6 865.1L1522.8 863.9L1523.0 862.7L1523.2 861.5L1523.4 860.3L1523.6 859.1L1523.8 857.9L1524.0 856.7L1524.2 855.5L1524.4 854.3L1524.6 853.1L1524.8 852.0L1525.0 850.8L1525.2 849.6L1525.4 848.4L1525.6 847.2L1525.8 846.0L1526.0 844.8L1526.2 843.6L1526.4 842.4L1526.6 841.2L1526.8 840.0L1527.0 838.8L1527.2 837.6L1527.4 836.4L1527.6 835.2L1527.8 834.0L1528.0 832.8L1528.2 831.6L1528.4 830.4L1528.6 829.2L1528.8 828.0L1529.0 826.8L1529.2 825.6L1529.4 824.4L1529.6 823.3L1529.8 822.1L1529.9 820.9L1530.1 819.7L1530.3 818.5L1530.5 817.3L1530.7 816.1L1530.9 814.9L1531.1 813.7L1531.3 812.5L1531.5 811.3L1531.7 810.1L1531.9 808.9L1532.1 807.7L1532.2 806.5L1532.4 805.3L1532.6 804.1L1532.8 802.9L1533.0 801.7L1533.2 800.6L1533.4 799.4L1533.6 798.2L1533.8 797.0L1534.0 795.8L1534.1 794.6L1534.3 793.4L1534.5 792.2L1534.7 791.0L1534.9 789.8L1535.1 788.6L1535.3 787.4L1535.5 786.2L1535.6 785.0L1535.8 783.8L1536.0 782.6L1536.2 781.4L1536.4 780.2L1536.6 779.0L1536.8 777.9L1536.9 776.7L1537.1 775.5L1537.3 774.3L1537.5 773.1L1537.7 771.9L1537.9 770.7L1538.0 769.5L1538.2 768.3L1538.4 767.1L1538.6 765.9L1538.8 764.7L1539.0 763.5L1539.1 762.3L1539.3 761.1L1539.5 759.9L1539.7 758.7L1539.9 757.5L1540.1 756.3L1540.2 755.2L1540.4 754.0L1540.6 752.8L1540.8 751.6L1541.0 750.4L1541.1 749.2L1541.3 748.0L1541.5 746.8L1541.7 745.6L1541.9 744.4L1542.0 743.2L1542.2 742.0L1542.4 740.8L1542.6 739.6L1542.8 738.4L1542.9 737.2L1543.1 736.0L1543.3 734.8L1543.5 733.6L1543.7 732.4L1543.8 731.2L1544.0 730.0L1544.2 728.8L1544.4 727.7L1544.5 726.5L1544.7 725.3L1544.9 724.1L1545.1 722.9L1545.2 721.7L1545.4 720.5L1545.6 719.3L1545.8 718.1L1546.0 716.9L1546.1 715.7L1546.3 714.5L1546.5 713.3L1546.7 712.1L1546.8 710.9L1547.0 709.7L1547.2 708.5L1547.4 707.3L1547.5 706.1L1547.7 704.9L1547.9 703.7L1548.1 702.5L1548.2 701.3L1548.4 700.1L1548.6 698.9L1548.8 697.7L1548.9 696.5L1549.1 695.3L1549.3 694.1L1549.4 692.9L1549.6 691.7L1549.8 690.5L1550.0 689.3L1550.1 688.1L1550.3 686.9L1550.5 685.7L1550.7 684.5L1550.8 683.3L1551.0 682.1L1551.2 680.9L1551.3 679.7L1551.5 678.5L1551.7 677.3L1551.9 676.1L1552.0 674.9L1552.2 673.7L1552.4 672.5L1552.5 671.3L1552.7 670.1L1552.9 668.9L1553.1 667.7L1553.2 666.5L1553.4 665.3L1553.6 664.1L1553.8 662.9L1553.9 661.7L1554.1 660.5L1554.3 659.3L1554.4 658.1L1554.6 656.9L1554.8 655.7L1555.0 654.5L1555.1 653.3L1555.3 652.1L1555.5 650.9L1555.6 649.7L1555.8 648.5L1556.0 647.3L1556.2 646.1L1556.3 644.9L1556.5 643.7L1556.7 642.5L1556.9 641.3L1557.0 640.1L1557.2 638.9L1557.4 637.7L1557.5 636.5L1557.7 635.3L1557.9 634.1L1558.1 632.9L1558.2 631.7L1558.4 630.5L1558.6 629.3L1558.8 628.1L1558.9 626.9L1559.1 625.7L1559.3 624.5L1559.5 623.3L1559.6 622.1L1559.8 620.9L1560.0 619.7L1560.2 618.5L1560.3 617.3L1560.5 616.1L1560.7 614.9L1560.9 613.7L1561.1 612.5L1561.2 611.3L1561.4 610.1L1561.6 608.8L1561.8 607.6L1561.9 606.4L1562.1 605.2L1562.3 604.0L1562.5 602.8L1562.7 601.6L1562.8 600.4L1563.0 599.2L1563.2 598.0L1563.4 596.8L1563.6 595.6L1563.8 594.4L1563.9 593.2L1564.1 592.0L1564.3 590.8L1564.5 589.6L1564.7 588.4L1564.8 587.2L1565.0 586.0L1565.2 584.8L1565.4 583.6L1565.6 582.4L1565.8 581.2L1566.0 580.0L1566.1 578.8L1566.3 577.6L1566.5 576.4L1566.7 575.2L1566.9 574.0L1567.1 572.8L1567.3 571.6L1567.5 570.4L1567.7 569.2L1567.8 568.0L1568.0 566.8L1568.2 565.6L1568.4 564.4L1568.6 563.2L1568.8 562.0L1569.0 560.8L1569.2 559.6L1569.4 558.4L1569.6 557.2L1569.8 556.0L1570.0 554.8L1570.2 553.7L1570.4 552.5L1570.6 551.3L1570.8 550.1L1571.0 548.9L1571.2 547.7L1571.4 546.5L1571.6 545.3L1571.8 544.1L1572.0 542.9L1572.2 541.7L1572.4 540.5L1572.6 539.3L1572.8 538.1L1573.0 536.9L1573.2 535.7L1573.4 534.5L1573.6 533.3L1573.8 532.1L1574.0 530.9L1574.2 529.7L1574.4 528.5L1574.6 527.3L1574.8 526.1L1575.0 524.9L1575.2 523.7L1575.5 522.6L1575.7 521.4L1575.9 520.2L1576.1 519.0L1576.3 517.8L1576.5 516.6L1576.7 515.4L1577.0 514.2L1577.2 513.0L1577.4 511.8L1577.6 510.6L1577.8 509.4L1578.1 508.2L1578.3 507.0L1578.5 505.9L1578.7 504.7L1578.9 503.5L1579.2 502.3L1579.4 501.1L1579.6 499.9L1579.8 498.7L1580.1 497.5L1580.3 496.3L1580.5 495.1L1580.7 494.0L1581.0 492.8L1581.2 491.6L1581.4 490.4L1581.7 489.2L1581.9 488.0L1582.1 486.8L1582.4 485.6L1582.6 484.4L1582.8 483.3L1583.1 482.1L1583.3 480.9L1583.6 479.7L1583.8 478.5L1584.0 477.3L1584.3 476.1L1584.5 475.0L1584.8 473.8L1585.0 472.6L1585.3 471.4L1585.5 470.2L1585.7 469.0L1586.0 467.8L1586.2 466.7L1586.5 465.5L1586.7 464.3L1587.0 463.1L1587.2 461.9L1587.5 460.7L1587.7 459.6L1588.0 458.4L1588.3 457.2L1588.5 456.0L1588.8 454.8L1589.0 453.7L1589.3 452.5L1589.6 451.3L1589.8 450.1L1590.1 448.9L1590.3 447.8L1590.6 446.6L1590.9 445.4L1591.1 444.2L1591.4 443.0L1591.7 441.9L1592.0 440.7L1592.2 439.5L1592.5 438.3L1592.8 437.1L1593.0 436.0L1593.3 434.8L1593.6 433.6L1593.9 432.4L1594.2 431.3L1594.4 430.1L1594.7 428.9L1595.0 427.7L1595.3 426.6L1595.6 425.4L1595.9 424.2L1596.1 423.0L1596.4 421.9L1596.7 420.7L1597.0 419.5L1597.3 418.3L1597.6 417.2L1597.9 416.0L1598.2 414.8L1598.5 413.6L1598.8 412.5L1599.1 411.3L1599.4 410.1L1599.7 408.9L1600.0 407.8L1600.3 406.6L1600.6 405.4L1600.9 404.3L1601.2 403.1L1601.5 401.9L1601.8 400.7L1602.1 399.6L1602.4 398.4L1602.8 397.2L1603.1 396.1L1603.4 394.9L1603.7 393.7L1604.0 392.6L1604.4 391.4L1604.7 390.2L1605.0 389.1L1605.3 387.9L1605.7 386.7L1606.0 385.5L1606.3 384.4L1606.6 383.2L1607.0 382.0L1607.3 380.9L1607.6 379.7L1608.0 378.5L1608.3 377.4L1608.6 376.2L1609.0 375.0L1609.3 373.9L1609.7 372.7L1610.0 371.6L1610.4 370.4L1610.7 369.2L1611.1 368.1L1611.4 366.9L1611.8 365.7L1612.1 364.6L1612.5 363.4L1612.8 362.2L1613.2 361.1L1613.5 359.9L1613.9 358.8L1614.3 357.6L1614.6 356.4L1615.0 355.3L1615.4 354.1L1615.7 352.9L1616.1 351.8L1616.5 350.6L1616.8 349.5L1617.2 348.3L1617.6 347.1L1618.0 346.0L1618.4 344.8L1618.7 343.7L1619.1 342.5L1619.5 341.3L1619.9 340.2L1620.3 339.0L1620.7 337.9L1621.1 336.7L1621.4 335.5L1621.8 334.4L1622.2 333.2L1622.6 332.1L1623.0 330.9L1623.4 329.8L1623.8 328.6L1624.2 327.4L1624.6 326.3L1625.1 325.1L1625.5 324.0L1625.9 322.8L1626.3 321.7L1626.7 320.5L1627.1 319.4L1627.6 318.2L1628.0 317.1L1628.4 315.9L1628.8 314.8L1629.3 313.6L1629.7 312.5L1630.2 311.3L1630.6 310.2L1631.1 309.1L1631.5 307.9L1632.0 306.8L1632.5 305.7L1632.9 304.5L1633.4 303.4L1633.9 302.3L1634.4 301.2L1634.9 300.1L1635.4 299.0L1635.9 297.8L1636.4 296.7L1636.9 295.6L1637.4 294.5L1637.9 293.5L1638.5 292.4L1639.0 291.3L1639.6 290.2L1640.1 289.1L1640.7 288.1L1641.2 287.0L1641.8 285.9L1642.4 284.9L1643.0 283.8L1643.6 282.8L1644.2 281.7L1644.8 280.7L1645.4 279.7L1646.1 278.6L1646.7 277.6L1647.3 276.6L1648.0 275.6L1648.7 274.6L1649.3 273.6L1650.0 272.6L1650.7 271.6L1651.4 270.6L1652.1 269.7L1652.9 268.7L1653.6 267.7L1654.3 266.8L1655.1 265.8L1655.8 264.9L1656.6 264.0L1657.4 263.1L1658.1 262.1L1658.9 261.2L1659.7 260.3L1660.5 259.4L1661.3 258.5L1662.2 257.7L1663.0 256.8L1663.8 255.9L1664.7 255.1L1665.5 254.2L1666.4 253.4L1667.3 252.5L1668.1 251.7L1669.0 250.9L1669.9 250.1L1670.8 249.3L1671.7 248.5L1672.6 247.7L1673.5 246.9L1674.5 246.2L1675.4 245.4L1676.3 244.6L1677.3 243.9L1678.2 243.2L1679.2 242.4L1680.2 241.7L1681.2 241.0L1682.1 240.3L1683.1 239.6L1684.1 238.9L1685.1 238.3L1686.1 237.6L1687.1 237.0L1688.2 236.3L1689.2 235.7L1690.2 235.1L1691.3 234.4L1692.3 233.8L1693.3 233.2L1694.4 232.7L1695.5 232.1L1696.5 231.5L1697.6 231.0L1698.7 230.4L1699.8 229.9L1700.9 229.4L1701.9 228.8L1703.0 228.3L1704.2 227.8L1705.3 227.4L1706.4 226.9L1707.5 226.4L1708.6 226.0L1709.7 225.5L1710.9 225.1L1712.0 224.7L1713.1 224.2L1714.3 223.8L1715.4 223.4L1716.6 223.0L1717.7 222.6L1718.9 222.2L1720.1 221.9L1721.2 221.5L1722.4 221.2L1723.6 220.8L1724.7 220.5L1725.9 220.1L1727.1 219.8L1728.3 219.5L1729.4 219.2L1730.6 218.8L1731.8 218.5L1733.0 218.2L1734.2 217.9L1735.3 217.7L1736.5 217.4L1737.7 217.1L1738.9 216.8L1740.1 216.6L1741.3 216.3L1742.5 216.1L1743.7 215.8L1744.9 215.6L1746.1 215.3L1747.3 215.1L1748.5 214.8L1749.7 214.6L1750.8 214.4L1752.0 214.2L1753.2 214.0L1754.4 213.7L1755.6 213.5L1756.8 213.3L1758.0 213.1L1759.2 212.9L1760.4 212.8L1761.6 212.6L1762.8 212.4L1764.0 212.2L1765.2 212.0L1766.4 211.9L1767.6 211.7L1768.8 211.5L1770.0 211.4L1771.2 211.2L1772.5 211.1L1773.7 210.9L1774.9 210.8L1776.1 210.6L1777.3 210.5L1778.5 210.4L1779.7 210.2L1780.9 210.1L1782.1 210.0L1783.3 209.9L1784.5 209.7L1785.7 209.6L1786.9 209.5L1788.1 209.4L1789.3 209.3L1790.6 209.2L1791.8 209.1L1793.0 209.0L1794.2 208.9L1795.4 208.8L1796.6 208.7L1797.8 208.6L1799.0 208.5L1800.2 208.4L1801.5 208.4L1802.7 208.3L1803.9 208.2L1805.1 208.1L1806.3 208.1L1807.5 208.0L1808.7 207.9L1809.9 207.8L1811.2 207.8L1812.4 207.7L1813.6 207.7L1814.8 207.6L1816.0 207.5L1817.2 207.5L1818.4 207.4L1819.6 207.4L1820.9 207.3L1822.1 207.3L1823.3 207.2L1824.5 207.2L1825.7 207.1L1826.9 207.1L1828.1 207.0L1829.4 207.0L1830.6 206.9L1831.8 206.9L1833.0 206.8L1834.2 206.8L1835.4 206.8L1836.7 206.7L1837.9 206.7L1839.1 206.7L1840.3 206.6L1841.5 206.6L1842.7 206.5L1843.9 206.5L1845.2 206.5L1846.4 206.4L1847.6 206.4L1848.8 206.4L1850.0 206.3L1851.2 206.3L1852.4 206.3L1853.7 206.2L1854.9 206.2L1856.1 206.2L1857.3 206.1L1858.5 206.1L1859.7 206.1L1860.9 206.0L1862.2 206.0L1863.4 206.0L1864.6 205.9L1865.8 205.9L1867.0 205.8L1868.2 205.8L1869.4 205.8L1870.7 205.7L1871.9 205.7L1873.1 205.7L1874.3 205.6L1875.5 205.6L1876.7 205.5L1877.9 205.5L1879.1 205.4L1880.3 205.4L1881.6 205.3L1882.8 205.3L1884.0 205.2L1885.2 205.2L1886.4 205.1L1887.6 205.1L1888.8 205.0L1890.0 205.0L1891.2 204.9L1892.4 204.8L1893.6 204.8L1894.9 204.7L1896.1 204.7L1897.3 204.6L1898.5 204.5L1899.7 204.4L1900.9 204.4L1902.1 204.3L1903.3 204.2L1904.5 204.1L1905.7 204.1L1906.9 204.0L1908.1 203.9L1909.3 203.8L1910.5 203.7L1911.7 203.6L1912.9 203.5L1914.1 203.4L1915.3 203.3L1916.5 203.2L1917.7 203.1L1918.9 203.0" fill="none" stroke="#0f0" stroke-width="10" stroke-linejoin="round"/>
<rect x="1179" y="78" width="739.5" height="1238" fill="none" stroke="#000" stroke-width="6"/>
<line x1="1153.5" y1="1316.00" x2="1179" y2="1316.00" stroke="#000" stroke-width="6"/>
<line x1="1153.5" y1="1161.25" x2="1179" y2="1161.25" stroke="#000" stroke-width="6"/>
<line x1="1153.5" y1="1006.50" x2="1179" y2="1006.50" stroke="#000" stroke-width="6"/>
<line x1="1153.5" y1="851.75" x2="1179" y2="851.75" stroke="#000" stroke-width="6"/>
<line x1="1153.5" y1="697.00" x2="1179" y2="697.00" stroke="#000" stroke-width="6"/>
<line x1="1153.5" y1="542.25" x2="1179" y2="542.25" stroke="#000" stroke-width="6"/>
<line x1="1153.5" y1="387.50" x2="1179" y2="387.50" stroke="#000" stroke-width="6"/>
<line x1="1153.5" y1="232.75" x2="1179" y2="232.75" stroke="#000" stroke-width="6"/>
<line x1="1153.5" y1="78.00" x2="1179" y2="78.00" stroke="#000" stroke-width="6"/>
<line x1="1166" y1="1238.62" x2="1179" y2="1238.62" stroke="#000" stroke-width="6"/>
<line x1="1166" y1="1083.88" x2="1179" y2="1083.88" stroke="#000" stroke-width="6"/>
<line x1="1166" y1="929.12" x2="1179" y2="929.12" stroke="#000" stroke-width="6"/>
<line x1="1166" y1="774.38" x2="1179" y2="774.38" stroke="#000" stroke-width="6"/>
<line x1="1166" y1="619.62" x2="1179" y2="619.62" stroke="#000" stroke-width="6"/>
<line x1="1166" y1="464.88" x2="1179" y2="464.88" stroke="#000" stroke-width="6"/>
<line x1="1166" y1="310.12" x2="1179" y2="310.12" stroke="#000" stroke-width="6"/>
<line x1="1166" y1="155.38" x2="1179" y2="155.38" stroke="#000" stroke-width="6"/>
<line x1="1179.00" y1="1316" x2="1179.00" y2="1342" stroke="#000" stroke-width="6"/>
<line x1="1363.88" y1="1316" x2="1363.88" y2="1342" stroke="#000" stroke-width="6"/>
<line x1="1548.75" y1="1316" x2="1548.75" y2="1342" stroke="#000" stroke-width="6"/>
<line x1="1733.62" y1="1316" x2="1733.62" y2="1342" stroke="#000" stroke-width="6"/>
<line x1="1918.50" y1="1316" x2="1918.50" y2="1342" stroke="#000" stroke-width="6"/>
<line x1="1271.44" y1="1316" x2="1271.44" y2="1329" stroke="#000" stroke-width="6"/>
<line x1="1456.31" y1="1316" x2="1456.31" y2="1329" stroke="#000" stroke-width="6"/>
<line x1="1641.19" y1="1316" x2="1641.19" y2="1329" stroke="#000" stroke-width="6"/>
<line x1="1826.06" y1="1316" x2="1826.06" y2="1329" stroke="#000" stroke-width="6"/>
<line x1="585.0" y1="812" x2="712.0" y2="812" stroke="#000" stroke-width="10" stroke-linecap="round"/>
<line x1="585.0" y1="894" x2="712.0" y2="894" stroke="#f00" stroke-width="10" stroke-linecap="round"/>
<line x1="585.15" y1="977" x2="711.85" y2="977" stroke="#0f0" stroke-width="10.3" stroke-linecap="round"/>
<line x1="584.6" y1="1059.5" x2="712.4" y2="1059.5" stroke="#00f" stroke-width="9.2" stroke-linecap="round"/>
<line x1="584.55" y1="1166.5" x2="712.45" y2="1166.5" stroke="#808000" stroke-width="9.1" stroke-linecap="round"/>
<text transform="matrix(0.5369 0 0 0.5700 744.10 830.90)" font-size="100" font-family='"Liberation Sans", Arial, sans-serif' font-weight="bold" fill="#000">T = 12 K</text>
<text transform="matrix(0.5367 0 0 0.5920 743.30 913.34)" font-size="100" font-family='"Liberation Sans", Arial, sans-serif' font-weight="bold" fill="#000">T = 36 K</text>
<text transform="matrix(0.5367 0 0 0.5791 743.30 996.13)" font-size="100" font-family='"Liberation Sans", Arial, sans-serif' font-weight="bold" fill="#000">T = 60 K</text>
<text transform="matrix(0.5478 0 0 0.5770 742.24 1077.70)" font-size="100" font-family='"Liberation Sans", Arial, sans-serif' font-weight="bold" fill="#000">P</text>
<text transform="matrix(0.3911 0 0 0.5770 778.34 1100.70)" font-size="100" font-family='"Liberation Sans", Arial, sans-serif' font-weight="bold" fill="#000">1</text>
<text transform="matrix(0.5478 0 0 0.5770 742.24 1184.70)" font-size="100" font-family='"Liberation Sans", Arial, sans-serif' font-weight="bold" fill="#000">P</text>
<text transform="matrix(0.5291 0 0 0.5779 777.59 1208.15)" font-size="100" font-family='"Liberation Sans", Arial, sans-serif' font-weight="bold" fill="#000">3</text>
<text transform="matrix(0.5363 0 0 0.5471 239.13 136.55)" font-size="100" font-family='"Liberation Sans", Arial, sans-serif' font-weight="bold" fill="#000">(a)</text>
<text transform="matrix(0.5477 0 0 0.5800 331.14 171.90)" font-size="100" font-family='"Liberation Sans", Arial, sans-serif' font-weight="bold" fill="#000">N</text>
<text transform="matrix(0.2982 0 0 0.3158 370.03 193.79)" font-size="100" font-family='"Liberation Sans", Arial, sans-serif' font-weight="bold" fill="#000">a</text>
<text transform="matrix(0.5448 0 0 0.5819 402.64 172.43)" font-size="100" font-family='"Liberation Sans", Arial, sans-serif' font-weight="bold" fill="#000">= 64</text>
<text transform="matrix(0.5477 0 0 0.5829 331.14 261.00)" font-size="100" font-family='"Liberation Sans", Arial, sans-serif' font-weight="bold" fill="#000">N</text>
<text transform="matrix(0.3563 0 0 0.3199 369.47 282.90)" font-size="100" font-family='"Liberation Sans", Arial, sans-serif' font-weight="bold" fill="#000">z</text>
<text transform="matrix(0.5378 0 0 0.5793 400.67 261.35)" font-size="100" font-family='"Liberation Sans", Arial, sans-serif' font-weight="bold" fill="#000">= 13</text>
<text transform="matrix(0.5340 0 0 0.5933 331.79 344.62)" font-size="100" font-family='"Liberation Sans", Arial, sans-serif' font-weight="bold" fill="#000">U</text>
<text transform="matrix(0.2450 0 0 0.3372 371.26 366.10)" font-size="100" font-family='"Liberation Sans", Arial, sans-serif' font-weight="bold" fill="#000">1</text>
<text transform="matrix(0.5378 0 0 0.5847 402.67 344.63)" font-size="100" font-family='"Liberation Sans", Arial, sans-serif' font-weight="bold" fill="#000">= 42 meV</text>
<text transform="matrix(0.7004 0 0 0.5350 328.32 432.46)" font-size="100" font-family='"Liberation Serif", "Times New Roman", serif' font-weight="normal" fill="#000">μ</text>
<text transform="matrix(0.5364 0 0 0.4974 386.87 429.87)" font-size="100" font-family='"Liberation Sans", Arial, sans-serif' font-weight="bold" fill="#000">=</text>
<text transform="matrix(0.5307 0 0 0.5862 433.91 433.43)" font-size="100" font-family='"Liberation Sans", Arial, sans-serif' font-weight="bold" fill="#000">U</text>
<text transform="matrix(0.2385 0 0 0.3329 474.30 455.70)" font-size="100" font-family='"Liberation Sans", Arial, sans-serif' font-weight="bold" fill="#000">1</text>
<text transform="matrix(0.6208 0 0 0.5666 325.11 534.00)" font-size="100" font-family='"Liberation Serif", "Times New Roman", serif' font-weight="normal" fill="#000">Γ</text>
<text transform="matrix(0.3253 0 0 0.3432 357.53 555.39)" font-size="100" font-family='"Liberation Sans", Arial, sans-serif' font-weight="bold" fill="#000">e,t</text>
<text transform="matrix(0.5404 0 0 0.4974 410.66 530.87)" font-size="100" font-family='"Liberation Sans", Arial, sans-serif' font-weight="bold" fill="#000">=</text>
<text transform="matrix(0.6112 0 0 0.6984 456.92 534.42)" font-size="100" font-family='"Liberation Serif", "Times New Roman", serif' font-weight="bold" fill="#000">t</text>
<text transform="matrix(0.3372 0 0 0.3299 475.74 556.00)" font-size="100" font-family='"Liberation Sans", Arial, sans-serif' font-weight="bold" fill="#000">LR</text>
<text transform="matrix(0.5371 0 0 0.5749 632.21 483.94)" font-size="100" font-family='"Liberation Sans", Arial, sans-serif' font-weight="bold" fill="#000">NDC</text>
<text transform="matrix(0.5400 0 0 0.5720 446.39 904.94)" font-size="100" font-family='"Liberation Sans", Arial, sans-serif' font-weight="bold" fill="#000">NDC</text>
<line x1="698.6" y1="518" x2="697.3" y2="564" stroke="#000" stroke-width="3"/>
<polygon points="689.1,562.2 705,563.1 695.4,594.7" fill="#000"/>
<line x1="495.5" y1="857" x2="495.5" y2="811" stroke="#000" stroke-width="3"/>
<polygon points="487,812.8 502.9,812.8 494.9,781.2" fill="#000"/>
<text transform="matrix(0.5436 0 0 0.5450 1200.29 147.49)" font-size="100" font-family='"Liberation Sans", Arial, sans-serif' font-weight="bold" fill="#000">(b)</text>
<text transform="matrix(0.5407 0 0 0.5933 1267.45 366.52)" font-size="100" font-family='"Liberation Sans", Arial, sans-serif' font-weight="bold" fill="#000">U</text>
<text transform="matrix(0.2407 0 0 0.3358 1307.38 388.00)" font-size="100" font-family='"Liberation Sans", Arial, sans-serif' font-weight="bold" fill="#000">1</text>
<text transform="matrix(0.5414 0 0 0.5847 1339.55 366.53)" font-size="100" font-family='"Liberation Sans", Arial, sans-serif' font-weight="bold" fill="#000">= 0</text>
<text transform="matrix(0.7004 0 0 0.5380 1264.22 454.39)" font-size="100" font-family='"Liberation Serif", "Times New Roman", serif' font-weight="normal" fill="#000">μ</text>
<text transform="matrix(0.5474 0 0 0.5847 1322.73 455.13)" font-size="100" font-family='"Liberation Sans", Arial, sans-serif' font-weight="bold" fill="#000">= U</text>
<text transform="matrix(0.2407 0 0 0.3270 1410.48 476.60)" font-size="100" font-family='"Liberation Sans", Arial, sans-serif' font-weight="bold" fill="#000">1</text>
<text transform="matrix(0.7225 0 0 0.7238 484.41 1481.80)" font-size="100" font-family='"Liberation Sans", Arial, sans-serif' font-weight="bold" fill="#000">V</text>
<text transform="matrix(0.4076 0 0 0.4112 532.21 1509.70)" font-size="100" font-family='"Liberation Sans", Arial, sans-serif' font-weight="bold" fill="#000">bias</text>
<text transform="matrix(0.7025 0 0 0.6877 613.30 1481.63)" font-size="100" font-family='"Liberation Sans", Arial, sans-serif' font-weight="bold" fill="#000">(mV)</text>
<text transform="matrix(0.7225 0 0 0.7238 1421.31 1470.90)" font-size="100" font-family='"Liberation Sans", Arial, sans-serif' font-weight="bold" fill="#000">V</text>
<text transform="matrix(0.4123 0 0 0.4085 1468.28 1499.60)" font-size="100" font-family='"Liberation Sans", Arial, sans-serif' font-weight="bold" fill="#000">bias</text>
<text transform="matrix(0.7010 0 0 0.6877 1550.61 1470.73)" font-size="100" font-family='"Liberation Sans", Arial, sans-serif' font-weight="bold" fill="#000">(mV)</text>
<g transform="rotate(-90)">
<text transform="matrix(0.7003 0 0 0.7223 -801.06 80.89)" font-size="100" font-family='"Liberation Sans", Arial, sans-serif' font-weight="bold" fill="#000">J</text>
<text transform="matrix(0.5953 0 0 0.6823 -740.86 80.64)" font-size="100" font-family='"Liberation Sans", Arial, sans-serif' font-weight="bold" fill="#000">(</text>
<text transform="matrix(0.6940 0 0 0.7223 -715.95 80.89)" font-size="100" font-family='"Liberation Sans", Arial, sans-serif' font-weight="bold" fill="#000">J</text>
<text transform="matrix(0.6939 0 0 0.7189 -675.64 103.00)" font-size="100" font-family='"Liberation Sans", Arial, sans-serif' font-weight="bold" fill="#000">0</text>
<text transform="matrix(0.5917 0 0 0.6823 -632.86 80.64)" font-size="100" font-family='"Liberation Sans", Arial, sans-serif' font-weight="bold" fill="#000">)</text>
</g>
</svg>
</body></html>
